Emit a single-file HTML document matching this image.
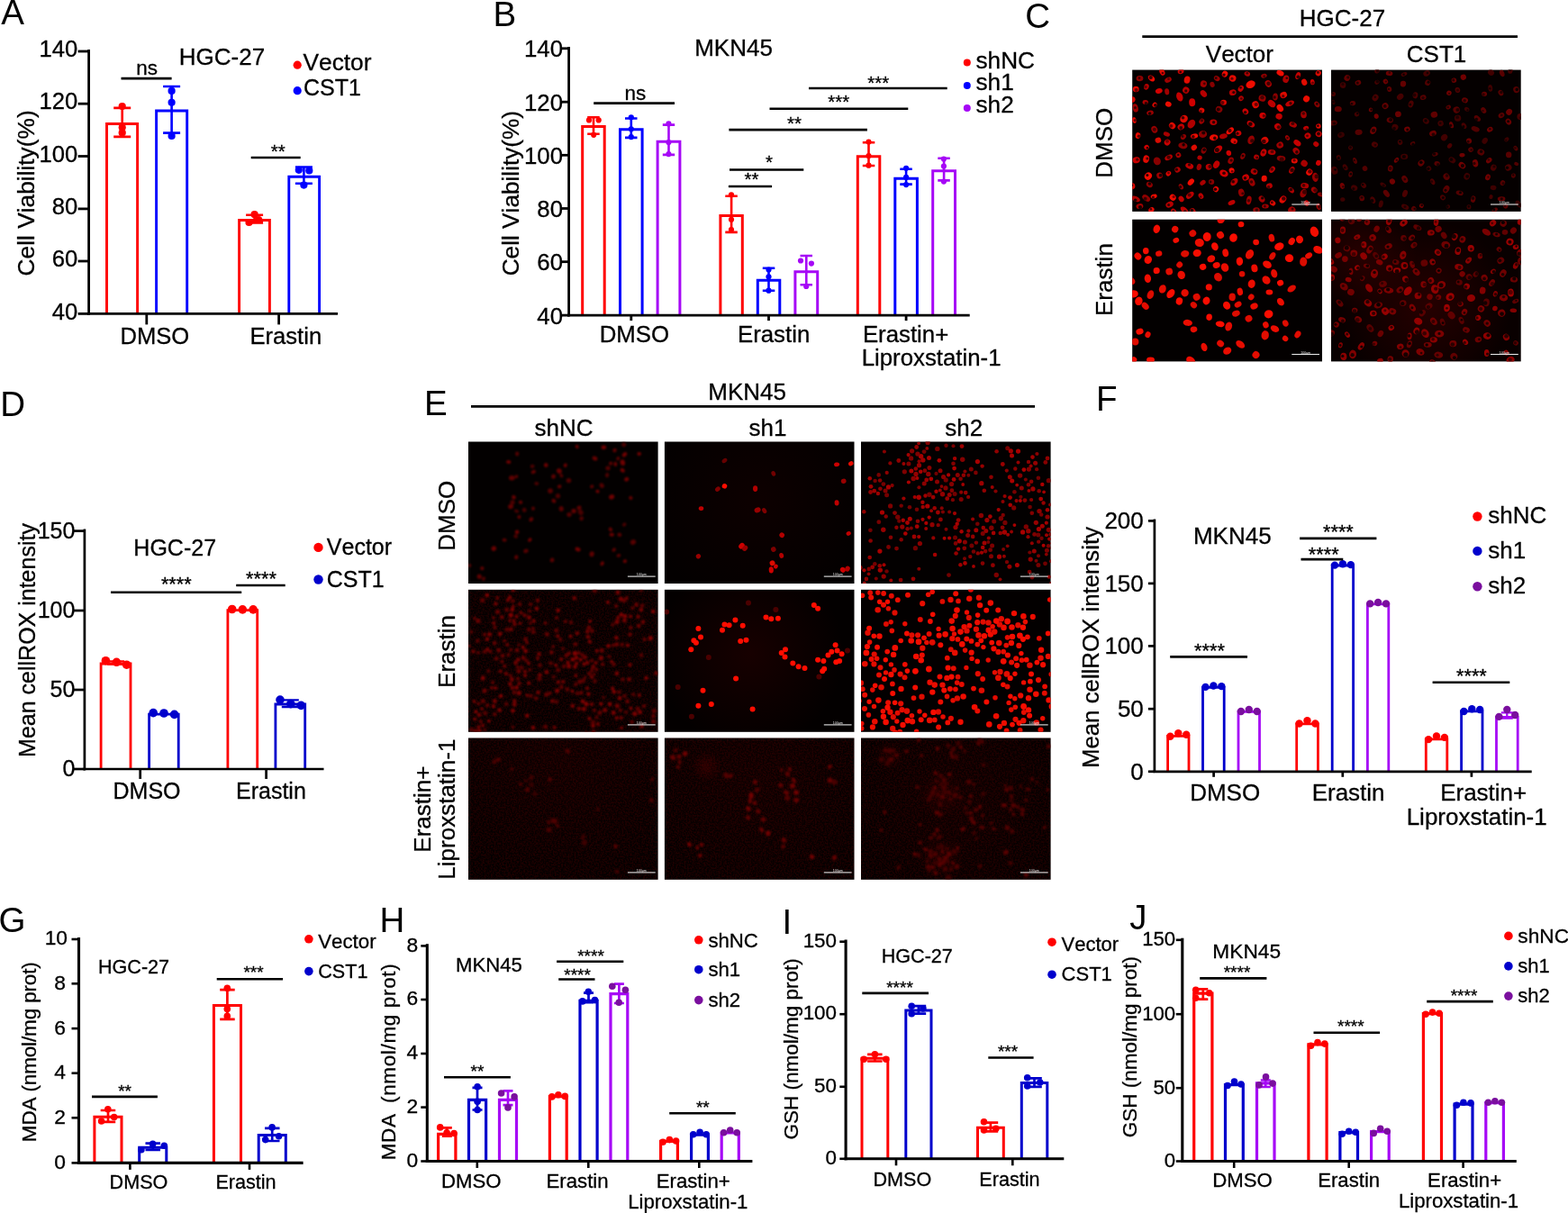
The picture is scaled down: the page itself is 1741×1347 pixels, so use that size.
<!DOCTYPE html>
<html lang="en"><head><meta charset="utf-8"><title>Figure</title>
<style>html,body{margin:0;padding:0;background:#fff;overflow:hidden}svg{display:block}text{font-family:"Liberation Sans",sans-serif;fill:#000;font-kerning:none;font-variant-ligatures:none;stroke:#000;stroke-width:0.3px;white-space:pre}</style>
</head><body>
<svg width="1741" height="1347" viewBox="0 0 1741 1347" role="img" aria-label="Figure panels A-J">
<defs><filter id="bl" x="-5%" y="-5%" width="110%" height="110%"><feGaussianBlur stdDeviation="0.55"/></filter><filter id="b2" x="-5%" y="-5%" width="110%" height="110%"><feGaussianBlur stdDeviation="0.95"/></filter><filter id="nz" x="0" y="0" width="100%" height="100%"><feTurbulence type="fractalNoise" baseFrequency="0.55" numOctaves="2" seed="3"/><feColorMatrix type="matrix" values="0 0 0 0 1  0 0 0 0 0  0 0 0 0 0  3 0 0 0 -1.05"/></filter><linearGradient id="th" x1="0" y1="0" x2="0" y2="1"><stop offset="0" stop-color="#b00" stop-opacity="1"/><stop offset="0.55" stop-color="#b00" stop-opacity="0.6"/><stop offset="1" stop-color="#b00" stop-opacity="0"/></linearGradient><radialGradient id="hz"><stop offset="0" stop-color="#c00" stop-opacity="0.5"/><stop offset="1" stop-color="#c00" stop-opacity="0"/></radialGradient></defs>
<rect width="1741" height="1347" fill="#fff"/>
<text x="1.2" y="27.4" font-size="38.5" text-anchor="start" style="stroke:none">A</text>
<text x="547.6" y="29" font-size="38.5" text-anchor="start" style="stroke:none">B</text>
<text x="1138.2" y="31.2" font-size="38.5" text-anchor="start" style="stroke:none">C</text>
<text x="0.2" y="461.7" font-size="38.5" text-anchor="start" style="stroke:none">D</text>
<text x="471" y="461.3" font-size="38.5" text-anchor="start" style="stroke:none">E</text>
<text x="1217" y="456.2" font-size="38.5" text-anchor="start" style="stroke:none">F</text>
<text x="-1.5" y="1035" font-size="38.5" text-anchor="start" style="stroke:none">G</text>
<text x="421.6" y="1035.3" font-size="38.5" text-anchor="start" style="stroke:none">H</text>
<text x="868.4" y="1037" font-size="38.5" text-anchor="start" style="stroke:none">I</text>
<text x="1254.2" y="1032.3" font-size="38.5" text-anchor="start" style="stroke:none">J</text>
<g>
<path d="M118.5 348.4 V137.5 H152.6 V348.4" fill="none" stroke="#ff0000" stroke-width="2.9"/>
<path d="M126.2 119.9 H145.2 M126.2 151.9 H145.2 M135.7 119.9 V151.9" fill="none" stroke="#ff0000" stroke-width="2.6"/>
<circle cx="135.7" cy="118.1" r="4.1" fill="#ff0000"/>
<circle cx="135.7" cy="141.5" r="4.1" fill="#ff0000"/>
<circle cx="135.7" cy="147.4" r="4.1" fill="#ff0000"/>
<path d="M173.6 348.4 V123 H207.7 V348.4" fill="none" stroke="#0000ff" stroke-width="2.9"/>
<path d="M181.1 96 H200.1 M181.1 147.6 H200.1 M190.6 96 V147.6" fill="none" stroke="#0000ff" stroke-width="2.6"/>
<circle cx="190.6" cy="100.9" r="4.1" fill="#0000ff"/>
<circle cx="190.6" cy="113.8" r="4.1" fill="#0000ff"/>
<circle cx="190.6" cy="150.9" r="4.1" fill="#0000ff"/>
<path d="M265.6 348.4 V244.5 H299.4 V348.4" fill="none" stroke="#ff0000" stroke-width="2.9"/>
<path d="M273.1 238.8 H292.1 M273.1 247.4 H292.1 M282.6 238.8 V247.4" fill="none" stroke="#ff0000" stroke-width="2.6"/>
<circle cx="282.6" cy="238.2" r="4.1" fill="#ff0000"/>
<circle cx="276.5" cy="247" r="4.1" fill="#ff0000"/>
<circle cx="287.2" cy="244" r="4.1" fill="#ff0000"/>
<path d="M320.8 348.4 V196.3 H354.6 V348.4" fill="none" stroke="#0000ff" stroke-width="2.9"/>
<path d="M327.9 185.5 H346.9 M327.9 203.7 H346.9 M337.4 185.5 V203.7" fill="none" stroke="#0000ff" stroke-width="2.6"/>
<circle cx="331.8" cy="188.8" r="4.1" fill="#0000ff"/>
<circle cx="343.3" cy="189.4" r="4.1" fill="#0000ff"/>
<circle cx="337.4" cy="205.6" r="4.1" fill="#0000ff"/>
<line x1="98.6" y1="55.1" x2="98.6" y2="349.8" stroke="#000" stroke-width="2.8"/>
<line x1="97.2" y1="348.4" x2="375" y2="348.4" stroke="#000" stroke-width="2.8"/>
<line x1="86.6" y1="57" x2="98.6" y2="57" stroke="#000" stroke-width="2.8"/>
<text x="86.3" y="63.1" font-size="25.6" text-anchor="end">140</text>
<line x1="86.6" y1="115.2" x2="98.6" y2="115.2" stroke="#000" stroke-width="2.8"/>
<text x="86.3" y="121.3" font-size="25.6" text-anchor="end">120</text>
<line x1="86.6" y1="173.5" x2="98.6" y2="173.5" stroke="#000" stroke-width="2.8"/>
<text x="86.3" y="179.6" font-size="25.6" text-anchor="end">100</text>
<line x1="86.6" y1="231.9" x2="98.6" y2="231.9" stroke="#000" stroke-width="2.8"/>
<text x="86.3" y="238" font-size="25.6" text-anchor="end">80</text>
<line x1="86.6" y1="290" x2="98.6" y2="290" stroke="#000" stroke-width="2.8"/>
<text x="86.3" y="296.1" font-size="25.6" text-anchor="end">60</text>
<line x1="86.6" y1="348.4" x2="98.6" y2="348.4" stroke="#000" stroke-width="2.8"/>
<text x="86.3" y="354.5" font-size="25.6" text-anchor="end">40</text>
<line x1="162.8" y1="348.4" x2="162.8" y2="360.4" stroke="#000" stroke-width="2.8"/>
<line x1="309.6" y1="348.4" x2="309.6" y2="360.4" stroke="#000" stroke-width="2.8"/>
<text x="171.8" y="382.2" font-size="25.6" text-anchor="middle">DMSO</text>
<text x="317.3" y="382.2" font-size="25.6" text-anchor="middle">Erastin</text>
<text x="38.3" y="214.4" font-size="26.3" text-anchor="middle" transform="rotate(-90 38.3 214.4)">Cell Viability(%)</text>
<text x="246.5" y="71.5" font-size="26" text-anchor="middle">HGC-27</text>
<line x1="134.5" y1="87.1" x2="190.6" y2="87.1" stroke="#000" stroke-width="2.6"/>
<text x="163.2" y="82.6" font-size="22.5" text-anchor="middle">ns</text>
<line x1="278.7" y1="175" x2="333.7" y2="175" stroke="#000" stroke-width="2.6"/>
<text x="308.7" y="175" font-size="20.5" text-anchor="middle">**</text>
<circle cx="330.2" cy="72.2" r="4.6" fill="#ff0000"/>
<text x="336.5" y="77.7" font-size="26.3" text-anchor="start">Vector</text>
<circle cx="330.2" cy="100.7" r="4.6" fill="#0000ff"/>
<text x="337" y="106" font-size="25" text-anchor="start">CST1</text>
</g>
<g>
<path d="M646.7 350.1 V140.6 H671.2 V350.1" fill="none" stroke="#ff0000" stroke-width="3"/>
<path d="M652.2 130.3 H665.7 M652.2 148.8 H665.7 M659 130.3 V148.8" fill="none" stroke="#ff0000" stroke-width="2.6"/>
<circle cx="654" cy="133.4" r="3.1" fill="#ff0000"/>
<circle cx="664.7" cy="133.4" r="3.1" fill="#ff0000"/>
<circle cx="659.2" cy="149.8" r="3.1" fill="#ff0000"/>
<path d="M688.5 350.1 V143.7 H713.1 V350.1" fill="none" stroke="#0000ff" stroke-width="3"/>
<path d="M694 131.5 H707.5 M694 152.9 H707.5 M700.8 131.5 V152.9" fill="none" stroke="#0000ff" stroke-width="2.6"/>
<circle cx="700.8" cy="130.3" r="3.1" fill="#0000ff"/>
<circle cx="700.8" cy="143.3" r="3.1" fill="#0000ff"/>
<circle cx="700.8" cy="152.1" r="3.1" fill="#0000ff"/>
<path d="M730.1 350.1 V157.2 H754.9 V350.1" fill="none" stroke="#a608f6" stroke-width="3"/>
<path d="M735.8 138.6 H749.2 M735.8 171.9 H749.2 M742.5 138.6 V171.9" fill="none" stroke="#a608f6" stroke-width="2.6"/>
<circle cx="742.4" cy="137.4" r="3.1" fill="#a608f6"/>
<circle cx="742.4" cy="158.1" r="3.1" fill="#a608f6"/>
<circle cx="742.4" cy="171.1" r="3.1" fill="#a608f6"/>
<path d="M799.9 350.1 V239.6 H824.3 V350.1" fill="none" stroke="#ff0000" stroke-width="3"/>
<path d="M805.3 217.7 H818.8 M805.3 257.9 H818.8 M812.1 217.7 V257.9" fill="none" stroke="#ff0000" stroke-width="2.6"/>
<circle cx="812" cy="216.3" r="3.1" fill="#ff0000"/>
<circle cx="812" cy="243.8" r="3.1" fill="#ff0000"/>
<circle cx="812" cy="255" r="3.1" fill="#ff0000"/>
<path d="M841.3 350.1 V311.2 H865.8 V350.1" fill="none" stroke="#0000ff" stroke-width="3"/>
<path d="M846.8 297.8 H860.3 M846.8 322.7 H860.3 M853.5 297.8 V322.7" fill="none" stroke="#0000ff" stroke-width="2.6"/>
<circle cx="853.5" cy="299.5" r="3.1" fill="#0000ff"/>
<circle cx="853.5" cy="307.3" r="3.1" fill="#0000ff"/>
<circle cx="853.5" cy="322.7" r="3.1" fill="#0000ff"/>
<path d="M882.9 350.1 V301.7 H907.7 V350.1" fill="none" stroke="#a608f6" stroke-width="3"/>
<path d="M888.5 284 H902 M888.5 316.3 H902 M895.3 284 V316.3" fill="none" stroke="#a608f6" stroke-width="2.6"/>
<circle cx="889" cy="289.5" r="3.1" fill="#a608f6"/>
<circle cx="900.9" cy="292.6" r="3.1" fill="#a608f6"/>
<circle cx="895.2" cy="318" r="3.1" fill="#a608f6"/>
<path d="M952.3 350.1 V173.8 H976.8 V350.1" fill="none" stroke="#ff0000" stroke-width="3"/>
<path d="M957.8 158.3 H971.3 M957.8 184 H971.3 M964.5 158.3 V184" fill="none" stroke="#ff0000" stroke-width="2.6"/>
<circle cx="964.5" cy="157.6" r="3.1" fill="#ff0000"/>
<circle cx="964.5" cy="173" r="3.1" fill="#ff0000"/>
<circle cx="964.5" cy="183.7" r="3.1" fill="#ff0000"/>
<path d="M993.8 350.1 V198.3 H1018.4 V350.1" fill="none" stroke="#0000ff" stroke-width="3"/>
<path d="M999.3 187.8 H1012.8 M999.3 204.6 H1012.8 M1006.1 187.8 V204.6" fill="none" stroke="#0000ff" stroke-width="2.6"/>
<circle cx="1006.1" cy="186.8" r="3.1" fill="#0000ff"/>
<circle cx="1006.1" cy="196.8" r="3.1" fill="#0000ff"/>
<circle cx="1006.1" cy="205.1" r="3.1" fill="#0000ff"/>
<path d="M1035.7 350.1 V189.8 H1060.5 V350.1" fill="none" stroke="#a608f6" stroke-width="3"/>
<path d="M1041.3 175.7 H1054.8 M1041.3 200.4 H1054.8 M1048.1 175.7 V200.4" fill="none" stroke="#a608f6" stroke-width="2.6"/>
<circle cx="1047.9" cy="176.6" r="3.1" fill="#a608f6"/>
<circle cx="1047.9" cy="184.5" r="3.1" fill="#a608f6"/>
<circle cx="1047.9" cy="201.6" r="3.1" fill="#a608f6"/>
<line x1="631.6" y1="51.9" x2="631.6" y2="351.5" stroke="#000" stroke-width="2.8"/>
<line x1="630.2" y1="350.1" x2="1076.7" y2="350.1" stroke="#000" stroke-width="2.8"/>
<line x1="623.6" y1="53.8" x2="631.6" y2="53.8" stroke="#000" stroke-width="2.8"/>
<text x="625" y="63.2" font-size="25.8" text-anchor="end">140</text>
<line x1="623.6" y1="113.2" x2="631.6" y2="113.2" stroke="#000" stroke-width="2.8"/>
<text x="625" y="122.6" font-size="25.8" text-anchor="end">120</text>
<line x1="623.6" y1="172.3" x2="631.6" y2="172.3" stroke="#000" stroke-width="2.8"/>
<text x="625" y="181.7" font-size="25.8" text-anchor="end">100</text>
<line x1="623.6" y1="231.5" x2="631.6" y2="231.5" stroke="#000" stroke-width="2.8"/>
<text x="625" y="240.9" font-size="25.8" text-anchor="end">80</text>
<line x1="623.6" y1="290.7" x2="631.6" y2="290.7" stroke="#000" stroke-width="2.8"/>
<text x="625" y="300.1" font-size="25.8" text-anchor="end">60</text>
<line x1="623.6" y1="350.1" x2="631.6" y2="350.1" stroke="#000" stroke-width="2.8"/>
<text x="625" y="359.5" font-size="25.8" text-anchor="end">40</text>
<line x1="700.8" y1="350.1" x2="700.8" y2="356.1" stroke="#000" stroke-width="2.8"/>
<line x1="853.5" y1="350.1" x2="853.5" y2="356.1" stroke="#000" stroke-width="2.8"/>
<line x1="1006.1" y1="350.1" x2="1006.1" y2="356.1" stroke="#000" stroke-width="2.8"/>
<text x="704.4" y="380.3" font-size="25.8" text-anchor="middle">DMSO</text>
<text x="859.1" y="380.3" font-size="25.8" text-anchor="middle">Erastin</text>
<text x="1005.6" y="380.3" font-size="25.8" text-anchor="middle">Erastin+</text>
<text x="1034.1" y="406" font-size="25.8" text-anchor="middle">Liproxstatin-1</text>
<text x="575.6" y="214.6" font-size="26.2" text-anchor="middle" transform="rotate(-90 575.6 214.6)">Cell Viability(%)</text>
<text x="814.5" y="61.9" font-size="26" text-anchor="middle">MKN45</text>
<line x1="659.2" y1="114.6" x2="749" y2="114.6" stroke="#000" stroke-width="2.6"/>
<text x="705.5" y="110.8" font-size="22.5" text-anchor="middle">ns</text>
<line x1="808.9" y1="207" x2="857.1" y2="207" stroke="#000" stroke-width="2.6"/>
<text x="834.5" y="206.4" font-size="20.5" text-anchor="middle">**</text>
<line x1="810" y1="188.5" x2="892.3" y2="188.5" stroke="#000" stroke-width="2.6"/>
<text x="854" y="187.4" font-size="20.5" text-anchor="middle">*</text>
<line x1="809.4" y1="144.1" x2="962.9" y2="144.1" stroke="#000" stroke-width="2.6"/>
<text x="882.1" y="143.9" font-size="20.5" text-anchor="middle">**</text>
<line x1="854.5" y1="120.8" x2="1008.3" y2="120.8" stroke="#000" stroke-width="2.6"/>
<text x="931.3" y="120.4" font-size="20.5" text-anchor="middle">***</text>
<line x1="898" y1="98" x2="1051.7" y2="98" stroke="#000" stroke-width="2.6"/>
<text x="975.2" y="98.8" font-size="20.5" text-anchor="middle">***</text>
<circle cx="1073.8" cy="69.5" r="4" fill="#ff0000"/>
<text x="1083.5" y="75.6" font-size="26.2" text-anchor="start">shNC</text>
<circle cx="1073.8" cy="95" r="4" fill="#0000ff"/>
<text x="1083.5" y="100.1" font-size="26.2" text-anchor="start">sh1</text>
<circle cx="1073.8" cy="120" r="4" fill="#a608f6"/>
<text x="1083.5" y="125.1" font-size="26.2" text-anchor="start">sh2</text>
</g>
<g>
<path d="M112.1 854 V737 H145 V854" fill="none" stroke="#ff0000" stroke-width="2.8"/>
<path d="M119.1 734.3 H138.1 M119.1 737.6 H138.1 M128.6 734.3 V737.6" fill="none" stroke="#ff0000" stroke-width="2.3"/>
<circle cx="117.4" cy="733.7" r="4.8" fill="#ff0000"/>
<circle cx="129.4" cy="735.3" r="4.8" fill="#ff0000"/>
<circle cx="140.6" cy="738.2" r="4.8" fill="#ff0000"/>
<path d="M165.6 854 V793.1 H198.2 V854" fill="none" stroke="#0000cc" stroke-width="2.8"/>
<circle cx="170.2" cy="791.6" r="4.8" fill="#0000cc"/>
<circle cx="182" cy="792" r="4.8" fill="#0000cc"/>
<circle cx="193.6" cy="793.4" r="4.8" fill="#0000cc"/>
<path d="M252.9 854 V677.7 H285.7 V854" fill="none" stroke="#ff0000" stroke-width="2.8"/>
<circle cx="257.7" cy="676.5" r="4.8" fill="#ff0000"/>
<circle cx="269.3" cy="676.9" r="4.8" fill="#ff0000"/>
<circle cx="281.1" cy="676.9" r="4.8" fill="#ff0000"/>
<path d="M305.9 854 V782 H338.7 V854" fill="none" stroke="#0000cc" stroke-width="2.8"/>
<path d="M312.8 777.3 H331.8 M312.8 785 H331.8 M322.3 777.3 V785" fill="none" stroke="#0000cc" stroke-width="2.3"/>
<circle cx="311" cy="777.1" r="4.8" fill="#0000cc"/>
<circle cx="322.8" cy="781.6" r="4.8" fill="#0000cc"/>
<circle cx="334.3" cy="783.4" r="4.8" fill="#0000cc"/>
<line x1="93.9" y1="587.6" x2="93.9" y2="855.4" stroke="#000" stroke-width="2.7"/>
<line x1="92.6" y1="854" x2="359.5" y2="854" stroke="#000" stroke-width="2.7"/>
<line x1="81.9" y1="589.6" x2="93.9" y2="589.6" stroke="#000" stroke-width="2.7"/>
<text x="83.4" y="597.5" font-size="25" text-anchor="end">150</text>
<line x1="81.9" y1="678" x2="93.9" y2="678" stroke="#000" stroke-width="2.7"/>
<text x="83.4" y="685.9" font-size="25" text-anchor="end">100</text>
<line x1="81.9" y1="766" x2="93.9" y2="766" stroke="#000" stroke-width="2.7"/>
<text x="83.4" y="773.9" font-size="25" text-anchor="end">50</text>
<line x1="81.9" y1="854" x2="93.9" y2="854" stroke="#000" stroke-width="2.7"/>
<text x="83.4" y="861.9" font-size="25" text-anchor="end">0</text>
<line x1="155.7" y1="854" x2="155.7" y2="865" stroke="#000" stroke-width="2.7"/>
<line x1="295.6" y1="854" x2="295.6" y2="865" stroke="#000" stroke-width="2.7"/>
<text x="163" y="886.6" font-size="25" text-anchor="middle">DMSO</text>
<text x="300.9" y="886.6" font-size="25" text-anchor="middle">Erastin</text>
<text x="39" y="711" font-size="25" text-anchor="middle" transform="rotate(-90 39 711)">Mean cellROX intensity</text>
<text x="194.2" y="617.2" font-size="25" text-anchor="middle">HGC-27</text>
<line x1="123" y1="657.7" x2="268.2" y2="657.7" stroke="#000" stroke-width="2.6"/>
<text x="195.8" y="656.4" font-size="21.7" text-anchor="middle">****</text>
<line x1="262.2" y1="650" x2="316.7" y2="650" stroke="#000" stroke-width="2.6"/>
<text x="290" y="649.7" font-size="21.7" text-anchor="middle">****</text>
<circle cx="353.5" cy="607.9" r="5.2" fill="#ff0000"/>
<text x="362.8" y="616.1" font-size="25" text-anchor="start">Vector</text>
<circle cx="353.5" cy="643.5" r="5.2" fill="#0000cc"/>
<text x="362.8" y="651.7" font-size="25" text-anchor="start">CST1</text>
</g>
<g>
<path d="M1296.6 856.8 V817.4 H1320 V856.8" fill="none" stroke="#ff0000" stroke-width="2.8"/>
<circle cx="1299.4" cy="817.8" r="4.2" fill="#ff0000"/>
<circle cx="1308.3" cy="814.3" r="4.2" fill="#ff0000"/>
<circle cx="1317.2" cy="815.7" r="4.2" fill="#ff0000"/>
<path d="M1335.5 856.8 V763.3 H1359.2 V856.8" fill="none" stroke="#0000cc" stroke-width="2.8"/>
<circle cx="1338.5" cy="762.9" r="4.2" fill="#0000cc"/>
<circle cx="1347.4" cy="761.5" r="4.2" fill="#0000cc"/>
<circle cx="1356.3" cy="762.1" r="4.2" fill="#0000cc"/>
<path d="M1375 856.8 V790.4 H1398.5 V856.8" fill="none" stroke="#a608f6" stroke-width="2.8"/>
<circle cx="1377.9" cy="790" r="4.2" fill="#7a0f9e"/>
<circle cx="1386.8" cy="788" r="4.2" fill="#7a0f9e"/>
<circle cx="1395.7" cy="790" r="4.2" fill="#7a0f9e"/>
<path d="M1439.7 856.8 V803.9 H1463.4 V856.8" fill="none" stroke="#ff0000" stroke-width="2.8"/>
<circle cx="1442.6" cy="803.5" r="4.2" fill="#ff0000"/>
<circle cx="1451.5" cy="800.2" r="4.2" fill="#ff0000"/>
<circle cx="1460.4" cy="803.5" r="4.2" fill="#ff0000"/>
<path d="M1479.2 856.8 V628 H1502.6 V856.8" fill="none" stroke="#0000cc" stroke-width="2.8"/>
<circle cx="1482" cy="627.6" r="4.2" fill="#0000cc"/>
<circle cx="1490.9" cy="626.3" r="4.2" fill="#0000cc"/>
<circle cx="1499.8" cy="627.1" r="4.2" fill="#0000cc"/>
<path d="M1518.4 856.8 V670.8 H1541.8 V856.8" fill="none" stroke="#a608f6" stroke-width="2.8"/>
<circle cx="1521.2" cy="670.4" r="4.2" fill="#7a0f9e"/>
<circle cx="1530.1" cy="669" r="4.2" fill="#7a0f9e"/>
<circle cx="1539" cy="670.4" r="4.2" fill="#7a0f9e"/>
<path d="M1583.3 856.8 V820.9 H1606.8 V856.8" fill="none" stroke="#ff0000" stroke-width="2.8"/>
<circle cx="1586.1" cy="821.1" r="4.2" fill="#ff0000"/>
<circle cx="1595" cy="817.5" r="4.2" fill="#ff0000"/>
<circle cx="1603.9" cy="818.9" r="4.2" fill="#ff0000"/>
<path d="M1622.6 856.8 V789.8 H1646 V856.8" fill="none" stroke="#0000cc" stroke-width="2.8"/>
<circle cx="1625.4" cy="790" r="4.2" fill="#0000cc"/>
<circle cx="1634.3" cy="787.2" r="4.2" fill="#0000cc"/>
<circle cx="1643.2" cy="788" r="4.2" fill="#0000cc"/>
<path d="M1661.5 856.8 V796.3 H1685.2 V856.8" fill="none" stroke="#a608f6" stroke-width="2.8"/>
<path d="M1666.8 791.3 H1679.8 M1666.8 797.5 H1679.8 M1673.3 791.3 V797.5" fill="none" stroke="#a608f6" stroke-width="2.3"/>
<circle cx="1664.4" cy="795.9" r="4.2" fill="#7a0f9e"/>
<circle cx="1673.3" cy="788" r="4.2" fill="#7a0f9e"/>
<circle cx="1682.2" cy="794" r="4.2" fill="#7a0f9e"/>
<line x1="1281.9" y1="576.4" x2="1281.9" y2="858.1" stroke="#000" stroke-width="2.7"/>
<line x1="1280.6" y1="856.8" x2="1700.7" y2="856.8" stroke="#000" stroke-width="2.7"/>
<line x1="1274.9" y1="578.4" x2="1281.9" y2="578.4" stroke="#000" stroke-width="2.7"/>
<text x="1269.8" y="587.4" font-size="26" text-anchor="end">200</text>
<line x1="1274.9" y1="647.9" x2="1281.9" y2="647.9" stroke="#000" stroke-width="2.7"/>
<text x="1269.8" y="656.9" font-size="26" text-anchor="end">150</text>
<line x1="1274.9" y1="717.4" x2="1281.9" y2="717.4" stroke="#000" stroke-width="2.7"/>
<text x="1269.8" y="726.4" font-size="26" text-anchor="end">100</text>
<line x1="1274.9" y1="787.2" x2="1281.9" y2="787.2" stroke="#000" stroke-width="2.7"/>
<text x="1269.8" y="796.2" font-size="26" text-anchor="end">50</text>
<line x1="1274.9" y1="856.8" x2="1281.9" y2="856.8" stroke="#000" stroke-width="2.7"/>
<text x="1269.8" y="865.8" font-size="26" text-anchor="end">0</text>
<line x1="1347.6" y1="856.8" x2="1347.6" y2="862.8" stroke="#000" stroke-width="2.7"/>
<line x1="1490.8" y1="856.8" x2="1490.8" y2="862.8" stroke="#000" stroke-width="2.7"/>
<line x1="1633.9" y1="856.8" x2="1633.9" y2="862.8" stroke="#000" stroke-width="2.7"/>
<text x="1360.2" y="889.2" font-size="26" text-anchor="middle">DMSO</text>
<text x="1497.1" y="889.2" font-size="26" text-anchor="middle">Erastin</text>
<text x="1647.2" y="889.2" font-size="26" text-anchor="middle">Erastin+</text>
<text x="1639.7" y="916" font-size="26" text-anchor="middle">Liproxstatin-1</text>
<text x="1220" y="719" font-size="25.8" text-anchor="middle" transform="rotate(-90 1220 719)">Mean cellROX intensity</text>
<text x="1368.3" y="603.8" font-size="26" text-anchor="middle">MKN45</text>
<line x1="1299.2" y1="729.4" x2="1385" y2="729.4" stroke="#000" stroke-width="2.6"/>
<text x="1343" y="729.5" font-size="21.7" text-anchor="middle">****</text>
<line x1="1443.1" y1="597.9" x2="1528.4" y2="597.9" stroke="#000" stroke-width="2.6"/>
<text x="1485.9" y="598.2" font-size="21.7" text-anchor="middle">****</text>
<line x1="1444.5" y1="621.1" x2="1491.3" y2="621.1" stroke="#000" stroke-width="2.6"/>
<text x="1469.7" y="622.6" font-size="21.7" text-anchor="middle">****</text>
<line x1="1590.6" y1="757.8" x2="1676.3" y2="757.8" stroke="#000" stroke-width="2.6"/>
<text x="1633.9" y="757.9" font-size="21.7" text-anchor="middle">****</text>
<circle cx="1640.4" cy="573.5" r="5.2" fill="#ff0000"/>
<text x="1652.3" y="581.1" font-size="26" text-anchor="start">shNC</text>
<circle cx="1640.4" cy="611.9" r="5.2" fill="#0000cc"/>
<text x="1652.3" y="620" font-size="26" text-anchor="start">sh1</text>
<circle cx="1640.4" cy="651.2" r="5.2" fill="#7a0f9e"/>
<text x="1652.3" y="659.3" font-size="26" text-anchor="start">sh2</text>
</g>
<g>
<path d="M104.9 1291.4 V1240.3 H135 V1291.4" fill="none" stroke="#ff0000" stroke-width="3"/>
<path d="M111.7 1233 H128.2 M111.7 1245.8 H128.2 M120 1233 V1245.8" fill="none" stroke="#ff0000" stroke-width="2.7"/>
<circle cx="119.8" cy="1231.7" r="3.8" fill="#ff0000"/>
<circle cx="112.6" cy="1245" r="3.8" fill="#ff0000"/>
<circle cx="126.7" cy="1240.5" r="3.8" fill="#ff0000"/>
<path d="M154.7 1291.4 V1274.3 H184.8 V1291.4" fill="none" stroke="#0000cc" stroke-width="3"/>
<path d="M161.5 1269.6 H178 M161.5 1276.8 H178 M169.8 1269.6 V1276.8" fill="none" stroke="#0000cc" stroke-width="2.7"/>
<circle cx="156.9" cy="1276.8" r="3.8" fill="#0000cc"/>
<circle cx="169.6" cy="1270.4" r="3.8" fill="#0000cc"/>
<circle cx="182.3" cy="1272.3" r="3.8" fill="#0000cc"/>
<path d="M237.4 1291.4 V1116.5 H267.5 V1291.4" fill="none" stroke="#ff0000" stroke-width="3"/>
<path d="M244.2 1099.2 H260.7 M244.2 1131.8 H260.7 M252.4 1099.2 V1131.8" fill="none" stroke="#ff0000" stroke-width="2.7"/>
<circle cx="252.3" cy="1097.3" r="3.8" fill="#ff0000"/>
<circle cx="252.3" cy="1120.4" r="3.8" fill="#ff0000"/>
<circle cx="252.3" cy="1128.4" r="3.8" fill="#ff0000"/>
<path d="M287.2 1291.4 V1260.6 H317.3 V1291.4" fill="none" stroke="#0000cc" stroke-width="3"/>
<path d="M294 1252.9 H310.5 M294 1267 H310.5 M302.2 1252.9 V1267" fill="none" stroke="#0000cc" stroke-width="2.7"/>
<circle cx="302.1" cy="1251.9" r="3.8" fill="#0000cc"/>
<circle cx="294.7" cy="1265.6" r="3.8" fill="#0000cc"/>
<circle cx="309.6" cy="1261.7" r="3.8" fill="#0000cc"/>
<line x1="87.5" y1="1040.9" x2="87.5" y2="1293" stroke="#000" stroke-width="3.1"/>
<line x1="86" y1="1291.4" x2="336.6" y2="1291.4" stroke="#000" stroke-width="3.1"/>
<line x1="79.5" y1="1043" x2="87.5" y2="1043" stroke="#000" stroke-width="2.6"/>
<text x="75" y="1049.4" font-size="22.8" text-anchor="end">10</text>
<line x1="79.5" y1="1092.3" x2="87.5" y2="1092.3" stroke="#000" stroke-width="2.6"/>
<text x="73" y="1098.7" font-size="22.8" text-anchor="end">8</text>
<line x1="79.5" y1="1142.1" x2="87.5" y2="1142.1" stroke="#000" stroke-width="2.6"/>
<text x="73" y="1148.5" font-size="22.8" text-anchor="end">6</text>
<line x1="79.5" y1="1191.7" x2="87.5" y2="1191.7" stroke="#000" stroke-width="2.6"/>
<text x="73" y="1198.1" font-size="22.8" text-anchor="end">4</text>
<line x1="79.5" y1="1241.3" x2="87.5" y2="1241.3" stroke="#000" stroke-width="2.6"/>
<text x="73" y="1247.7" font-size="22.8" text-anchor="end">2</text>
<line x1="79.5" y1="1291.4" x2="87.5" y2="1291.4" stroke="#000" stroke-width="2.6"/>
<text x="73" y="1297.8" font-size="22.8" text-anchor="end">0</text>
<line x1="144.4" y1="1291.4" x2="144.4" y2="1298.9" stroke="#000" stroke-width="2.6"/>
<line x1="277" y1="1291.4" x2="277" y2="1298.9" stroke="#000" stroke-width="2.6"/>
<text x="154" y="1320" font-size="21.6" text-anchor="middle">DMSO</text>
<text x="273" y="1320" font-size="21.6" text-anchor="middle">Erastin</text>
<text x="40.5" y="1168.2" font-size="22.5" text-anchor="middle" transform="rotate(-90 40.5 1168.2)" textLength="200" lengthAdjust="spacing">MDA (nmol/mg prot)</text>
<text x="148.5" y="1081.4" font-size="21.6" text-anchor="middle">HGC-27</text>
<line x1="102" y1="1217.9" x2="174.9" y2="1217.9" stroke="#000" stroke-width="2.6"/>
<text x="138.6" y="1217.5" font-size="19" text-anchor="middle">**</text>
<line x1="240.7" y1="1087.3" x2="314.1" y2="1087.3" stroke="#000" stroke-width="2.6"/>
<text x="281.5" y="1086.3" font-size="19" text-anchor="middle">***</text>
<circle cx="342.9" cy="1042.8" r="4.8" fill="#ff0000"/>
<text x="353.2" y="1053.1" font-size="22.3" text-anchor="start">Vector</text>
<circle cx="342.9" cy="1078.6" r="4.8" fill="#0000cc"/>
<text x="353.2" y="1085.9" font-size="21.6" text-anchor="start">CST1</text>
</g>
<g>
<path d="M486.6 1289.5 V1259.3 H505.9 V1289.5" fill="none" stroke="#ff0000" stroke-width="3.2"/>
<path d="M490.8 1252.4 H501.8 M490.8 1261.7 H501.8 M496.2 1252.4 V1261.7" fill="none" stroke="#ff0000" stroke-width="2.7"/>
<circle cx="488.7" cy="1251.9" r="3.8" fill="#ff0000"/>
<circle cx="496.1" cy="1257.7" r="3.8" fill="#ff0000"/>
<circle cx="504.1" cy="1258.5" r="3.8" fill="#ff0000"/>
<path d="M520.5 1289.5 V1221.4 H539.6 V1289.5" fill="none" stroke="#0000cc" stroke-width="3.2"/>
<path d="M524.5 1207.9 H535.5 M524.5 1232.5 H535.5 M530 1207.9 V1232.5" fill="none" stroke="#0000cc" stroke-width="2.7"/>
<circle cx="530.1" cy="1206.8" r="3.8" fill="#0000cc"/>
<circle cx="530.1" cy="1223.2" r="3.8" fill="#0000cc"/>
<circle cx="530.1" cy="1232.5" r="3.8" fill="#0000cc"/>
<path d="M554.5 1289.5 V1221.4 H573.5 V1289.5" fill="none" stroke="#a608f6" stroke-width="3.2"/>
<path d="M558.5 1211.3 H569.5 M558.5 1227.2 H569.5 M564 1211.3 V1227.2" fill="none" stroke="#a608f6" stroke-width="2.7"/>
<circle cx="556.6" cy="1214" r="3.8" fill="#7a0f9e"/>
<circle cx="571.1" cy="1217.9" r="3.8" fill="#7a0f9e"/>
<circle cx="564" cy="1229.9" r="3.8" fill="#7a0f9e"/>
<path d="M610.4 1289.5 V1217.7 H629.2 V1289.5" fill="none" stroke="#ff0000" stroke-width="3.2"/>
<circle cx="612.8" cy="1217.9" r="3.8" fill="#ff0000"/>
<circle cx="619.9" cy="1215.8" r="3.8" fill="#ff0000"/>
<circle cx="627.3" cy="1217.4" r="3.8" fill="#ff0000"/>
<path d="M644 1289.5 V1111.4 H663.1 V1289.5" fill="none" stroke="#0000cc" stroke-width="3.2"/>
<path d="M648 1102.6 H659 M648 1113.2 H659 M653.5 1102.6 V1113.2" fill="none" stroke="#0000cc" stroke-width="2.7"/>
<circle cx="653.3" cy="1101.3" r="3.8" fill="#0000cc"/>
<circle cx="646.7" cy="1111.9" r="3.8" fill="#0000cc"/>
<circle cx="660.5" cy="1110.6" r="3.8" fill="#0000cc"/>
<path d="M678 1289.5 V1103.7 H696.8 V1289.5" fill="none" stroke="#a608f6" stroke-width="3.2"/>
<path d="M681.9 1092.6 H692.9 M681.9 1114 H692.9 M687.4 1092.6 V1114" fill="none" stroke="#a608f6" stroke-width="2.7"/>
<circle cx="679.8" cy="1095.2" r="3.8" fill="#7a0f9e"/>
<circle cx="694.4" cy="1099.2" r="3.8" fill="#7a0f9e"/>
<circle cx="687.2" cy="1113.2" r="3.8" fill="#7a0f9e"/>
<path d="M733.6 1289.5 V1267.3 H752.4 V1289.5" fill="none" stroke="#ff0000" stroke-width="3.2"/>
<circle cx="736" cy="1268.3" r="3.8" fill="#ff0000"/>
<circle cx="743.4" cy="1265.6" r="3.8" fill="#ff0000"/>
<circle cx="750.6" cy="1267" r="3.8" fill="#ff0000"/>
<path d="M767.6 1289.5 V1260.1 H786.4 V1289.5" fill="none" stroke="#0000cc" stroke-width="3.2"/>
<circle cx="769.7" cy="1259.8" r="3.8" fill="#0000cc"/>
<circle cx="777.1" cy="1257.2" r="3.8" fill="#0000cc"/>
<circle cx="784.2" cy="1259.8" r="3.8" fill="#0000cc"/>
<path d="M801.2 1289.5 V1258 H820.3 V1289.5" fill="none" stroke="#a608f6" stroke-width="3.2"/>
<circle cx="803.6" cy="1257.7" r="3.8" fill="#7a0f9e"/>
<circle cx="810.7" cy="1255" r="3.8" fill="#7a0f9e"/>
<circle cx="818.2" cy="1257.7" r="3.8" fill="#7a0f9e"/>
<line x1="474.3" y1="1048.2" x2="474.3" y2="1291" stroke="#000" stroke-width="3.1"/>
<line x1="472.8" y1="1289.5" x2="835.4" y2="1289.5" stroke="#000" stroke-width="3.1"/>
<line x1="467.3" y1="1050.4" x2="474.3" y2="1050.4" stroke="#000" stroke-width="2.6"/>
<text x="464.3" y="1056.8" font-size="22.8" text-anchor="end">8</text>
<line x1="467.3" y1="1110" x2="474.3" y2="1110" stroke="#000" stroke-width="2.6"/>
<text x="464.3" y="1116.4" font-size="22.8" text-anchor="end">6</text>
<line x1="467.3" y1="1170" x2="474.3" y2="1170" stroke="#000" stroke-width="2.6"/>
<text x="464.3" y="1176.4" font-size="22.8" text-anchor="end">4</text>
<line x1="467.3" y1="1229.6" x2="474.3" y2="1229.6" stroke="#000" stroke-width="2.6"/>
<text x="464.3" y="1236" font-size="22.8" text-anchor="end">2</text>
<line x1="467.3" y1="1289.5" x2="474.3" y2="1289.5" stroke="#000" stroke-width="2.6"/>
<text x="464.3" y="1295.9" font-size="22.8" text-anchor="end">0</text>
<line x1="529.8" y1="1289.5" x2="529.8" y2="1297" stroke="#000" stroke-width="2.6"/>
<line x1="653.3" y1="1289.5" x2="653.3" y2="1297" stroke="#000" stroke-width="2.6"/>
<line x1="776.3" y1="1289.5" x2="776.3" y2="1297" stroke="#000" stroke-width="2.6"/>
<text x="523.2" y="1319.4" font-size="22.2" text-anchor="middle">DMSO</text>
<text x="641.1" y="1319.4" font-size="22.2" text-anchor="middle">Erastin</text>
<text x="769.7" y="1319.4" font-size="22.2" text-anchor="middle">Erastin+</text>
<text x="763.8" y="1341.7" font-size="22.2" text-anchor="middle">Liproxstatin-1</text>
<text x="439.2" y="1179.3" font-size="22.5" text-anchor="middle" transform="rotate(-90 439.2 1179.3)" textLength="218" lengthAdjust="spacing">MDA<tspan dx="4.5"> </tspan>(nmol/mg prot)</text>
<text x="542.9" y="1078.8" font-size="22.2" text-anchor="middle">MKN45</text>
<line x1="493" y1="1196.2" x2="566.9" y2="1196.2" stroke="#000" stroke-width="2.6"/>
<text x="530" y="1196.3" font-size="19" text-anchor="middle">**</text>
<line x1="618.1" y1="1067.7" x2="692.3" y2="1067.7" stroke="#000" stroke-width="2.6"/>
<text x="656" y="1067.7" font-size="19" text-anchor="middle">****</text>
<line x1="620.2" y1="1087.5" x2="660.5" y2="1087.5" stroke="#000" stroke-width="2.6"/>
<text x="641.1" y="1089.4" font-size="19" text-anchor="middle">****</text>
<line x1="743.2" y1="1236.2" x2="816.8" y2="1236.2" stroke="#000" stroke-width="2.6"/>
<text x="780.3" y="1235.5" font-size="19" text-anchor="middle">**</text>
<circle cx="775.8" cy="1043.8" r="4.8" fill="#ff0000"/>
<text x="786.4" y="1051.5" font-size="22.2" text-anchor="start">shNC</text>
<circle cx="775.8" cy="1076.7" r="4.8" fill="#0000cc"/>
<text x="786.4" y="1084.1" font-size="22.2" text-anchor="start">sh1</text>
<circle cx="775.8" cy="1110.6" r="4.8" fill="#7a0f9e"/>
<text x="786.4" y="1118" font-size="22.2" text-anchor="start">sh2</text>
</g>
<g>
<path d="M957 1286.8 V1175.3 H985.8 V1286.8" fill="none" stroke="#ff0000" stroke-width="3"/>
<path d="M963.1 1170.8 H979.6 M963.1 1178.5 H979.6 M971.4 1170.8 V1178.5" fill="none" stroke="#ff0000" stroke-width="2.7"/>
<circle cx="959.2" cy="1176.3" r="3.8" fill="#ff0000"/>
<circle cx="971.4" cy="1170.8" r="3.8" fill="#ff0000"/>
<circle cx="983.8" cy="1176.3" r="3.8" fill="#ff0000"/>
<path d="M1005.8 1286.8 V1122 H1034 V1286.8" fill="none" stroke="#0000cc" stroke-width="3"/>
<path d="M1011.6 1117.2 H1028.2 M1011.6 1125.7 H1028.2 M1019.9 1117.2 V1125.7" fill="none" stroke="#0000cc" stroke-width="2.7"/>
<circle cx="1012.2" cy="1117.2" r="3.8" fill="#0000cc"/>
<circle cx="1024.9" cy="1119.9" r="3.8" fill="#0000cc"/>
<circle cx="1012.2" cy="1125.7" r="3.8" fill="#0000cc"/>
<path d="M1085.5 1286.8 V1252.2 H1114.3 V1286.8" fill="none" stroke="#ff0000" stroke-width="3"/>
<path d="M1091.7 1246.6 H1108.2 M1091.7 1256.4 H1108.2 M1099.9 1246.6 V1256.4" fill="none" stroke="#ff0000" stroke-width="2.7"/>
<circle cx="1092.5" cy="1245.8" r="3.8" fill="#ff0000"/>
<circle cx="1105.8" cy="1253.2" r="3.8" fill="#ff0000"/>
<circle cx="1092.5" cy="1255" r="3.8" fill="#ff0000"/>
<path d="M1134.3 1286.8 V1202.6 H1162.8 V1286.8" fill="none" stroke="#0000cc" stroke-width="3"/>
<path d="M1140.3 1197.3 H1156.8 M1140.3 1206.8 H1156.8 M1148.5 1197.3 V1206.8" fill="none" stroke="#0000cc" stroke-width="2.7"/>
<circle cx="1140.7" cy="1196.7" r="3.8" fill="#0000cc"/>
<circle cx="1154.8" cy="1202" r="3.8" fill="#0000cc"/>
<circle cx="1140.7" cy="1206" r="3.8" fill="#0000cc"/>
<line x1="939.1" y1="1043.5" x2="939.1" y2="1288.3" stroke="#000" stroke-width="3.1"/>
<line x1="937.6" y1="1286.8" x2="1181.3" y2="1286.8" stroke="#000" stroke-width="3.1"/>
<line x1="932.3" y1="1045.7" x2="939.1" y2="1045.7" stroke="#000" stroke-width="2.6"/>
<text x="929" y="1051.9" font-size="22.4" text-anchor="end">150</text>
<line x1="932.3" y1="1126.2" x2="939.1" y2="1126.2" stroke="#000" stroke-width="2.6"/>
<text x="929" y="1132.4" font-size="22.4" text-anchor="end">100</text>
<line x1="932.3" y1="1206.8" x2="939.1" y2="1206.8" stroke="#000" stroke-width="2.6"/>
<text x="929" y="1213" font-size="22.4" text-anchor="end">50</text>
<line x1="932.3" y1="1286.8" x2="939.1" y2="1286.8" stroke="#000" stroke-width="2.6"/>
<text x="929" y="1293" font-size="22.4" text-anchor="end">0</text>
<line x1="995" y1="1286.8" x2="995" y2="1294.3" stroke="#000" stroke-width="2.6"/>
<line x1="1124.3" y1="1286.8" x2="1124.3" y2="1294.3" stroke="#000" stroke-width="2.6"/>
<text x="1001.9" y="1316.5" font-size="21.6" text-anchor="middle">DMSO</text>
<text x="1120.9" y="1316.5" font-size="21.6" text-anchor="middle">Erastin</text>
<text x="885.6" y="1164.9" font-size="22.5" text-anchor="middle" transform="rotate(-90 885.6 1164.9)">GSH (nmol/mg prot)</text>
<text x="1018.3" y="1069" font-size="21.6" text-anchor="middle">HGC-27</text>
<line x1="957.3" y1="1102.9" x2="1031" y2="1102.9" stroke="#000" stroke-width="2.6"/>
<text x="999" y="1102.7" font-size="19" text-anchor="middle">****</text>
<line x1="1097.3" y1="1174.5" x2="1147.6" y2="1174.5" stroke="#000" stroke-width="2.6"/>
<text x="1119" y="1174.3" font-size="19" text-anchor="middle">***</text>
<circle cx="1168" cy="1046.2" r="4.8" fill="#ff0000"/>
<text x="1178.6" y="1056.3" font-size="22" text-anchor="start">Vector</text>
<circle cx="1168" cy="1082.2" r="4.8" fill="#0000cc"/>
<text x="1178.6" y="1089.4" font-size="22" text-anchor="start">CST1</text>
</g>
<g>
<path d="M1325.7 1289.5 V1103.2 H1345.9 V1289.5" fill="none" stroke="#ff0000" stroke-width="3.2"/>
<path d="M1330.3 1098.3 H1341.3 M1330.3 1109.7 H1341.3 M1335.8 1098.3 V1109.7" fill="none" stroke="#ff0000" stroke-width="2.7"/>
<circle cx="1327.7" cy="1099.2" r="3.8" fill="#ff0000"/>
<circle cx="1342.7" cy="1102.8" r="3.8" fill="#ff0000"/>
<circle cx="1327.7" cy="1108.2" r="3.8" fill="#ff0000"/>
<path d="M1360.5 1289.5 V1204.7 H1380.3 V1289.5" fill="none" stroke="#0000cc" stroke-width="3.2"/>
<circle cx="1363" cy="1205.5" r="3.8" fill="#0000cc"/>
<circle cx="1370.5" cy="1201" r="3.8" fill="#0000cc"/>
<circle cx="1378" cy="1204" r="3.8" fill="#0000cc"/>
<path d="M1395.5 1289.5 V1202.9 H1415 V1289.5" fill="none" stroke="#a608f6" stroke-width="3.2"/>
<path d="M1399.8 1199.5 H1410.8 M1399.8 1207 H1410.8 M1405.2 1199.5 V1207" fill="none" stroke="#a608f6" stroke-width="2.7"/>
<circle cx="1398" cy="1204.9" r="3.8" fill="#7a0f9e"/>
<circle cx="1405.5" cy="1195.9" r="3.8" fill="#7a0f9e"/>
<circle cx="1413" cy="1203.1" r="3.8" fill="#7a0f9e"/>
<path d="M1452.9 1289.5 V1159.8 H1473.1 V1289.5" fill="none" stroke="#ff0000" stroke-width="3.2"/>
<circle cx="1455.5" cy="1161.2" r="3.8" fill="#ff0000"/>
<circle cx="1463" cy="1157.6" r="3.8" fill="#ff0000"/>
<circle cx="1470.8" cy="1159.1" r="3.8" fill="#ff0000"/>
<path d="M1487.9 1289.5 V1257.6 H1507.5 V1289.5" fill="none" stroke="#0000cc" stroke-width="3.2"/>
<circle cx="1490.2" cy="1259.3" r="3.8" fill="#0000cc"/>
<circle cx="1497.7" cy="1256.3" r="3.8" fill="#0000cc"/>
<circle cx="1505.2" cy="1257.2" r="3.8" fill="#0000cc"/>
<path d="M1522.6 1289.5 V1256.7 H1542.2 V1289.5" fill="none" stroke="#a608f6" stroke-width="3.2"/>
<circle cx="1525.2" cy="1258.4" r="3.8" fill="#7a0f9e"/>
<circle cx="1532.7" cy="1253.3" r="3.8" fill="#7a0f9e"/>
<circle cx="1540.2" cy="1256.3" r="3.8" fill="#7a0f9e"/>
<path d="M1580.4 1289.5 V1125.7 H1600.5 V1289.5" fill="none" stroke="#ff0000" stroke-width="3.2"/>
<circle cx="1583" cy="1126.2" r="3.8" fill="#ff0000"/>
<circle cx="1590.5" cy="1124.1" r="3.8" fill="#ff0000"/>
<circle cx="1598" cy="1125.3" r="3.8" fill="#ff0000"/>
<path d="M1615.1 1289.5 V1226.2 H1635 V1289.5" fill="none" stroke="#0000cc" stroke-width="3.2"/>
<circle cx="1617.4" cy="1227.3" r="3.8" fill="#0000cc"/>
<circle cx="1624.9" cy="1224.3" r="3.8" fill="#0000cc"/>
<circle cx="1633" cy="1224.9" r="3.8" fill="#0000cc"/>
<path d="M1649.8 1289.5 V1224.7 H1669.4 V1289.5" fill="none" stroke="#a608f6" stroke-width="3.2"/>
<circle cx="1652.4" cy="1224.3" r="3.8" fill="#7a0f9e"/>
<circle cx="1659.9" cy="1222.8" r="3.8" fill="#7a0f9e"/>
<circle cx="1667.4" cy="1224.3" r="3.8" fill="#7a0f9e"/>
<line x1="1312.8" y1="1041.7" x2="1312.8" y2="1291" stroke="#000" stroke-width="3.1"/>
<line x1="1311.2" y1="1289.5" x2="1683.8" y2="1289.5" stroke="#000" stroke-width="3.1"/>
<line x1="1305.8" y1="1043.8" x2="1312.8" y2="1043.8" stroke="#000" stroke-width="2.6"/>
<text x="1305.2" y="1050.3" font-size="22.2" text-anchor="end">150</text>
<line x1="1305.8" y1="1126.2" x2="1312.8" y2="1126.2" stroke="#000" stroke-width="2.6"/>
<text x="1305.2" y="1132.7" font-size="22.2" text-anchor="end">100</text>
<line x1="1305.8" y1="1208.2" x2="1312.8" y2="1208.2" stroke="#000" stroke-width="2.6"/>
<text x="1305.2" y="1214.7" font-size="22.2" text-anchor="end">50</text>
<line x1="1305.8" y1="1289.5" x2="1312.8" y2="1289.5" stroke="#000" stroke-width="2.6"/>
<text x="1305.2" y="1296" font-size="22.2" text-anchor="end">0</text>
<line x1="1370.2" y1="1289.5" x2="1370.2" y2="1297" stroke="#000" stroke-width="2.6"/>
<line x1="1497.7" y1="1289.5" x2="1497.7" y2="1297" stroke="#000" stroke-width="2.6"/>
<line x1="1624.6" y1="1289.5" x2="1624.6" y2="1297" stroke="#000" stroke-width="2.6"/>
<text x="1379.5" y="1318.3" font-size="22.2" text-anchor="middle">DMSO</text>
<text x="1497.7" y="1318.3" font-size="22.2" text-anchor="middle">Erastin</text>
<text x="1626.1" y="1318.3" font-size="22.2" text-anchor="middle">Erastin+</text>
<text x="1619.5" y="1340.7" font-size="22.2" text-anchor="middle">Liproxstatin-1</text>
<text x="1262.2" y="1162.7" font-size="22.5" text-anchor="middle" transform="rotate(-90 1262.2 1162.7)">GSH (nmol/mg prot)</text>
<text x="1384.2" y="1064" font-size="22.7" text-anchor="middle">MKN45</text>
<line x1="1332.2" y1="1086.4" x2="1406.4" y2="1086.4" stroke="#000" stroke-width="2.6"/>
<text x="1373.5" y="1086.1" font-size="19" text-anchor="middle">****</text>
<line x1="1458.5" y1="1146.8" x2="1532.1" y2="1146.8" stroke="#000" stroke-width="2.6"/>
<text x="1499.8" y="1146" font-size="19" text-anchor="middle">****</text>
<line x1="1584.2" y1="1112.1" x2="1657.8" y2="1112.1" stroke="#000" stroke-width="2.6"/>
<text x="1625.5" y="1111.6" font-size="19" text-anchor="middle">****</text>
<circle cx="1674.9" cy="1039.4" r="4.8" fill="#ff0000"/>
<text x="1685.3" y="1046.9" font-size="22.7" text-anchor="start">shNC</text>
<circle cx="1674.9" cy="1072.9" r="4.8" fill="#0000cc"/>
<text x="1685.3" y="1079.8" font-size="22" text-anchor="start">sh1</text>
<circle cx="1674.9" cy="1106.1" r="4.8" fill="#7a0f9e"/>
<text x="1685.3" y="1113.3" font-size="22" text-anchor="start">sh2</text>
</g>
<text x="1490.5" y="29.3" font-size="26" text-anchor="middle">HGC-27</text>
<line x1="1268.3" y1="40.6" x2="1685" y2="40.6" stroke="#000" stroke-width="2.7"/>
<text x="1376.4" y="69" font-size="26" text-anchor="middle">Vector</text>
<text x="1595" y="69" font-size="26" text-anchor="middle">CST1</text>
<text x="1235.3" y="158.7" font-size="26" text-anchor="middle" transform="rotate(-90 1235.3 158.7)">DMSO</text>
<text x="1235.3" y="310.6" font-size="26" text-anchor="middle" transform="rotate(-90 1235.3 310.6)">Erastin</text>
<g>
<clipPath id="c11"><rect x="1257.2" y="77.6" width="210.8" height="157.3"/></clipPath>
<rect x="1257.2" y="77.6" width="210.8" height="157.3" fill="rgb(3,0,0)"/>
<g clip-path="url(#c11)">
<g filter="url(#bl)">
<ellipse cx="1352.6" cy="165.7" rx="5.2" ry="3.4" transform="rotate(142 1352.6 165.7)" fill="rgb(197,5,3)"/>
<circle cx="1351.3" cy="166.6" r="2.5" fill="rgb(45,0,0)"/>
<ellipse cx="1452" cy="150.8" rx="3.4" ry="3.5" transform="rotate(56 1452 150.8)" fill="rgb(190,5,3)"/>
<circle cx="1451.5" cy="150.8" r="1.4" fill="rgb(82,0,0)"/>
<ellipse cx="1364.3" cy="170" rx="3.1" ry="2.8" transform="rotate(83 1364.3 170)" fill="rgb(208,6,3)"/>
<ellipse cx="1296.1" cy="158.1" rx="3.5" ry="3.3" transform="rotate(127 1296.1 158.1)" fill="rgb(204,6,3)"/>
<circle cx="1296" cy="156.7" r="2" fill="rgb(111,0,0)"/>
<ellipse cx="1390" cy="202.3" rx="4.6" ry="3.2" transform="rotate(67 1390 202.3)" fill="rgb(155,3,2)"/>
<circle cx="1389.5" cy="202" r="1.7" fill="rgb(64,0,0)"/>
<ellipse cx="1277" cy="125.3" rx="3.9" ry="2.7" transform="rotate(170 1277 125.3)" fill="rgb(155,3,2)"/>
<circle cx="1276.6" cy="126.1" r="1.8" fill="rgb(28,0,0)"/>
<ellipse cx="1276.3" cy="205" rx="3.7" ry="2.9" transform="rotate(32 1276.3 205)" fill="rgb(143,3,1)"/>
<circle cx="1276.5" cy="204" r="1.8" fill="rgb(34,0,0)"/>
<ellipse cx="1403.4" cy="84.2" rx="3.3" ry="2.3" transform="rotate(165 1403.4 84.2)" fill="rgb(146,3,1)"/>
<circle cx="1403.7" cy="84.8" r="1.5" fill="rgb(69,0,0)"/>
<ellipse cx="1464.2" cy="229.4" rx="3.6" ry="2.5" transform="rotate(72 1464.2 229.4)" fill="rgb(169,4,2)"/>
<circle cx="1465" cy="229.7" r="2.1" fill="rgb(66,0,0)"/>
<ellipse cx="1395" cy="174.4" rx="3" ry="2.7" transform="rotate(19 1395 174.4)" fill="rgb(169,4,2)"/>
<circle cx="1395.7" cy="175.1" r="1.4" fill="rgb(66,0,0)"/>
<ellipse cx="1290.4" cy="80" rx="4" ry="2.8" transform="rotate(63 1290.4 80)" fill="rgb(216,7,4)"/>
<circle cx="1290.9" cy="81.1" r="1.2" fill="rgb(76,0,0)"/>
<ellipse cx="1368.6" cy="87" rx="3.7" ry="3.9" transform="rotate(112 1368.6 87)" fill="rgb(224,7,4)"/>
<circle cx="1367.9" cy="87.2" r="1.5" fill="rgb(96,0,0)"/>
<ellipse cx="1297.3" cy="115.7" rx="3.5" ry="2.9" transform="rotate(22 1297.3 115.7)" fill="rgb(234,8,5)"/>
<ellipse cx="1263.5" cy="150.6" rx="3.5" ry="2.8" transform="rotate(100 1263.5 150.6)" fill="rgb(231,8,4)"/>
<circle cx="1264.6" cy="151.3" r="1.8" fill="rgb(90,0,0)"/>
<ellipse cx="1350.1" cy="210.1" rx="3.1" ry="3.1" transform="rotate(43 1350.1 210.1)" fill="rgb(223,7,4)"/>
<circle cx="1349.4" cy="210.2" r="1.8" fill="rgb(40,0,0)"/>
<ellipse cx="1366.6" cy="178.3" rx="3.9" ry="3" transform="rotate(118 1366.6 178.3)" fill="rgb(152,3,2)"/>
<circle cx="1367.1" cy="178.1" r="1.6" fill="rgb(58,0,0)"/>
<ellipse cx="1353.6" cy="121.4" rx="3.8" ry="3.4" transform="rotate(25 1353.6 121.4)" fill="rgb(135,2,1)"/>
<circle cx="1352.7" cy="121.4" r="2" fill="rgb(34,0,0)"/>
<ellipse cx="1434.3" cy="188.9" rx="4.3" ry="2.7" transform="rotate(120 1434.3 188.9)" fill="rgb(169,4,2)"/>
<circle cx="1434.6" cy="188.9" r="2.2" fill="rgb(53,0,0)"/>
<ellipse cx="1323.7" cy="113.7" rx="4.5" ry="3.5" transform="rotate(87 1323.7 113.7)" fill="rgb(208,6,4)"/>
<ellipse cx="1318.1" cy="88.6" rx="4.2" ry="3.4" transform="rotate(101 1318.1 88.6)" fill="rgb(226,7,4)"/>
<ellipse cx="1418.7" cy="140.6" rx="3.8" ry="3.6" transform="rotate(57 1418.7 140.6)" fill="rgb(190,5,3)"/>
<circle cx="1419.8" cy="141.2" r="2" fill="rgb(73,0,0)"/>
<ellipse cx="1435.7" cy="138.4" rx="4.4" ry="2.9" transform="rotate(22 1435.7 138.4)" fill="rgb(166,4,2)"/>
<circle cx="1435.4" cy="137.2" r="1.9" fill="rgb(71,0,0)"/>
<ellipse cx="1459.2" cy="210.9" rx="3.6" ry="3" transform="rotate(42 1459.2 210.9)" fill="rgb(159,3,2)"/>
<circle cx="1460.4" cy="211.3" r="2.1" fill="rgb(78,0,0)"/>
<ellipse cx="1257.3" cy="110.6" rx="3.4" ry="3.3" transform="rotate(102 1257.3 110.6)" fill="rgb(221,7,4)"/>
<ellipse cx="1463.9" cy="140.1" rx="2.8" ry="2.7" transform="rotate(171 1463.9 140.1)" fill="rgb(219,7,4)"/>
<circle cx="1463.4" cy="139.7" r="1.3" fill="rgb(38,0,0)"/>
<ellipse cx="1272.6" cy="176.6" rx="4.3" ry="3.4" transform="rotate(105 1272.6 176.6)" fill="rgb(222,7,4)"/>
<circle cx="1273.8" cy="176.1" r="1.5" fill="rgb(77,0,0)"/>
<ellipse cx="1421.3" cy="120" rx="4.5" ry="3.2" transform="rotate(53 1421.3 120)" fill="rgb(239,8,5)"/>
<ellipse cx="1460.4" cy="196.8" rx="5.1" ry="3.4" transform="rotate(85 1460.4 196.8)" fill="rgb(154,3,2)"/>
<circle cx="1461.9" cy="196" r="2.4" fill="rgb(62,0,0)"/>
<ellipse cx="1282.1" cy="116.4" rx="2.8" ry="2.4" transform="rotate(130 1282.1 116.4)" fill="rgb(229,8,4)"/>
<circle cx="1282.9" cy="116.8" r="1.9" fill="rgb(46,0,0)"/>
<ellipse cx="1278.5" cy="87" rx="4.1" ry="2.8" transform="rotate(40 1278.5 87)" fill="rgb(235,8,5)"/>
<circle cx="1277.7" cy="86.1" r="2.1" fill="rgb(57,0,0)"/>
<ellipse cx="1425.2" cy="105.5" rx="3.9" ry="3.5" transform="rotate(159 1425.2 105.5)" fill="rgb(219,7,4)"/>
<circle cx="1424.7" cy="106.7" r="1.6" fill="rgb(91,0,0)"/>
<ellipse cx="1375.1" cy="148" rx="3" ry="3.3" transform="rotate(79 1375.1 148)" fill="rgb(202,6,3)"/>
<circle cx="1374" cy="148.2" r="1.6" fill="rgb(53,0,0)"/>
<ellipse cx="1297.4" cy="192.7" rx="3" ry="2.6" transform="rotate(136 1297.4 192.7)" fill="rgb(220,7,4)"/>
<circle cx="1297.5" cy="192" r="1.4" fill="rgb(111,0,0)"/>
<ellipse cx="1284.8" cy="178.9" rx="4.5" ry="4" transform="rotate(69 1284.8 178.9)" fill="rgb(136,2,1)"/>
<ellipse cx="1281.8" cy="143.8" rx="4" ry="3.3" transform="rotate(64 1281.8 143.8)" fill="rgb(152,3,2)"/>
<circle cx="1281.8" cy="143.8" r="2" fill="rgb(74,0,0)"/>
<ellipse cx="1321.3" cy="216.8" rx="5" ry="2.9" transform="rotate(140 1321.3 216.8)" fill="rgb(189,5,3)"/>
<circle cx="1320.6" cy="216.6" r="2" fill="rgb(86,0,0)"/>
<ellipse cx="1301.6" cy="139.6" rx="3.8" ry="3.4" transform="rotate(39 1301.6 139.6)" fill="rgb(219,7,4)"/>
<circle cx="1300.3" cy="139.9" r="1.9" fill="rgb(95,0,0)"/>
<ellipse cx="1437.3" cy="178.6" rx="3.5" ry="2.8" transform="rotate(3 1437.3 178.6)" fill="rgb(228,8,4)"/>
<circle cx="1437.1" cy="177.9" r="1.7" fill="rgb(107,0,0)"/>
<ellipse cx="1278.4" cy="233.2" rx="3.4" ry="2.7" transform="rotate(142 1278.4 233.2)" fill="rgb(232,8,4)"/>
<circle cx="1277.9" cy="232.2" r="1.2" fill="rgb(63,0,0)"/>
<ellipse cx="1420.1" cy="129.3" rx="3.7" ry="3.3" transform="rotate(15 1420.1 129.3)" fill="rgb(190,5,3)"/>
<ellipse cx="1308.4" cy="172.2" rx="3" ry="2.9" transform="rotate(149 1308.4 172.2)" fill="rgb(161,3,2)"/>
<circle cx="1308.2" cy="171.9" r="1.2" fill="rgb(38,0,0)"/>
<ellipse cx="1335.6" cy="148.9" rx="4.6" ry="4" transform="rotate(177 1335.6 148.9)" fill="rgb(137,2,1)"/>
<circle cx="1336.3" cy="147.5" r="2" fill="rgb(33,0,0)"/>
<ellipse cx="1378.3" cy="213.9" rx="4.3" ry="3.3" transform="rotate(76 1378.3 213.9)" fill="rgb(148,3,2)"/>
<circle cx="1379.8" cy="214.7" r="1.5" fill="rgb(65,0,0)"/>
<ellipse cx="1295.7" cy="101.8" rx="3.6" ry="2.5" transform="rotate(83 1295.7 101.8)" fill="rgb(160,3,2)"/>
<ellipse cx="1448.7" cy="206.2" rx="4.5" ry="3.1" transform="rotate(7 1448.7 206.2)" fill="rgb(169,4,2)"/>
<circle cx="1447.6" cy="205.9" r="1.8" fill="rgb(72,0,0)"/>
<ellipse cx="1309.8" cy="107.5" rx="5.2" ry="3.5" transform="rotate(70 1309.8 107.5)" fill="rgb(197,6,3)"/>
<ellipse cx="1413.1" cy="225.5" rx="3.3" ry="2.8" transform="rotate(33 1413.1 225.5)" fill="rgb(218,7,4)"/>
<circle cx="1412.3" cy="224.8" r="1.4" fill="rgb(73,0,0)"/>
<ellipse cx="1298.6" cy="227.1" rx="4.4" ry="3.1" transform="rotate(155 1298.6 227.1)" fill="rgb(181,5,3)"/>
<circle cx="1297.6" cy="227.5" r="1.5" fill="rgb(53,0,0)"/>
<ellipse cx="1346" cy="93.9" rx="3.1" ry="2.6" transform="rotate(70 1346 93.9)" fill="rgb(135,2,1)"/>
<ellipse cx="1265.4" cy="229" rx="4" ry="2.9" transform="rotate(168 1265.4 229)" fill="rgb(162,4,2)"/>
<circle cx="1266" cy="230.1" r="2.1" fill="rgb(25,0,0)"/>
<ellipse cx="1307.5" cy="188.4" rx="3" ry="3.3" transform="rotate(58 1307.5 188.4)" fill="rgb(175,4,2)"/>
<circle cx="1306.4" cy="188.2" r="1.6" fill="rgb(42,0,0)"/>
<ellipse cx="1311.4" cy="207.2" rx="3.4" ry="2.2" transform="rotate(56 1311.4 207.2)" fill="rgb(149,3,2)"/>
<circle cx="1310.6" cy="207.6" r="1.5" fill="rgb(37,0,0)"/>
<ellipse cx="1382.9" cy="123.8" rx="3.6" ry="3" transform="rotate(50 1382.9 123.8)" fill="rgb(205,6,3)"/>
<circle cx="1382.6" cy="124.8" r="1.8" fill="rgb(49,0,0)"/>
<ellipse cx="1271.7" cy="113.5" rx="3.2" ry="2.4" transform="rotate(4 1271.7 113.5)" fill="rgb(170,4,2)"/>
<circle cx="1272.4" cy="114.7" r="1.7" fill="rgb(45,0,0)"/>
<ellipse cx="1450.6" cy="109.7" rx="3.7" ry="3.5" transform="rotate(119 1450.6 109.7)" fill="rgb(233,8,5)"/>
<ellipse cx="1260.7" cy="119.9" rx="4.7" ry="3" transform="rotate(76 1260.7 119.9)" fill="rgb(158,3,2)"/>
<circle cx="1260.4" cy="119.4" r="1.5" fill="rgb(55,0,0)"/>
<ellipse cx="1351.2" cy="87.1" rx="3.5" ry="2.8" transform="rotate(30 1351.2 87.1)" fill="rgb(150,3,2)"/>
<circle cx="1350.2" cy="86.7" r="1.4" fill="rgb(47,0,0)"/>
<ellipse cx="1377.8" cy="98.3" rx="3.7" ry="2.8" transform="rotate(126 1377.8 98.3)" fill="rgb(196,5,3)"/>
<circle cx="1377.5" cy="97.3" r="1.4" fill="rgb(61,0,0)"/>
<ellipse cx="1333.5" cy="217.7" rx="3.4" ry="2.6" transform="rotate(58 1333.5 217.7)" fill="rgb(187,5,3)"/>
<circle cx="1333.2" cy="218.6" r="1.1" fill="rgb(70,0,0)"/>
<ellipse cx="1463.9" cy="180.9" rx="3.1" ry="2.8" transform="rotate(110 1463.9 180.9)" fill="rgb(206,6,3)"/>
<ellipse cx="1402.9" cy="169.5" rx="4.4" ry="3.2" transform="rotate(112 1402.9 169.5)" fill="rgb(196,5,3)"/>
<circle cx="1402.7" cy="169" r="1.6" fill="rgb(94,0,0)"/>
<ellipse cx="1261" cy="220.8" rx="5.2" ry="2.9" transform="rotate(24 1261 220.8)" fill="rgb(174,4,2)"/>
<circle cx="1260.6" cy="222.2" r="1.8" fill="rgb(36,0,0)"/>
<ellipse cx="1405" cy="229" rx="3.8" ry="2.5" transform="rotate(0 1405 229)" fill="rgb(158,3,2)"/>
<circle cx="1404.4" cy="229" r="1.5" fill="rgb(64,0,0)"/>
<ellipse cx="1261.7" cy="177.7" rx="4.1" ry="3.5" transform="rotate(174 1261.7 177.7)" fill="rgb(201,6,3)"/>
<circle cx="1262.7" cy="177.2" r="1.6" fill="rgb(87,0,0)"/>
<ellipse cx="1358.9" cy="192.5" rx="5" ry="3.7" transform="rotate(28 1358.9 192.5)" fill="rgb(208,6,3)"/>
<circle cx="1359" cy="192.2" r="1.8" fill="rgb(54,0,0)"/>
<ellipse cx="1324.4" cy="234.8" rx="3.8" ry="3.1" transform="rotate(58 1324.4 234.8)" fill="rgb(191,5,3)"/>
<circle cx="1323.4" cy="233.6" r="1.9" fill="rgb(33,0,0)"/>
<ellipse cx="1273.1" cy="163.5" rx="2.8" ry="2.6" transform="rotate(138 1273.1 163.5)" fill="rgb(210,6,4)"/>
<circle cx="1273.9" cy="164.3" r="1.2" fill="rgb(35,0,0)"/>
<ellipse cx="1412.6" cy="188.3" rx="4" ry="2.7" transform="rotate(128 1412.6 188.3)" fill="rgb(188,5,3)"/>
<circle cx="1412.2" cy="187.9" r="1.8" fill="rgb(85,0,0)"/>
<ellipse cx="1424.4" cy="221.5" rx="4.5" ry="3.4" transform="rotate(127 1424.4 221.5)" fill="rgb(223,7,4)"/>
<circle cx="1425.3" cy="220.5" r="2.3" fill="rgb(67,0,0)"/>
<ellipse cx="1331.4" cy="185.4" rx="3.6" ry="2.7" transform="rotate(105 1331.4 185.4)" fill="rgb(158,3,2)"/>
<ellipse cx="1447.1" cy="214.6" rx="4.9" ry="3.5" transform="rotate(113 1447.1 214.6)" fill="rgb(147,3,2)"/>
<circle cx="1448.6" cy="213.3" r="2.5" fill="rgb(63,0,0)"/>
<ellipse cx="1345.1" cy="202" rx="3.1" ry="2.9" transform="rotate(178 1345.1 202)" fill="rgb(137,2,1)"/>
<circle cx="1344.1" cy="202" r="1.4" fill="rgb(47,0,0)"/>
<ellipse cx="1439.2" cy="167.7" rx="4.2" ry="3.3" transform="rotate(51 1439.2 167.7)" fill="rgb(166,4,2)"/>
<circle cx="1439.9" cy="168.9" r="1.8" fill="rgb(50,0,0)"/>
<ellipse cx="1388.9" cy="137.7" rx="4.7" ry="2.9" transform="rotate(31 1388.9 137.7)" fill="rgb(192,5,3)"/>
<circle cx="1388.3" cy="137.7" r="2.3" fill="rgb(38,0,0)"/>
<ellipse cx="1380" cy="173.4" rx="3.8" ry="2.5" transform="rotate(112 1380 173.4)" fill="rgb(135,2,1)"/>
<circle cx="1380" cy="173.1" r="1.4" fill="rgb(34,0,0)"/>
<ellipse cx="1466.6" cy="216" rx="3.8" ry="2.4" transform="rotate(14 1466.6 216)" fill="rgb(140,3,1)"/>
<circle cx="1467.7" cy="215.4" r="1.4" fill="rgb(69,0,0)"/>
<ellipse cx="1412.1" cy="169" rx="4.4" ry="3" transform="rotate(10 1412.1 169)" fill="rgb(178,4,2)"/>
<circle cx="1412.5" cy="168.4" r="1.9" fill="rgb(93,0,0)"/>
<ellipse cx="1274.9" cy="195.6" rx="4.3" ry="3.9" transform="rotate(130 1274.9 195.6)" fill="rgb(241,8,5)"/>
<circle cx="1273.9" cy="194.5" r="1.5" fill="rgb(43,0,0)"/>
<ellipse cx="1358.6" cy="113.8" rx="3.4" ry="3" transform="rotate(1 1358.6 113.8)" fill="rgb(215,7,4)"/>
<circle cx="1357.4" cy="113.9" r="2" fill="rgb(101,0,0)"/>
<ellipse cx="1404.4" cy="155.8" rx="4.1" ry="3.8" transform="rotate(148 1404.4 155.8)" fill="rgb(213,7,4)"/>
<circle cx="1403.3" cy="157.1" r="2.4" fill="rgb(66,0,0)"/>
<ellipse cx="1386.7" cy="222.4" rx="4.9" ry="2.8" transform="rotate(103 1386.7 222.4)" fill="rgb(160,3,2)"/>
<circle cx="1386.4" cy="222.8" r="1.8" fill="rgb(75,0,0)"/>
<ellipse cx="1311.1" cy="79.4" rx="3.5" ry="2.7" transform="rotate(162 1311.1 79.4)" fill="rgb(202,6,3)"/>
<circle cx="1310.7" cy="80" r="1.3" fill="rgb(47,0,0)"/>
<ellipse cx="1320.7" cy="184.3" rx="4.6" ry="3" transform="rotate(19 1320.7 184.3)" fill="rgb(192,5,3)"/>
<circle cx="1320.5" cy="182.9" r="1.7" fill="rgb(67,0,0)"/>
<ellipse cx="1448.1" cy="181.4" rx="3.8" ry="3.5" transform="rotate(36 1448.1 181.4)" fill="rgb(168,4,2)"/>
<ellipse cx="1285.9" cy="155.7" rx="3.1" ry="3.4" transform="rotate(77 1285.9 155.7)" fill="rgb(215,7,4)"/>
<ellipse cx="1433.7" cy="211.1" rx="3.8" ry="2.5" transform="rotate(49 1433.7 211.1)" fill="rgb(177,4,2)"/>
<circle cx="1433.3" cy="210.4" r="1.9" fill="rgb(51,0,0)"/>
<ellipse cx="1389.1" cy="155.3" rx="4.9" ry="3.5" transform="rotate(115 1389.1 155.3)" fill="rgb(149,3,2)"/>
<circle cx="1390.3" cy="156.4" r="2.2" fill="rgb(59,0,0)"/>
<ellipse cx="1464.2" cy="148.8" rx="3.3" ry="3.5" transform="rotate(124 1464.2 148.8)" fill="rgb(195,5,3)"/>
<circle cx="1464" cy="148.5" r="1.9" fill="rgb(47,0,0)"/>
<ellipse cx="1441.2" cy="84.1" rx="4.1" ry="2.7" transform="rotate(112 1441.2 84.1)" fill="rgb(195,5,3)"/>
<circle cx="1441.4" cy="85.3" r="1.9" fill="rgb(41,0,0)"/>
<ellipse cx="1322.3" cy="202.1" rx="4.3" ry="2.9" transform="rotate(132 1322.3 202.1)" fill="rgb(241,8,5)"/>
<ellipse cx="1261.2" cy="99" rx="3.2" ry="3.5" transform="rotate(88 1261.2 99)" fill="rgb(227,7,4)"/>
<circle cx="1261.6" cy="100.1" r="2" fill="rgb(109,0,0)"/>
<ellipse cx="1432.1" cy="114.9" rx="5.2" ry="2.9" transform="rotate(156 1432.1 114.9)" fill="rgb(189,5,3)"/>
<circle cx="1433" cy="114.8" r="1.7" fill="rgb(68,0,0)"/>
<ellipse cx="1401.5" cy="109" rx="4" ry="3.7" transform="rotate(13 1401.5 109)" fill="rgb(154,3,2)"/>
<circle cx="1401.5" cy="108.2" r="2.3" fill="rgb(72,0,0)"/>
<ellipse cx="1314.6" cy="132" rx="4.5" ry="4" transform="rotate(143 1314.6 132)" fill="rgb(217,7,4)"/>
<circle cx="1313.5" cy="130.7" r="1.8" fill="rgb(62,0,0)"/>
<ellipse cx="1448.2" cy="91.3" rx="3.7" ry="3.1" transform="rotate(69 1448.2 91.3)" fill="rgb(224,7,4)"/>
<ellipse cx="1453.8" cy="191.2" rx="3.4" ry="3.8" transform="rotate(37 1453.8 191.2)" fill="rgb(231,8,4)"/>
<circle cx="1454.4" cy="190.4" r="2.2" fill="rgb(96,0,0)"/>
<ellipse cx="1336.6" cy="167.1" rx="3.6" ry="2.8" transform="rotate(113 1336.6 167.1)" fill="rgb(134,2,1)"/>
<circle cx="1337.1" cy="166.3" r="1.8" fill="rgb(26,0,0)"/>
<ellipse cx="1409.4" cy="206.3" rx="3.5" ry="2.9" transform="rotate(169 1409.4 206.3)" fill="rgb(184,5,3)"/>
<circle cx="1408.6" cy="207.7" r="1.7" fill="rgb(78,0,0)"/>
<ellipse cx="1392.5" cy="190.5" rx="3.9" ry="3.3" transform="rotate(26 1392.5 190.5)" fill="rgb(172,4,2)"/>
<circle cx="1393.3" cy="190.2" r="1.8" fill="rgb(57,0,0)"/>
<ellipse cx="1302.2" cy="219.2" rx="3.7" ry="3.3" transform="rotate(42 1302.2 219.2)" fill="rgb(235,8,5)"/>
<circle cx="1303.1" cy="218.6" r="1.5" fill="rgb(115,0,0)"/>
<ellipse cx="1370.4" cy="202" rx="4.9" ry="3.2" transform="rotate(133 1370.4 202)" fill="rgb(182,5,3)"/>
<circle cx="1369.2" cy="201.8" r="1.8" fill="rgb(47,0,0)"/>
<ellipse cx="1360" cy="82.1" rx="3.5" ry="3.2" transform="rotate(120 1360 82.1)" fill="rgb(237,8,5)"/>
<circle cx="1359" cy="83.1" r="1.6" fill="rgb(59,0,0)"/>
<ellipse cx="1427.8" cy="87.7" rx="4.3" ry="3.4" transform="rotate(106 1427.8 87.7)" fill="rgb(170,4,2)"/>
<circle cx="1428.8" cy="86.7" r="1.3" fill="rgb(50,0,0)"/>
<ellipse cx="1286.8" cy="101" rx="4" ry="2.8" transform="rotate(161 1286.8 101)" fill="rgb(212,6,4)"/>
<ellipse cx="1457.3" cy="91.1" rx="3.2" ry="2.4" transform="rotate(83 1457.3 91.1)" fill="rgb(202,6,3)"/>
<circle cx="1457.5" cy="92.1" r="1.6" fill="rgb(109,0,0)"/>
<ellipse cx="1322.9" cy="137.6" rx="5.2" ry="3.8" transform="rotate(126 1322.9 137.6)" fill="rgb(176,4,2)"/>
<ellipse cx="1461.3" cy="160.1" rx="3.2" ry="2.8" transform="rotate(39 1461.3 160.1)" fill="rgb(183,5,3)"/>
<ellipse cx="1378" cy="109.2" rx="3" ry="2.7" transform="rotate(133 1378 109.2)" fill="rgb(173,4,2)"/>
<circle cx="1378.3" cy="109.5" r="1.3" fill="rgb(77,0,0)"/>
<ellipse cx="1370.2" cy="156.7" rx="3.9" ry="3.1" transform="rotate(21 1370.2 156.7)" fill="rgb(221,7,4)"/>
<circle cx="1371" cy="157.8" r="1.2" fill="rgb(112,0,0)"/>
<ellipse cx="1384.8" cy="82" rx="3.3" ry="2.6" transform="rotate(20 1384.8 82)" fill="rgb(171,4,2)"/>
<circle cx="1384.8" cy="81.2" r="1.3" fill="rgb(64,0,0)"/>
<ellipse cx="1314" cy="152" rx="3.4" ry="2.5" transform="rotate(139 1314 152)" fill="rgb(142,3,1)"/>
<circle cx="1313" cy="151.4" r="1.4" fill="rgb(46,0,0)"/>
<ellipse cx="1297.6" cy="174.8" rx="4.6" ry="2.7" transform="rotate(153 1297.6 174.8)" fill="rgb(183,5,3)"/>
<circle cx="1297.6" cy="174.6" r="2.2" fill="rgb(72,0,0)"/>
<ellipse cx="1421.5" cy="81.2" rx="4.3" ry="2.9" transform="rotate(27 1421.5 81.2)" fill="rgb(238,8,5)"/>
<ellipse cx="1402" cy="128.3" rx="3.6" ry="3.4" transform="rotate(5 1402 128.3)" fill="rgb(210,6,4)"/>
<circle cx="1403.3" cy="128.7" r="1.7" fill="rgb(102,0,0)"/>
<ellipse cx="1332.1" cy="175.1" rx="2.7" ry="2.4" transform="rotate(20 1332.1 175.1)" fill="rgb(178,4,2)"/>
<ellipse cx="1368.8" cy="102.7" rx="3.9" ry="3.3" transform="rotate(170 1368.8 102.7)" fill="rgb(186,5,3)"/>
<circle cx="1369.8" cy="102.5" r="1.6" fill="rgb(50,0,0)"/>
<ellipse cx="1447.5" cy="127.3" rx="4" ry="3.3" transform="rotate(85 1447.5 127.3)" fill="rgb(161,4,2)"/>
<circle cx="1447.3" cy="126" r="1.8" fill="rgb(77,0,0)"/>
<ellipse cx="1303.2" cy="234.6" rx="3.4" ry="2.5" transform="rotate(40 1303.2 234.6)" fill="rgb(190,5,3)"/>
<circle cx="1302.8" cy="234.6" r="1.4" fill="rgb(46,0,0)"/>
<ellipse cx="1342.1" cy="185.4" rx="3.4" ry="3.3" transform="rotate(173 1342.1 185.4)" fill="rgb(186,5,3)"/>
<circle cx="1343.4" cy="185" r="2" fill="rgb(72,0,0)"/>
<ellipse cx="1401" cy="221" rx="3.9" ry="3.1" transform="rotate(56 1401 221)" fill="rgb(166,4,2)"/>
<circle cx="1401.7" cy="219.9" r="1.7" fill="rgb(31,0,0)"/>
<ellipse cx="1297" cy="88.7" rx="4" ry="2.8" transform="rotate(154 1297 88.7)" fill="rgb(162,4,2)"/>
<circle cx="1297.5" cy="87.7" r="1.4" fill="rgb(88,0,0)"/>
<ellipse cx="1434.3" cy="233.4" rx="4.1" ry="3.9" transform="rotate(141 1434.3 233.4)" fill="rgb(169,4,2)"/>
<circle cx="1435.1" cy="232.1" r="1.5" fill="rgb(67,0,0)"/>
<ellipse cx="1326.1" cy="151.1" rx="4.2" ry="2.6" transform="rotate(168 1326.1 151.1)" fill="rgb(234,8,5)"/>
<circle cx="1324.8" cy="151.7" r="1.8" fill="rgb(74,0,0)"/>
<ellipse cx="1365.8" cy="145.3" rx="4.9" ry="2.8" transform="rotate(140 1365.8 145.3)" fill="rgb(240,8,5)"/>
<circle cx="1365.5" cy="145.1" r="2.1" fill="rgb(77,0,0)"/>
<ellipse cx="1295.4" cy="149" rx="3.7" ry="2.3" transform="rotate(20 1295.4 149)" fill="rgb(168,4,2)"/>
<ellipse cx="1311.6" cy="220.9" rx="3.5" ry="2.8" transform="rotate(55 1311.6 220.9)" fill="rgb(192,5,3)"/>
<ellipse cx="1403.7" cy="198.3" rx="3.5" ry="3.1" transform="rotate(96 1403.7 198.3)" fill="rgb(233,8,5)"/>
<ellipse cx="1259.4" cy="133.5" rx="3.4" ry="2.2" transform="rotate(77 1259.4 133.5)" fill="rgb(228,8,4)"/>
<circle cx="1260.4" cy="133.5" r="1.6" fill="rgb(97,0,0)"/>
<ellipse cx="1463.8" cy="81.2" rx="3.1" ry="3.2" transform="rotate(29 1463.8 81.2)" fill="rgb(218,7,4)"/>
<circle cx="1463.4" cy="80.4" r="1.4" fill="rgb(63,0,0)"/>
<ellipse cx="1311.3" cy="140.8" rx="3.9" ry="3.3" transform="rotate(151 1311.3 140.8)" fill="rgb(189,5,3)"/>
<circle cx="1311.2" cy="142" r="1.9" fill="rgb(53,0,0)"/>
<ellipse cx="1336.4" cy="93.1" rx="3.8" ry="3.6" transform="rotate(103 1336.4 93.1)" fill="rgb(158,3,2)"/>
<circle cx="1337.3" cy="92.8" r="1.4" fill="rgb(68,0,0)"/>
<ellipse cx="1383.2" cy="197" rx="3.9" ry="3.5" transform="rotate(163 1383.2 197)" fill="rgb(200,6,3)"/>
<circle cx="1382.5" cy="197.7" r="1.7" fill="rgb(38,0,0)"/>
<ellipse cx="1334.3" cy="122.5" rx="2.9" ry="3.1" transform="rotate(102 1334.3 122.5)" fill="rgb(225,7,4)"/>
<circle cx="1333.4" cy="123.6" r="1.5" fill="rgb(102,0,0)"/>
<ellipse cx="1272.7" cy="220" rx="4.9" ry="3.1" transform="rotate(35 1272.7 220)" fill="rgb(143,3,1)"/>
<circle cx="1271.6" cy="220.8" r="2" fill="rgb(54,0,0)"/>
<ellipse cx="1347.7" cy="152.7" rx="4.8" ry="3.4" transform="rotate(171 1347.7 152.7)" fill="rgb(233,8,5)"/>
<circle cx="1348.8" cy="153.4" r="1.8" fill="rgb(59,0,0)"/>
<ellipse cx="1462.3" cy="115.9" rx="3.6" ry="2.6" transform="rotate(52 1462.3 115.9)" fill="rgb(135,2,1)"/>
<circle cx="1462.3" cy="115.4" r="1.3" fill="rgb(35,0,0)"/>
<ellipse cx="1367.5" cy="225" rx="4.2" ry="2.5" transform="rotate(154 1367.5 225)" fill="rgb(188,5,3)"/>
<ellipse cx="1350.6" cy="182.7" rx="4.5" ry="3.3" transform="rotate(118 1350.6 182.7)" fill="rgb(192,5,3)"/>
<ellipse cx="1421.2" cy="161.1" rx="3.5" ry="3.9" transform="rotate(65 1421.2 161.1)" fill="rgb(161,4,2)"/>
<circle cx="1421.1" cy="160.7" r="1.6" fill="rgb(71,0,0)"/>
<ellipse cx="1412" cy="115.1" rx="4.7" ry="3.4" transform="rotate(41 1412 115.1)" fill="rgb(188,5,3)"/>
<ellipse cx="1281.2" cy="218" rx="3.6" ry="2.3" transform="rotate(162 1281.2 218)" fill="rgb(235,8,5)"/>
<circle cx="1280.4" cy="219.1" r="1.5" fill="rgb(64,0,0)"/>
<ellipse cx="1422.5" cy="175.9" rx="4.8" ry="3" transform="rotate(5 1422.5 175.9)" fill="rgb(139,3,1)"/>
<circle cx="1423.1" cy="176.9" r="2.5" fill="rgb(64,0,0)"/>
<ellipse cx="1416" cy="107.5" rx="4" ry="2.8" transform="rotate(94 1416 107.5)" fill="rgb(141,3,1)"/>
<circle cx="1415.2" cy="108" r="1.7" fill="rgb(44,0,0)"/>
<ellipse cx="1265.5" cy="87.2" rx="3.9" ry="3.1" transform="rotate(175 1265.5 87.2)" fill="rgb(141,3,1)"/>
<circle cx="1265" cy="86.7" r="1.4" fill="rgb(60,0,0)"/>
<ellipse cx="1388.6" cy="93.7" rx="5.4" ry="4.1" transform="rotate(154 1388.6 93.7)" fill="rgb(239,8,5)"/>
<ellipse cx="1272.9" cy="96.4" rx="3.4" ry="2.7" transform="rotate(110 1272.9 96.4)" fill="rgb(186,5,3)"/>
<circle cx="1272" cy="96.5" r="1.8" fill="rgb(99,0,0)"/>
<ellipse cx="1395" cy="233.2" rx="3.8" ry="3" transform="rotate(4 1395 233.2)" fill="rgb(145,3,1)"/>
<circle cx="1395.4" cy="233.2" r="1.7" fill="rgb(55,0,0)"/>
<ellipse cx="1325.8" cy="163.9" rx="3.4" ry="2.9" transform="rotate(142 1325.8 163.9)" fill="rgb(221,7,4)"/>
<ellipse cx="1347.3" cy="135.7" rx="4.1" ry="3.3" transform="rotate(2 1347.3 135.7)" fill="rgb(177,4,2)"/>
<circle cx="1347.6" cy="135.8" r="1.7" fill="rgb(50,0,0)"/>
<ellipse cx="1316.8" cy="100.1" rx="3.7" ry="3.7" transform="rotate(31 1316.8 100.1)" fill="rgb(182,5,3)"/>
<circle cx="1316.8" cy="100.9" r="1.6" fill="rgb(51,0,0)"/>
<ellipse cx="1450.8" cy="225.5" rx="3.2" ry="2.8" transform="rotate(45 1450.8 225.5)" fill="rgb(204,6,3)"/>
<ellipse cx="1334.3" cy="134.7" rx="3.2" ry="2.6" transform="rotate(130 1334.3 134.7)" fill="rgb(158,3,2)"/>
<circle cx="1334.4" cy="133.8" r="1.8" fill="rgb(71,0,0)"/>
<ellipse cx="1287.5" cy="194.9" rx="3.4" ry="3.3" transform="rotate(66 1287.5 194.9)" fill="rgb(156,3,2)"/>
<circle cx="1288.7" cy="194.7" r="1.9" fill="rgb(31,0,0)"/>
<ellipse cx="1394" cy="116.2" rx="4" ry="3.8" transform="rotate(68 1394 116.2)" fill="rgb(218,7,4)"/>
<circle cx="1394.7" cy="116.1" r="2" fill="rgb(104,0,0)"/>
<ellipse cx="1450.1" cy="142.2" rx="3.1" ry="2.2" transform="rotate(164 1450.1 142.2)" fill="rgb(187,5,3)"/>
<circle cx="1450.9" cy="143.2" r="1.2" fill="rgb(97,0,0)"/>
<ellipse cx="1367.6" cy="189.3" rx="3.1" ry="3.1" transform="rotate(170 1367.6 189.3)" fill="rgb(234,8,5)"/>
<circle cx="1368.1" cy="190.2" r="1.3" fill="rgb(103,0,0)"/>
<ellipse cx="1336.4" cy="104" rx="4.3" ry="3.1" transform="rotate(49 1336.4 104)" fill="rgb(182,5,3)"/>
<ellipse cx="1429.5" cy="153" rx="3.1" ry="2.2" transform="rotate(55 1429.5 153)" fill="rgb(153,3,2)"/>
<circle cx="1429.5" cy="153.1" r="1.2" fill="rgb(57,0,0)"/>
<ellipse cx="1315.1" cy="233.4" rx="5.1" ry="2.9" transform="rotate(40 1315.1 233.4)" fill="rgb(190,5,3)"/>
<circle cx="1315.8" cy="234.6" r="1.7" fill="rgb(66,0,0)"/>
<ellipse cx="1335.5" cy="202.9" rx="3.5" ry="2.5" transform="rotate(142 1335.5 202.9)" fill="rgb(169,4,2)"/>
<ellipse cx="1440.4" cy="158.8" rx="4.4" ry="3" transform="rotate(34 1440.4 158.8)" fill="rgb(198,6,3)"/>
<ellipse cx="1313.4" cy="161.7" rx="5.1" ry="3.5" transform="rotate(9 1313.4 161.7)" fill="rgb(135,2,1)"/>
<circle cx="1314.1" cy="160.8" r="1.7" fill="rgb(21,0,0)"/>
<ellipse cx="1257.5" cy="206.8" rx="3.5" ry="2.9" transform="rotate(83 1257.5 206.8)" fill="rgb(220,7,4)"/>
<circle cx="1257" cy="205.8" r="1.2" fill="rgb(55,0,0)"/>
<ellipse cx="1408.2" cy="92.9" rx="4" ry="3.4" transform="rotate(57 1408.2 92.9)" fill="rgb(173,4,2)"/>
<circle cx="1408.5" cy="92.7" r="2.2" fill="rgb(63,0,0)"/>
<ellipse cx="1358.4" cy="151.3" rx="4.5" ry="2.8" transform="rotate(168 1358.4 151.3)" fill="rgb(169,4,2)"/>
</g></g>
<line x1="1434.3" y1="227" x2="1465" y2="227" stroke="#e6e6e6" stroke-width="1.1"/>
<text x="1449.7" y="226.1" font-size="3.6" style="fill:#e0e0e0;stroke:none" text-anchor="middle">100μm</text>
</g>
<g>
<clipPath id="c12"><rect x="1478" y="77.6" width="210.7" height="157.3"/></clipPath>
<rect x="1478" y="77.6" width="210.7" height="157.3" fill="rgb(5,0,0)"/>
<g clip-path="url(#c12)">
<g filter="url(#bl)">
<ellipse cx="1578" cy="181" rx="3.9" ry="3.1" transform="rotate(135 1578 181)" fill="rgb(97,1,0)"/>
<circle cx="1577.8" cy="180.3" r="1.8" fill="rgb(15,0,0)"/>
<ellipse cx="1618.4" cy="100" rx="3" ry="2.8" transform="rotate(74 1618.4 100)" fill="rgb(77,0,0)"/>
<circle cx="1618.5" cy="100.1" r="1.6" fill="rgb(41,0,0)"/>
<ellipse cx="1480.3" cy="136.5" rx="4.6" ry="2.9" transform="rotate(168 1480.3 136.5)" fill="rgb(74,0,0)"/>
<circle cx="1481.4" cy="137" r="1.6" fill="rgb(32,0,0)"/>
<ellipse cx="1535.7" cy="205.1" rx="3.6" ry="2" transform="rotate(31 1535.7 205.1)" fill="rgb(64,0,0)"/>
<circle cx="1536.1" cy="206.1" r="1.6" fill="rgb(29,0,0)"/>
<ellipse cx="1623.5" cy="172.2" rx="3.1" ry="2.2" transform="rotate(172 1623.5 172.2)" fill="rgb(109,1,1)"/>
<ellipse cx="1595.6" cy="181.6" rx="3.2" ry="2.6" transform="rotate(12 1595.6 181.6)" fill="rgb(84,1,0)"/>
<circle cx="1596.6" cy="182.7" r="1.6" fill="rgb(29,0,0)"/>
<ellipse cx="1508.6" cy="146.8" rx="4.1" ry="3.1" transform="rotate(177 1508.6 146.8)" fill="rgb(84,1,0)"/>
<ellipse cx="1512.2" cy="220.1" rx="3.2" ry="2.9" transform="rotate(80 1512.2 220.1)" fill="rgb(91,1,0)"/>
<circle cx="1512" cy="219.3" r="1.4" fill="rgb(36,0,0)"/>
<ellipse cx="1490.4" cy="206.4" rx="3.5" ry="2.6" transform="rotate(78 1490.4 206.4)" fill="rgb(114,2,1)"/>
<circle cx="1491.4" cy="207.3" r="1.2" fill="rgb(46,0,0)"/>
<ellipse cx="1493.7" cy="185.7" rx="3.7" ry="2.5" transform="rotate(58 1493.7 185.7)" fill="rgb(65,0,0)"/>
<circle cx="1493.1" cy="186.2" r="1.3" fill="rgb(22,0,0)"/>
<ellipse cx="1549" cy="141.2" rx="3.3" ry="3.6" transform="rotate(109 1549 141.2)" fill="rgb(66,0,0)"/>
<circle cx="1548.1" cy="142.5" r="1.8" fill="rgb(22,0,0)"/>
<ellipse cx="1655.5" cy="80.5" rx="3.6" ry="3.2" transform="rotate(44 1655.5 80.5)" fill="rgb(65,0,0)"/>
<ellipse cx="1490.8" cy="221.5" rx="2.7" ry="2.3" transform="rotate(170 1490.8 221.5)" fill="rgb(61,0,0)"/>
<ellipse cx="1585.2" cy="91.9" rx="3" ry="3.2" transform="rotate(22 1585.2 91.9)" fill="rgb(81,1,0)"/>
<circle cx="1586.1" cy="91.2" r="1.6" fill="rgb(14,0,0)"/>
<ellipse cx="1686" cy="226.5" rx="4.4" ry="2.7" transform="rotate(53 1686 226.5)" fill="rgb(57,0,0)"/>
<circle cx="1687.1" cy="227.4" r="1.7" fill="rgb(20,0,0)"/>
<ellipse cx="1506.5" cy="126.8" rx="2.7" ry="2.5" transform="rotate(164 1506.5 126.8)" fill="rgb(67,0,0)"/>
<circle cx="1507.3" cy="126.1" r="1.2" fill="rgb(12,0,0)"/>
<ellipse cx="1608.9" cy="103.3" rx="2.8" ry="2.7" transform="rotate(21 1608.9 103.3)" fill="rgb(108,1,1)"/>
<circle cx="1609.1" cy="103.8" r="1.1" fill="rgb(54,0,0)"/>
<ellipse cx="1624.8" cy="85.7" rx="3.2" ry="3.1" transform="rotate(164 1624.8 85.7)" fill="rgb(113,1,1)"/>
<ellipse cx="1514.1" cy="205.9" rx="3.2" ry="2.6" transform="rotate(46 1514.1 205.9)" fill="rgb(73,0,0)"/>
<circle cx="1513.1" cy="205.1" r="1.3" fill="rgb(11,0,0)"/>
<ellipse cx="1562.4" cy="143.5" rx="3.3" ry="2.8" transform="rotate(164 1562.4 143.5)" fill="rgb(110,1,1)"/>
<circle cx="1562.7" cy="143.9" r="1.5" fill="rgb(20,0,0)"/>
<ellipse cx="1603.6" cy="152.6" rx="3.9" ry="3.3" transform="rotate(134 1603.6 152.6)" fill="rgb(66,0,0)"/>
<ellipse cx="1559" cy="82.4" rx="3.5" ry="2.1" transform="rotate(157 1559 82.4)" fill="rgb(74,0,0)"/>
<circle cx="1558.6" cy="82.8" r="1.3" fill="rgb(16,0,0)"/>
<ellipse cx="1631" cy="229.8" rx="2.5" ry="2.5" transform="rotate(178 1631 229.8)" fill="rgb(61,0,0)"/>
<circle cx="1630.8" cy="229.4" r="1.3" fill="rgb(17,0,0)"/>
<ellipse cx="1683.7" cy="182" rx="2.6" ry="2" transform="rotate(24 1683.7 182)" fill="rgb(81,1,0)"/>
<ellipse cx="1623.4" cy="183.6" rx="4.2" ry="3.2" transform="rotate(40 1623.4 183.6)" fill="rgb(113,1,1)"/>
<circle cx="1623.9" cy="184.1" r="2.1" fill="rgb(23,0,0)"/>
<ellipse cx="1502" cy="114.6" rx="3.2" ry="2.7" transform="rotate(174 1502 114.6)" fill="rgb(88,1,0)"/>
<circle cx="1500.9" cy="115.2" r="1.3" fill="rgb(25,0,0)"/>
<ellipse cx="1554.6" cy="158" rx="3" ry="2.7" transform="rotate(76 1554.6 158)" fill="rgb(65,0,0)"/>
<circle cx="1554.4" cy="157.2" r="1.2" fill="rgb(11,0,0)"/>
<ellipse cx="1648.7" cy="156.3" rx="3.7" ry="2.9" transform="rotate(126 1648.7 156.3)" fill="rgb(60,0,0)"/>
<ellipse cx="1568.6" cy="159.2" rx="2.9" ry="2" transform="rotate(154 1568.6 159.2)" fill="rgb(81,1,0)"/>
<circle cx="1569" cy="160.2" r="1.7" fill="rgb(14,0,0)"/>
<ellipse cx="1524.8" cy="144.8" rx="4.4" ry="3.2" transform="rotate(116 1524.8 144.8)" fill="rgb(112,1,1)"/>
<circle cx="1525" cy="144.9" r="2.1" fill="rgb(34,0,0)"/>
<ellipse cx="1559.8" cy="199" rx="4.3" ry="3.1" transform="rotate(59 1559.8 199)" fill="rgb(91,1,0)"/>
<circle cx="1559.8" cy="199.1" r="1.4" fill="rgb(40,0,0)"/>
<ellipse cx="1499.6" cy="164.1" rx="2.5" ry="2.4" transform="rotate(30 1499.6 164.1)" fill="rgb(65,0,0)"/>
<circle cx="1499.5" cy="163.6" r="1.5" fill="rgb(25,0,0)"/>
<ellipse cx="1515.5" cy="187.1" rx="2.9" ry="2.8" transform="rotate(62 1515.5 187.1)" fill="rgb(82,1,0)"/>
<ellipse cx="1485.8" cy="121.1" rx="4" ry="3.2" transform="rotate(3 1485.8 121.1)" fill="rgb(96,1,0)"/>
<ellipse cx="1550.5" cy="177.8" rx="3.3" ry="2.1" transform="rotate(128 1550.5 177.8)" fill="rgb(111,1,1)"/>
<circle cx="1550.8" cy="177.7" r="1.3" fill="rgb(45,0,0)"/>
<ellipse cx="1489" cy="149.8" rx="3.9" ry="3.1" transform="rotate(155 1489 149.8)" fill="rgb(57,0,0)"/>
<circle cx="1488.1" cy="149.1" r="1.7" fill="rgb(28,0,0)"/>
<ellipse cx="1522" cy="121.9" rx="2.4" ry="2.2" transform="rotate(112 1522 121.9)" fill="rgb(109,1,1)"/>
<circle cx="1522.6" cy="121.7" r="1.2" fill="rgb(24,0,0)"/>
<ellipse cx="1578.3" cy="228.4" rx="2.4" ry="2.4" transform="rotate(114 1578.3 228.4)" fill="rgb(111,1,1)"/>
<circle cx="1578.7" cy="227.9" r="1.3" fill="rgb(27,0,0)"/>
<ellipse cx="1554.7" cy="107.4" rx="4" ry="3.1" transform="rotate(140 1554.7 107.4)" fill="rgb(69,0,0)"/>
<ellipse cx="1635.7" cy="221.1" rx="3.8" ry="2.6" transform="rotate(103 1635.7 221.1)" fill="rgb(93,1,0)"/>
<circle cx="1635.4" cy="220.1" r="1.9" fill="rgb(28,0,0)"/>
<ellipse cx="1640.4" cy="131.4" rx="4.1" ry="2.6" transform="rotate(39 1640.4 131.4)" fill="rgb(85,1,0)"/>
<circle cx="1639.4" cy="132.5" r="1.7" fill="rgb(24,0,0)"/>
<ellipse cx="1528.9" cy="79" rx="2.8" ry="2.3" transform="rotate(146 1528.9 79)" fill="rgb(71,0,0)"/>
<circle cx="1529.5" cy="79" r="1.5" fill="rgb(29,0,0)"/>
<ellipse cx="1486.4" cy="175" rx="2.5" ry="2.9" transform="rotate(160 1486.4 175)" fill="rgb(65,0,0)"/>
<circle cx="1486.4" cy="175.4" r="1.5" fill="rgb(12,0,0)"/>
<ellipse cx="1584.1" cy="81.4" rx="3.9" ry="3.1" transform="rotate(152 1584.1 81.4)" fill="rgb(67,0,0)"/>
<circle cx="1584.9" cy="81.1" r="1.4" fill="rgb(25,0,0)"/>
<ellipse cx="1545.9" cy="201.5" rx="3.2" ry="3" transform="rotate(56 1545.9 201.5)" fill="rgb(113,1,1)"/>
<ellipse cx="1653.3" cy="178.2" rx="3.7" ry="2.5" transform="rotate(137 1653.3 178.2)" fill="rgb(109,1,1)"/>
<circle cx="1652.9" cy="177.4" r="1.2" fill="rgb(52,0,0)"/>
<ellipse cx="1526.4" cy="160.5" rx="3.6" ry="3.1" transform="rotate(25 1526.4 160.5)" fill="rgb(74,0,0)"/>
<circle cx="1527" cy="161.1" r="1.3" fill="rgb(33,0,0)"/>
<ellipse cx="1533.3" cy="226.5" rx="4.1" ry="2.4" transform="rotate(104 1533.3 226.5)" fill="rgb(64,0,0)"/>
<ellipse cx="1666.4" cy="103.1" rx="3.4" ry="2.6" transform="rotate(58 1666.4 103.1)" fill="rgb(84,1,0)"/>
<circle cx="1666.9" cy="102.4" r="1.7" fill="rgb(35,0,0)"/>
<ellipse cx="1539.4" cy="214.9" rx="4.5" ry="2.8" transform="rotate(52 1539.4 214.9)" fill="rgb(91,1,0)"/>
<ellipse cx="1586.5" cy="187.1" rx="2.7" ry="2.8" transform="rotate(148 1586.5 187.1)" fill="rgb(64,0,0)"/>
<circle cx="1585.9" cy="187.3" r="1.6" fill="rgb(9,0,0)"/>
<ellipse cx="1626.5" cy="111.3" rx="3.5" ry="2.9" transform="rotate(21 1626.5 111.3)" fill="rgb(100,1,0)"/>
<circle cx="1626.2" cy="111.8" r="1.8" fill="rgb(38,0,0)"/>
<ellipse cx="1538.1" cy="117.7" rx="3.5" ry="3.4" transform="rotate(147 1538.1 117.7)" fill="rgb(99,1,0)"/>
<circle cx="1537.8" cy="117.9" r="1.9" fill="rgb(27,0,0)"/>
<ellipse cx="1566.6" cy="115.5" rx="4" ry="2.8" transform="rotate(110 1566.6 115.5)" fill="rgb(75,0,0)"/>
<circle cx="1565.8" cy="115.9" r="1.5" fill="rgb(24,0,0)"/>
<ellipse cx="1569.7" cy="231.7" rx="2.7" ry="2.7" transform="rotate(140 1569.7 231.7)" fill="rgb(86,1,0)"/>
<circle cx="1570.7" cy="231.9" r="1.2" fill="rgb(23,0,0)"/>
<ellipse cx="1671.8" cy="228.9" rx="2.6" ry="2.6" transform="rotate(128 1671.8 228.9)" fill="rgb(90,1,0)"/>
<circle cx="1671" cy="228.4" r="1.2" fill="rgb(33,0,0)"/>
<ellipse cx="1638.2" cy="143.3" rx="4.7" ry="2.8" transform="rotate(18 1638.2 143.3)" fill="rgb(81,1,0)"/>
<ellipse cx="1602" cy="219.3" rx="3.2" ry="2.7" transform="rotate(39 1602 219.3)" fill="rgb(73,0,0)"/>
<circle cx="1602.3" cy="219.5" r="1.5" fill="rgb(15,0,0)"/>
<ellipse cx="1644.3" cy="168.9" rx="4" ry="3.5" transform="rotate(24 1644.3 168.9)" fill="rgb(82,1,0)"/>
<circle cx="1644.6" cy="168.2" r="1.7" fill="rgb(20,0,0)"/>
<ellipse cx="1633" cy="166.2" rx="2.8" ry="2.8" transform="rotate(156 1633 166.2)" fill="rgb(89,1,0)"/>
<circle cx="1633.7" cy="166.4" r="1.3" fill="rgb(41,0,0)"/>
<ellipse cx="1481.6" cy="189.3" rx="4.5" ry="3.6" transform="rotate(72 1481.6 189.3)" fill="rgb(64,0,0)"/>
<circle cx="1482.6" cy="188.5" r="1.3" fill="rgb(9,0,0)"/>
<ellipse cx="1668.4" cy="203.1" rx="3.1" ry="2.6" transform="rotate(119 1668.4 203.1)" fill="rgb(86,1,0)"/>
<circle cx="1669.1" cy="203.7" r="1.6" fill="rgb(43,0,0)"/>
<ellipse cx="1667.1" cy="220.8" rx="4.3" ry="2.5" transform="rotate(178 1667.1 220.8)" fill="rgb(96,1,0)"/>
<circle cx="1667.3" cy="220.8" r="1.6" fill="rgb(27,0,0)"/>
<ellipse cx="1590.7" cy="201.7" rx="3.7" ry="2.3" transform="rotate(62 1590.7 201.7)" fill="rgb(75,0,0)"/>
<circle cx="1589.6" cy="201.6" r="1.5" fill="rgb(39,0,0)"/>
<ellipse cx="1558" cy="93.1" rx="3.3" ry="3.2" transform="rotate(94 1558 93.1)" fill="rgb(99,1,0)"/>
<ellipse cx="1552.4" cy="126.7" rx="3.4" ry="3.3" transform="rotate(177 1552.4 126.7)" fill="rgb(104,1,0)"/>
<ellipse cx="1674.8" cy="186" rx="3.7" ry="3.6" transform="rotate(148 1674.8 186)" fill="rgb(78,0,0)"/>
<circle cx="1673.5" cy="186.2" r="1.8" fill="rgb(13,0,0)"/>
<ellipse cx="1625.6" cy="139.6" rx="3.6" ry="2.4" transform="rotate(58 1625.6 139.6)" fill="rgb(70,0,0)"/>
<circle cx="1624.8" cy="140.7" r="1.6" fill="rgb(11,0,0)"/>
<ellipse cx="1507.9" cy="91.8" rx="3.4" ry="2.8" transform="rotate(162 1507.9 91.8)" fill="rgb(98,1,0)"/>
<circle cx="1507.3" cy="92.1" r="1.5" fill="rgb(32,0,0)"/>
<ellipse cx="1543.8" cy="187" rx="3.6" ry="2.8" transform="rotate(100 1543.8 187)" fill="rgb(103,1,0)"/>
<circle cx="1543.6" cy="187" r="1.9" fill="rgb(50,0,0)"/>
<ellipse cx="1638.1" cy="181.3" rx="4.2" ry="3.1" transform="rotate(77 1638.1 181.3)" fill="rgb(114,2,1)"/>
<circle cx="1636.8" cy="181.5" r="1.8" fill="rgb(47,0,0)"/>
<ellipse cx="1674.9" cy="135.1" rx="3.6" ry="2.9" transform="rotate(52 1674.9 135.1)" fill="rgb(104,1,1)"/>
<circle cx="1674.6" cy="134.7" r="1.5" fill="rgb(19,0,0)"/>
<ellipse cx="1571.5" cy="105.8" rx="3.6" ry="2.8" transform="rotate(100 1571.5 105.8)" fill="rgb(73,0,0)"/>
<circle cx="1570.4" cy="105.4" r="2" fill="rgb(35,0,0)"/>
<ellipse cx="1618.6" cy="131.3" rx="3.7" ry="3.5" transform="rotate(176 1618.6 131.3)" fill="rgb(61,0,0)"/>
<circle cx="1618.2" cy="130.2" r="1.9" fill="rgb(31,0,0)"/>
<ellipse cx="1528.2" cy="129.1" rx="2.9" ry="2.6" transform="rotate(85 1528.2 129.1)" fill="rgb(114,2,1)"/>
<ellipse cx="1676.9" cy="78.8" rx="3" ry="2.6" transform="rotate(109 1676.9 78.8)" fill="rgb(67,0,0)"/>
<circle cx="1676.6" cy="77.7" r="1.3" fill="rgb(18,0,0)"/>
<ellipse cx="1524.4" cy="222.1" rx="4" ry="2.6" transform="rotate(65 1524.4 222.1)" fill="rgb(70,0,0)"/>
<circle cx="1523.4" cy="222.9" r="1.9" fill="rgb(13,0,0)"/>
<ellipse cx="1605.8" cy="210.2" rx="4.5" ry="3.2" transform="rotate(120 1605.8 210.2)" fill="rgb(89,1,0)"/>
<circle cx="1605" cy="211.3" r="1.5" fill="rgb(21,0,0)"/>
<ellipse cx="1658.1" cy="208.4" rx="3.4" ry="2.7" transform="rotate(6 1658.1 208.4)" fill="rgb(60,0,0)"/>
<ellipse cx="1682.9" cy="164.7" rx="3" ry="2.1" transform="rotate(58 1682.9 164.7)" fill="rgb(85,1,0)"/>
<circle cx="1682.4" cy="164.2" r="1.5" fill="rgb(45,0,0)"/>
<ellipse cx="1583.3" cy="134.4" rx="3.7" ry="2.9" transform="rotate(38 1583.3 134.4)" fill="rgb(63,0,0)"/>
<circle cx="1583" cy="134" r="1.7" fill="rgb(9,0,0)"/>
<ellipse cx="1542.7" cy="99" rx="3" ry="2.6" transform="rotate(80 1542.7 99)" fill="rgb(92,1,0)"/>
<circle cx="1542" cy="98.9" r="1.2" fill="rgb(39,0,0)"/>
<ellipse cx="1647.3" cy="122.5" rx="3.7" ry="2.6" transform="rotate(57 1647.3 122.5)" fill="rgb(90,1,0)"/>
<circle cx="1646.5" cy="123.1" r="1.1" fill="rgb(38,0,0)"/>
<ellipse cx="1675.2" cy="171.8" rx="3.4" ry="3.2" transform="rotate(92 1675.2 171.8)" fill="rgb(89,1,0)"/>
<ellipse cx="1560" cy="214.9" rx="4.2" ry="2.8" transform="rotate(110 1560 214.9)" fill="rgb(76,0,0)"/>
<ellipse cx="1667" cy="128.1" rx="3.5" ry="2.8" transform="rotate(149 1667 128.1)" fill="rgb(93,1,0)"/>
<circle cx="1667.3" cy="127.9" r="1.4" fill="rgb(41,0,0)"/>
<ellipse cx="1504.5" cy="178.4" rx="3.6" ry="2.1" transform="rotate(69 1504.5 178.4)" fill="rgb(86,1,0)"/>
<circle cx="1503.8" cy="178.1" r="1.1" fill="rgb(31,0,0)"/>
<ellipse cx="1608.2" cy="119" rx="2.8" ry="2.2" transform="rotate(153 1608.2 119)" fill="rgb(93,1,0)"/>
<circle cx="1607.7" cy="119" r="1.3" fill="rgb(38,0,0)"/>
<ellipse cx="1648.1" cy="104.3" rx="3" ry="2.6" transform="rotate(179 1648.1 104.3)" fill="rgb(95,1,0)"/>
<circle cx="1647.1" cy="105" r="1.7" fill="rgb(45,0,0)"/>
<ellipse cx="1480.7" cy="104.5" rx="2.6" ry="2.4" transform="rotate(92 1480.7 104.5)" fill="rgb(72,0,0)"/>
<circle cx="1479.9" cy="104" r="1" fill="rgb(34,0,0)"/>
<ellipse cx="1591" cy="148.1" rx="4" ry="3" transform="rotate(161 1591 148.1)" fill="rgb(106,1,1)"/>
<circle cx="1591.5" cy="149.3" r="1.9" fill="rgb(38,0,0)"/>
<ellipse cx="1611.6" cy="138.7" rx="3.7" ry="2.2" transform="rotate(69 1611.6 138.7)" fill="rgb(99,1,0)"/>
<circle cx="1610.7" cy="139.3" r="1.6" fill="rgb(24,0,0)"/>
<ellipse cx="1628.7" cy="121.4" rx="2.9" ry="2.3" transform="rotate(33 1628.7 121.4)" fill="rgb(60,0,0)"/>
<circle cx="1629.5" cy="122.4" r="1.1" fill="rgb(16,0,0)"/>
<ellipse cx="1672.9" cy="154.9" rx="2.9" ry="2.1" transform="rotate(140 1672.9 154.9)" fill="rgb(61,0,0)"/>
<circle cx="1672.2" cy="155.8" r="1.1" fill="rgb(27,0,0)"/>
<ellipse cx="1658.3" cy="186.2" rx="3.6" ry="3.2" transform="rotate(116 1658.3 186.2)" fill="rgb(70,0,0)"/>
<circle cx="1659" cy="185.1" r="1.5" fill="rgb(28,0,0)"/>
<ellipse cx="1606" cy="196.2" rx="3.8" ry="3.4" transform="rotate(58 1606 196.2)" fill="rgb(87,1,0)"/>
<circle cx="1606.6" cy="195.1" r="1.8" fill="rgb(37,0,0)"/>
<ellipse cx="1654.8" cy="97.9" rx="3.8" ry="2.4" transform="rotate(83 1654.8 97.9)" fill="rgb(64,0,0)"/>
<circle cx="1654.3" cy="98.2" r="1.2" fill="rgb(25,0,0)"/>
<ellipse cx="1491.1" cy="94.6" rx="3.4" ry="3.3" transform="rotate(94 1491.1 94.6)" fill="rgb(66,0,0)"/>
<circle cx="1490.9" cy="93.5" r="1.6" fill="rgb(32,0,0)"/>
<ellipse cx="1495.8" cy="86.5" rx="3.5" ry="3.3" transform="rotate(122 1495.8 86.5)" fill="rgb(98,1,0)"/>
<circle cx="1496.8" cy="85.9" r="1.6" fill="rgb(38,0,0)"/>
<ellipse cx="1607.8" cy="229.5" rx="2.3" ry="2.1" transform="rotate(167 1607.8 229.5)" fill="rgb(58,0,0)"/>
<circle cx="1607.1" cy="229.6" r="1.3" fill="rgb(11,0,0)"/>
<ellipse cx="1680.4" cy="195.1" rx="2.6" ry="2.5" transform="rotate(101 1680.4 195.1)" fill="rgb(76,0,0)"/>
<circle cx="1680.2" cy="194.3" r="1.1" fill="rgb(20,0,0)"/>
<ellipse cx="1592.4" cy="127.3" rx="3.8" ry="3.4" transform="rotate(163 1592.4 127.3)" fill="rgb(95,1,0)"/>
<ellipse cx="1528.9" cy="91.3" rx="2.8" ry="2.3" transform="rotate(147 1528.9 91.3)" fill="rgb(66,0,0)"/>
<circle cx="1529.4" cy="90.5" r="1.7" fill="rgb(25,0,0)"/>
<ellipse cx="1480.6" cy="113.5" rx="2.9" ry="1.8" transform="rotate(74 1480.6 113.5)" fill="rgb(59,0,0)"/>
<circle cx="1480.4" cy="113" r="1.5" fill="rgb(24,0,0)"/>
<ellipse cx="1652" cy="196.7" rx="3.5" ry="2.8" transform="rotate(111 1652 196.7)" fill="rgb(113,1,1)"/>
<circle cx="1652.4" cy="196.6" r="1.1" fill="rgb(48,0,0)"/>
<ellipse cx="1659.7" cy="233.3" rx="3.5" ry="2.2" transform="rotate(150 1659.7 233.3)" fill="rgb(90,1,0)"/>
<circle cx="1658.8" cy="232.7" r="1.5" fill="rgb(16,0,0)"/>
<ellipse cx="1580.2" cy="108.2" rx="3.4" ry="2.7" transform="rotate(164 1580.2 108.2)" fill="rgb(87,1,0)"/>
<circle cx="1580" cy="108.6" r="1.7" fill="rgb(38,0,0)"/>
<ellipse cx="1609.6" cy="161.9" rx="3.1" ry="2.3" transform="rotate(131 1609.6 161.9)" fill="rgb(73,0,0)"/>
<ellipse cx="1559.2" cy="173.9" rx="4.1" ry="3.2" transform="rotate(177 1559.2 173.9)" fill="rgb(60,0,0)"/>
<circle cx="1558.9" cy="174.1" r="2" fill="rgb(13,0,0)"/>
<ellipse cx="1499.6" cy="193.5" rx="3.2" ry="2.3" transform="rotate(99 1499.6 193.5)" fill="rgb(81,1,0)"/>
<circle cx="1499.9" cy="193.2" r="1.2" fill="rgb(13,0,0)"/>
<ellipse cx="1593.5" cy="171.3" rx="3.3" ry="2.1" transform="rotate(160 1593.5 171.3)" fill="rgb(81,1,0)"/>
<circle cx="1592.5" cy="170.9" r="1.7" fill="rgb(23,0,0)"/>
<ellipse cx="1599.6" cy="137.1" rx="3.2" ry="3.2" transform="rotate(165 1599.6 137.1)" fill="rgb(62,0,0)"/>
<circle cx="1599.2" cy="136.8" r="1.3" fill="rgb(26,0,0)"/>
<ellipse cx="1543.3" cy="133.4" rx="3.7" ry="2.9" transform="rotate(11 1543.3 133.4)" fill="rgb(93,1,0)"/>
<circle cx="1544.2" cy="133.1" r="2.1" fill="rgb(22,0,0)"/>
<ellipse cx="1688.2" cy="129.6" rx="3.8" ry="3.5" transform="rotate(4 1688.2 129.6)" fill="rgb(70,0,0)"/>
<circle cx="1688.1" cy="130.7" r="1.5" fill="rgb(37,0,0)"/>
<ellipse cx="1675.6" cy="124.3" rx="3.6" ry="3.2" transform="rotate(131 1675.6 124.3)" fill="rgb(105,1,1)"/>
<ellipse cx="1614.4" cy="89.2" rx="2.8" ry="2.7" transform="rotate(170 1614.4 89.2)" fill="rgb(106,1,1)"/>
<circle cx="1613.8" cy="88.9" r="1.6" fill="rgb(39,0,0)"/>
<ellipse cx="1527.1" cy="108.5" rx="3.9" ry="3.3" transform="rotate(123 1527.1 108.5)" fill="rgb(71,0,0)"/>
<circle cx="1526.8" cy="107.7" r="1.3" fill="rgb(26,0,0)"/>
<ellipse cx="1612.4" cy="177.8" rx="4.1" ry="3.1" transform="rotate(34 1612.4 177.8)" fill="rgb(60,0,0)"/>
<circle cx="1611.4" cy="177.1" r="1.9" fill="rgb(17,0,0)"/>
<ellipse cx="1628.7" cy="195.8" rx="3.9" ry="3.3" transform="rotate(112 1628.7 195.8)" fill="rgb(60,0,0)"/>
<circle cx="1629.2" cy="195.8" r="1.9" fill="rgb(15,0,0)"/>
<ellipse cx="1631.1" cy="156.5" rx="3" ry="3" transform="rotate(75 1631.1 156.5)" fill="rgb(103,1,0)"/>
<circle cx="1630.1" cy="157.3" r="1.5" fill="rgb(38,0,0)"/>
<ellipse cx="1542.6" cy="81.5" rx="3.8" ry="2.6" transform="rotate(5 1542.6 81.5)" fill="rgb(107,1,1)"/>
<circle cx="1542.8" cy="80.6" r="1.3" fill="rgb(50,0,0)"/>
<ellipse cx="1560.2" cy="229.7" rx="4.4" ry="2.6" transform="rotate(25 1560.2 229.7)" fill="rgb(67,0,0)"/>
<circle cx="1560" cy="229.4" r="1.5" fill="rgb(30,0,0)"/>
<ellipse cx="1654.3" cy="143.8" rx="3.4" ry="2.7" transform="rotate(149 1654.3 143.8)" fill="rgb(108,1,1)"/>
<circle cx="1654.3" cy="143.2" r="1.3" fill="rgb(43,0,0)"/>
<ellipse cx="1503.7" cy="208.5" rx="3.7" ry="3" transform="rotate(27 1503.7 208.5)" fill="rgb(66,0,0)"/>
<circle cx="1502.9" cy="209.5" r="1.5" fill="rgb(21,0,0)"/>
<ellipse cx="1655.5" cy="218.6" rx="2.5" ry="2.1" transform="rotate(109 1655.5 218.6)" fill="rgb(68,0,0)"/>
<ellipse cx="1667.7" cy="81.4" rx="3.9" ry="2.6" transform="rotate(68 1667.7 81.4)" fill="rgb(88,1,0)"/>
<ellipse cx="1620.7" cy="214.3" rx="4.2" ry="2.6" transform="rotate(18 1620.7 214.3)" fill="rgb(81,1,0)"/>
<circle cx="1621.5" cy="213.7" r="1.5" fill="rgb(14,0,0)"/>
<ellipse cx="1538.4" cy="90.5" rx="2.9" ry="2.7" transform="rotate(60 1538.4 90.5)" fill="rgb(103,1,0)"/>
<circle cx="1538.9" cy="90.5" r="1.1" fill="rgb(50,0,0)"/>
<ellipse cx="1683.6" cy="99.7" rx="3.3" ry="3.6" transform="rotate(158 1683.6 99.7)" fill="rgb(85,1,0)"/>
<circle cx="1684.3" cy="99.4" r="1.8" fill="rgb(13,0,0)"/>
<ellipse cx="1617.2" cy="122" rx="3.8" ry="3.6" transform="rotate(163 1617.2 122)" fill="rgb(84,1,0)"/>
<circle cx="1618.5" cy="122.1" r="2" fill="rgb(29,0,0)"/>
</g></g>
<line x1="1655" y1="227" x2="1685.8" y2="227" stroke="#e6e6e6" stroke-width="1.1"/>
<text x="1670.4" y="226.1" font-size="3.6" style="fill:#e0e0e0;stroke:none" text-anchor="middle">100μm</text>
</g>
<g>
<clipPath id="c13"><rect x="1257.2" y="243.7" width="210.8" height="157.7"/></clipPath>
<rect x="1257.2" y="243.7" width="210.8" height="157.7" fill="rgb(3,0,0)"/>
<g clip-path="url(#c13)">
<g filter="url(#bl)">
<ellipse cx="1272.3" cy="278.7" rx="3.3" ry="3.6" transform="rotate(174 1272.3 278.7)" fill="rgb(244,9,5)"/>
<ellipse cx="1305.8" cy="266.9" rx="3.5" ry="2.9" transform="rotate(157 1305.8 266.9)" fill="rgb(244,9,5)"/>
<ellipse cx="1411.9" cy="264.2" rx="4.4" ry="3.2" transform="rotate(76 1411.9 264.2)" fill="rgb(228,7,4)"/>
<ellipse cx="1339.5" cy="334" rx="4" ry="4.4" transform="rotate(18 1339.5 334)" fill="rgb(249,9,5)"/>
<ellipse cx="1274.5" cy="371.6" rx="3.5" ry="3" transform="rotate(117 1274.5 371.6)" fill="rgb(229,8,4)"/>
<ellipse cx="1440.9" cy="371.4" rx="4.3" ry="3.2" transform="rotate(122 1440.9 371.4)" fill="rgb(224,7,4)"/>
<ellipse cx="1360" cy="297" rx="4.9" ry="4.2" transform="rotate(65 1360 297)" fill="rgb(234,8,5)"/>
<ellipse cx="1260.5" cy="379.5" rx="4" ry="3.9" transform="rotate(86 1260.5 379.5)" fill="rgb(223,7,4)"/>
<ellipse cx="1374.6" cy="338.2" rx="4.2" ry="3.1" transform="rotate(149 1374.6 338.2)" fill="rgb(222,7,4)"/>
<ellipse cx="1443" cy="265.9" rx="4.4" ry="4" transform="rotate(74 1443 265.9)" fill="rgb(240,8,5)"/>
<ellipse cx="1335.6" cy="296.3" rx="3.8" ry="3.5" transform="rotate(162 1335.6 296.3)" fill="rgb(252,9,5)"/>
<ellipse cx="1299.9" cy="326.1" rx="5.6" ry="3.8" transform="rotate(129 1299.9 326.1)" fill="rgb(247,9,5)"/>
<ellipse cx="1342.6" cy="352.2" rx="3.7" ry="3.3" transform="rotate(93 1342.6 352.2)" fill="rgb(249,9,5)"/>
<ellipse cx="1360.7" cy="280.8" rx="4.5" ry="3.4" transform="rotate(78 1360.7 280.8)" fill="rgb(238,8,5)"/>
<ellipse cx="1298.2" cy="301.5" rx="3.9" ry="3.9" transform="rotate(173 1298.2 301.5)" fill="rgb(224,7,4)"/>
<ellipse cx="1394.5" cy="394.1" rx="4" ry="4" transform="rotate(47 1394.5 394.1)" fill="rgb(227,7,4)"/>
<ellipse cx="1427.1" cy="375.9" rx="3.4" ry="3" transform="rotate(41 1427.1 375.9)" fill="rgb(228,8,4)"/>
<ellipse cx="1309.4" cy="334.4" rx="4.2" ry="3.7" transform="rotate(105 1309.4 334.4)" fill="rgb(252,9,5)"/>
<ellipse cx="1427.3" cy="359" rx="3.8" ry="3.2" transform="rotate(63 1427.3 359)" fill="rgb(220,7,4)"/>
<ellipse cx="1325.4" cy="338.7" rx="3.9" ry="3.3" transform="rotate(42 1325.4 338.7)" fill="rgb(217,7,4)"/>
<ellipse cx="1259.1" cy="399.4" rx="3.2" ry="3.2" transform="rotate(30 1259.1 399.4)" fill="rgb(247,9,5)"/>
<ellipse cx="1362.1" cy="339.3" rx="4.6" ry="3.9" transform="rotate(59 1362.1 339.3)" fill="rgb(245,9,5)"/>
<ellipse cx="1304.7" cy="254.6" rx="3.8" ry="3.7" transform="rotate(110 1304.7 254.6)" fill="rgb(233,8,5)"/>
<ellipse cx="1265.5" cy="368.1" rx="4.2" ry="3.4" transform="rotate(161 1265.5 368.1)" fill="rgb(246,9,5)"/>
<ellipse cx="1364.2" cy="362.6" rx="5.1" ry="3.8" transform="rotate(108 1364.2 362.6)" fill="rgb(226,7,4)"/>
<ellipse cx="1348.9" cy="273.7" rx="4.7" ry="3.7" transform="rotate(65 1348.9 273.7)" fill="rgb(249,9,5)"/>
<ellipse cx="1340.2" cy="262.9" rx="5" ry="4.5" transform="rotate(94 1340.2 262.9)" fill="rgb(248,9,5)"/>
<ellipse cx="1325.5" cy="365.8" rx="3.9" ry="3.3" transform="rotate(166 1325.5 365.8)" fill="rgb(228,8,4)"/>
<ellipse cx="1324.3" cy="259.1" rx="4" ry="3.7" transform="rotate(145 1324.3 259.1)" fill="rgb(219,7,4)"/>
<ellipse cx="1329.2" cy="281" rx="4.6" ry="4.1" transform="rotate(170 1329.2 281)" fill="rgb(245,9,5)"/>
<ellipse cx="1342.3" cy="318.9" rx="3.6" ry="3.6" transform="rotate(91 1342.3 318.9)" fill="rgb(241,8,5)"/>
<ellipse cx="1420.3" cy="273.7" rx="5.4" ry="4.1" transform="rotate(157 1420.3 273.7)" fill="rgb(253,9,5)"/>
<ellipse cx="1352.5" cy="307.7" rx="4.9" ry="4.3" transform="rotate(54 1352.5 307.7)" fill="rgb(219,7,4)"/>
<ellipse cx="1284.2" cy="300.6" rx="3.6" ry="3.5" transform="rotate(3 1284.2 300.6)" fill="rgb(246,9,5)"/>
<ellipse cx="1421.6" cy="314.2" rx="3.6" ry="3.3" transform="rotate(162 1421.6 314.2)" fill="rgb(253,9,5)"/>
<ellipse cx="1355.8" cy="243.7" rx="4.7" ry="4" transform="rotate(132 1355.8 243.7)" fill="rgb(236,8,5)"/>
<ellipse cx="1337" cy="385.4" rx="4.8" ry="3.4" transform="rotate(70 1337 385.4)" fill="rgb(233,8,5)"/>
<ellipse cx="1408.6" cy="348.8" rx="4.9" ry="4.6" transform="rotate(159 1408.6 348.8)" fill="rgb(251,9,5)"/>
<ellipse cx="1386.5" cy="353.8" rx="3.8" ry="4" transform="rotate(61 1386.5 353.8)" fill="rgb(222,7,4)"/>
<ellipse cx="1277.4" cy="327.2" rx="5.1" ry="3.6" transform="rotate(114 1277.4 327.2)" fill="rgb(218,7,4)"/>
<ellipse cx="1355" cy="261" rx="4.1" ry="4" transform="rotate(58 1355 261)" fill="rgb(230,8,4)"/>
<ellipse cx="1389.2" cy="329.8" rx="3.2" ry="3.6" transform="rotate(36 1389.2 329.8)" fill="rgb(223,7,4)"/>
<ellipse cx="1322.2" cy="400.8" rx="5.8" ry="4.2" transform="rotate(45 1322.2 400.8)" fill="rgb(240,8,5)"/>
<ellipse cx="1350.7" cy="294.5" rx="4.1" ry="3.4" transform="rotate(163 1350.7 294.5)" fill="rgb(240,8,5)"/>
<ellipse cx="1263.4" cy="284.5" rx="4.1" ry="3.7" transform="rotate(45 1263.4 284.5)" fill="rgb(241,8,5)"/>
<ellipse cx="1447.2" cy="290.6" rx="5.2" ry="4.1" transform="rotate(93 1447.2 290.6)" fill="rgb(217,7,4)"/>
<ellipse cx="1405.4" cy="360.8" rx="3.7" ry="3.3" transform="rotate(72 1405.4 360.8)" fill="rgb(231,8,4)"/>
<ellipse cx="1328.7" cy="329.8" rx="4" ry="3.9" transform="rotate(152 1328.7 329.8)" fill="rgb(223,7,4)"/>
<ellipse cx="1378" cy="249.1" rx="3.4" ry="3.2" transform="rotate(179 1378 249.1)" fill="rgb(241,8,5)"/>
<ellipse cx="1368.2" cy="329.9" rx="4.3" ry="3.7" transform="rotate(91 1368.2 329.9)" fill="rgb(220,7,4)"/>
<ellipse cx="1389.7" cy="315.2" rx="4.8" ry="4" transform="rotate(104 1389.7 315.2)" fill="rgb(236,8,5)"/>
<ellipse cx="1344.8" cy="287.3" rx="4.6" ry="3.8" transform="rotate(152 1344.8 287.3)" fill="rgb(236,8,5)"/>
<ellipse cx="1463.5" cy="277.4" rx="5.5" ry="4.1" transform="rotate(28 1463.5 277.4)" fill="rgb(239,8,5)"/>
<ellipse cx="1434.2" cy="267.9" rx="4.3" ry="3.4" transform="rotate(121 1434.2 267.9)" fill="rgb(240,8,5)"/>
<ellipse cx="1362.7" cy="389.7" rx="4.8" ry="3.9" transform="rotate(149 1362.7 389.7)" fill="rgb(232,8,4)"/>
<ellipse cx="1331.8" cy="269.5" rx="5.1" ry="4.5" transform="rotate(8 1331.8 269.5)" fill="rgb(236,8,5)"/>
<ellipse cx="1376.8" cy="323.9" rx="4.3" ry="3.2" transform="rotate(79 1376.8 323.9)" fill="rgb(234,8,5)"/>
<ellipse cx="1414.7" cy="303.8" rx="4.9" ry="3.5" transform="rotate(74 1414.7 303.8)" fill="rgb(227,7,4)"/>
<ellipse cx="1274.8" cy="288.5" rx="4.6" ry="4.1" transform="rotate(119 1274.8 288.5)" fill="rgb(249,9,5)"/>
<ellipse cx="1392.5" cy="339.9" rx="4.3" ry="3.5" transform="rotate(159 1392.5 339.9)" fill="rgb(234,8,5)"/>
<ellipse cx="1407" cy="293.7" rx="5.2" ry="3.9" transform="rotate(31 1407 293.7)" fill="rgb(241,8,5)"/>
<ellipse cx="1311.7" cy="305.3" rx="4.7" ry="4.2" transform="rotate(70 1311.7 305.3)" fill="rgb(234,8,5)"/>
<ellipse cx="1284.3" cy="254.3" rx="4.8" ry="3.7" transform="rotate(106 1284.3 254.3)" fill="rgb(243,9,5)"/>
<ellipse cx="1264.4" cy="334.3" rx="4.2" ry="4.8" transform="rotate(17 1264.4 334.3)" fill="rgb(251,9,5)"/>
<ellipse cx="1318.8" cy="358.4" rx="5.2" ry="3.5" transform="rotate(7 1318.8 358.4)" fill="rgb(235,8,5)"/>
<ellipse cx="1406" cy="311" rx="5" ry="4.2" transform="rotate(49 1406 311)" fill="rgb(234,8,5)"/>
<ellipse cx="1394.6" cy="269" rx="3.4" ry="3.2" transform="rotate(179 1394.6 269)" fill="rgb(238,8,5)"/>
<ellipse cx="1290.8" cy="320.9" rx="4.8" ry="3.9" transform="rotate(109 1290.8 320.9)" fill="rgb(228,8,4)"/>
<ellipse cx="1372.4" cy="348.1" rx="4.5" ry="3.4" transform="rotate(160 1372.4 348.1)" fill="rgb(221,7,4)"/>
<ellipse cx="1355.1" cy="381.5" rx="4.1" ry="3.6" transform="rotate(32 1355.1 381.5)" fill="rgb(223,7,4)"/>
<ellipse cx="1392.9" cy="297.8" rx="4.4" ry="3.6" transform="rotate(80 1392.9 297.8)" fill="rgb(238,8,5)"/>
<ellipse cx="1309.7" cy="294" rx="3.3" ry="3.6" transform="rotate(44 1309.7 294)" fill="rgb(220,7,4)"/>
<ellipse cx="1434.2" cy="320.5" rx="5.3" ry="3.4" transform="rotate(145 1434.2 320.5)" fill="rgb(221,7,4)"/>
<ellipse cx="1354.7" cy="359.8" rx="5" ry="3.3" transform="rotate(9 1354.7 359.8)" fill="rgb(251,9,5)"/>
<ellipse cx="1412.8" cy="284.3" rx="4.6" ry="3.1" transform="rotate(121 1412.8 284.3)" fill="rgb(218,7,4)"/>
<ellipse cx="1459.4" cy="257.3" rx="5.9" ry="4.5" transform="rotate(69 1459.4 257.3)" fill="rgb(243,9,5)"/>
<ellipse cx="1404.7" cy="372.3" rx="5.2" ry="4.2" transform="rotate(98 1404.7 372.3)" fill="rgb(225,7,4)"/>
<ellipse cx="1376.4" cy="290.2" rx="4.8" ry="3.7" transform="rotate(89 1376.4 290.2)" fill="rgb(253,9,5)"/>
<ellipse cx="1369.5" cy="264" rx="4.3" ry="4.8" transform="rotate(19 1369.5 264)" fill="rgb(252,9,5)"/>
<ellipse cx="1286.7" cy="281.6" rx="3.7" ry="3.2" transform="rotate(171 1286.7 281.6)" fill="rgb(226,7,4)"/>
<ellipse cx="1409.4" cy="324.5" rx="3.9" ry="3" transform="rotate(179 1409.4 324.5)" fill="rgb(241,8,5)"/>
<ellipse cx="1387.5" cy="282.4" rx="5.6" ry="4.2" transform="rotate(121 1387.5 282.4)" fill="rgb(229,8,4)"/>
<ellipse cx="1274.4" cy="309.3" rx="4.8" ry="3.7" transform="rotate(83 1274.4 309.3)" fill="rgb(241,8,5)"/>
<ellipse cx="1271.7" cy="339.8" rx="4.6" ry="3.3" transform="rotate(45 1271.7 339.8)" fill="rgb(227,7,4)"/>
<ellipse cx="1421.9" cy="335.2" rx="4.7" ry="3.5" transform="rotate(50 1421.9 335.2)" fill="rgb(235,8,5)"/>
<ellipse cx="1315.6" cy="325.2" rx="4.2" ry="4.2" transform="rotate(63 1315.6 325.2)" fill="rgb(227,7,4)"/>
<ellipse cx="1258.5" cy="326.4" rx="5.3" ry="4.2" transform="rotate(175 1258.5 326.4)" fill="rgb(253,9,5)"/>
<ellipse cx="1377.2" cy="382.4" rx="5.5" ry="3.7" transform="rotate(37 1377.2 382.4)" fill="rgb(230,8,4)"/>
<ellipse cx="1256.1" cy="312" rx="4.6" ry="3.8" transform="rotate(37 1256.1 312)" fill="rgb(221,7,4)"/>
<ellipse cx="1315.7" cy="281.8" rx="4.7" ry="3.8" transform="rotate(168 1315.7 281.8)" fill="rgb(219,7,4)"/>
<ellipse cx="1453.1" cy="283.8" rx="4.2" ry="3.1" transform="rotate(148 1453.1 283.8)" fill="rgb(231,8,4)"/>
<ellipse cx="1379.1" cy="304.3" rx="3.2" ry="3.3" transform="rotate(86 1379.1 304.3)" fill="rgb(219,7,4)"/>
<ellipse cx="1415.5" cy="365.1" rx="5" ry="3.5" transform="rotate(26 1415.5 365.1)" fill="rgb(234,8,5)"/>
<ellipse cx="1277.5" cy="399.7" rx="4.5" ry="3.1" transform="rotate(0 1277.5 399.7)" fill="rgb(248,9,5)"/>
<ellipse cx="1431.5" cy="286.7" rx="4.7" ry="4.4" transform="rotate(8 1431.5 286.7)" fill="rgb(253,9,5)"/>
</g></g>
<line x1="1434.3" y1="393.5" x2="1465" y2="393.5" stroke="#e6e6e6" stroke-width="1.1"/>
<text x="1449.7" y="392.6" font-size="3.6" style="fill:#e0e0e0;stroke:none" text-anchor="middle">100μm</text>
</g>
<g>
<clipPath id="c14"><rect x="1478" y="243.7" width="210.7" height="157.7"/></clipPath>
<rect x="1478" y="243.7" width="210.7" height="157.7" fill="rgb(9,0,0)"/>
<g clip-path="url(#c14)">
<circle cx="1583.3" cy="338.3" r="94.8" fill="url(#hz)" opacity="0.3"/>
<circle cx="1509.6" cy="283.1" r="63.2" fill="url(#hz)" opacity="0.3"/>
<g filter="url(#bl)">
<ellipse cx="1626" cy="346.5" rx="3.7" ry="3" transform="rotate(120 1626 346.5)" fill="rgb(122,2,1)"/>
<circle cx="1626" cy="347.4" r="1.4" fill="rgb(40,0,0)"/>
<ellipse cx="1590.8" cy="402.4" rx="3.8" ry="3" transform="rotate(33 1590.8 402.4)" fill="rgb(107,1,1)"/>
<circle cx="1590.1" cy="401.2" r="1.3" fill="rgb(50,0,0)"/>
<ellipse cx="1572.6" cy="302" rx="4.5" ry="3.3" transform="rotate(44 1572.6 302)" fill="rgb(114,2,1)"/>
<circle cx="1572.3" cy="301" r="1.5" fill="rgb(40,0,0)"/>
<ellipse cx="1532.9" cy="370.5" rx="3.9" ry="3" transform="rotate(122 1532.9 370.5)" fill="rgb(105,1,1)"/>
<ellipse cx="1520.1" cy="319.9" rx="5.1" ry="3.4" transform="rotate(55 1520.1 319.9)" fill="rgb(141,3,1)"/>
<ellipse cx="1615.3" cy="263.1" rx="4.2" ry="3.1" transform="rotate(114 1615.3 263.1)" fill="rgb(138,2,1)"/>
<circle cx="1614.3" cy="262.4" r="2.5" fill="rgb(26,0,0)"/>
<ellipse cx="1495.5" cy="275.9" rx="3.8" ry="3.3" transform="rotate(22 1495.5 275.9)" fill="rgb(99,1,0)"/>
<circle cx="1495.3" cy="275.2" r="2.4" fill="rgb(21,0,0)"/>
<ellipse cx="1650.4" cy="335.8" rx="4.4" ry="3.4" transform="rotate(96 1650.4 335.8)" fill="rgb(89,1,0)"/>
<circle cx="1649.1" cy="336.5" r="2.3" fill="rgb(18,0,0)"/>
<ellipse cx="1664.5" cy="276.9" rx="3" ry="2.6" transform="rotate(42 1664.5 276.9)" fill="rgb(94,1,0)"/>
<circle cx="1665.1" cy="277.7" r="1.2" fill="rgb(24,0,0)"/>
<ellipse cx="1526" cy="303.8" rx="5" ry="4" transform="rotate(103 1526 303.8)" fill="rgb(134,2,1)"/>
<circle cx="1526.1" cy="302.5" r="1.8" fill="rgb(35,0,0)"/>
<ellipse cx="1532.1" cy="323.5" rx="3" ry="2.3" transform="rotate(50 1532.1 323.5)" fill="rgb(138,2,1)"/>
<circle cx="1531.8" cy="323.2" r="1.7" fill="rgb(22,0,0)"/>
<ellipse cx="1646.2" cy="322.6" rx="4" ry="3.3" transform="rotate(98 1646.2 322.6)" fill="rgb(131,2,1)"/>
<ellipse cx="1650.4" cy="257.8" rx="5.2" ry="3.2" transform="rotate(32 1650.4 257.8)" fill="rgb(122,2,1)"/>
<ellipse cx="1483.9" cy="360.5" rx="3.1" ry="3" transform="rotate(129 1483.9 360.5)" fill="rgb(113,1,1)"/>
<circle cx="1482.8" cy="360.3" r="1.5" fill="rgb(27,0,0)"/>
<ellipse cx="1588.8" cy="258.4" rx="4" ry="3.2" transform="rotate(175 1588.8 258.4)" fill="rgb(135,2,1)"/>
<circle cx="1589.5" cy="258.3" r="1.4" fill="rgb(68,0,0)"/>
<ellipse cx="1486.1" cy="283.5" rx="4.1" ry="3" transform="rotate(150 1486.1 283.5)" fill="rgb(120,2,1)"/>
<ellipse cx="1574.5" cy="328.4" rx="3.7" ry="3.9" transform="rotate(89 1574.5 328.4)" fill="rgb(134,2,1)"/>
<circle cx="1575.7" cy="326.9" r="1.6" fill="rgb(32,0,0)"/>
<ellipse cx="1676.5" cy="268.5" rx="3.9" ry="4.1" transform="rotate(109 1676.5 268.5)" fill="rgb(155,3,2)"/>
<circle cx="1676.4" cy="268.7" r="2" fill="rgb(30,0,0)"/>
<ellipse cx="1508.2" cy="354.6" rx="4.2" ry="3.1" transform="rotate(35 1508.2 354.6)" fill="rgb(115,2,1)"/>
<circle cx="1507.2" cy="355.4" r="2.4" fill="rgb(57,0,0)"/>
<ellipse cx="1558.5" cy="247.5" rx="4.7" ry="3.4" transform="rotate(139 1558.5 247.5)" fill="rgb(149,3,2)"/>
<circle cx="1558.3" cy="247.4" r="1.4" fill="rgb(36,0,0)"/>
<ellipse cx="1480.9" cy="298.9" rx="4.2" ry="3.3" transform="rotate(30 1480.9 298.9)" fill="rgb(116,2,1)"/>
<ellipse cx="1541.7" cy="273.5" rx="4.3" ry="3.1" transform="rotate(156 1541.7 273.5)" fill="rgb(115,2,1)"/>
<circle cx="1541" cy="274" r="1.6" fill="rgb(18,0,0)"/>
<ellipse cx="1591.9" cy="377.4" rx="4.1" ry="3.1" transform="rotate(179 1591.9 377.4)" fill="rgb(137,2,1)"/>
<circle cx="1591.1" cy="376.8" r="1.8" fill="rgb(55,0,0)"/>
<ellipse cx="1543.8" cy="398.7" rx="3.4" ry="3.2" transform="rotate(100 1543.8 398.7)" fill="rgb(117,2,1)"/>
<circle cx="1543.2" cy="398.9" r="1.9" fill="rgb(48,0,0)"/>
<ellipse cx="1485.4" cy="266.8" rx="3.1" ry="3.4" transform="rotate(172 1485.4 266.8)" fill="rgb(146,3,1)"/>
<ellipse cx="1526.5" cy="381.4" rx="2.7" ry="2.8" transform="rotate(105 1526.5 381.4)" fill="rgb(115,2,1)"/>
<circle cx="1525.4" cy="382.1" r="1.6" fill="rgb(61,0,0)"/>
<ellipse cx="1530.4" cy="338.9" rx="4.9" ry="3.3" transform="rotate(162 1530.4 338.9)" fill="rgb(106,1,1)"/>
<circle cx="1530.5" cy="338.3" r="2.3" fill="rgb(16,0,0)"/>
<ellipse cx="1597.6" cy="300.6" rx="3.1" ry="3.1" transform="rotate(24 1597.6 300.6)" fill="rgb(104,1,1)"/>
<circle cx="1597.5" cy="300.5" r="1.6" fill="rgb(16,0,0)"/>
<ellipse cx="1569.9" cy="272.2" rx="3.9" ry="2.8" transform="rotate(140 1569.9 272.2)" fill="rgb(107,1,1)"/>
<circle cx="1570.6" cy="272" r="1.9" fill="rgb(57,0,0)"/>
<ellipse cx="1656.5" cy="314.1" rx="4.3" ry="2.7" transform="rotate(126 1656.5 314.1)" fill="rgb(110,1,1)"/>
<circle cx="1656.9" cy="315.1" r="2.1" fill="rgb(55,0,0)"/>
<ellipse cx="1524.2" cy="263.9" rx="3.7" ry="3.7" transform="rotate(145 1524.2 263.9)" fill="rgb(128,2,1)"/>
<circle cx="1523.6" cy="264.2" r="1.4" fill="rgb(52,0,0)"/>
<ellipse cx="1521.4" cy="364.5" rx="4.8" ry="3.3" transform="rotate(52 1521.4 364.5)" fill="rgb(87,1,0)"/>
<circle cx="1521.3" cy="364.9" r="1.9" fill="rgb(42,0,0)"/>
<ellipse cx="1591.9" cy="356.7" rx="4.6" ry="3.2" transform="rotate(51 1591.9 356.7)" fill="rgb(110,1,1)"/>
<circle cx="1591.4" cy="357.1" r="2" fill="rgb(53,0,0)"/>
<ellipse cx="1623.9" cy="265.9" rx="3.8" ry="3.4" transform="rotate(110 1623.9 265.9)" fill="rgb(115,2,1)"/>
<circle cx="1623.3" cy="265.6" r="1.6" fill="rgb(42,0,0)"/>
<ellipse cx="1643.4" cy="284.2" rx="3.3" ry="2.7" transform="rotate(90 1643.4 284.2)" fill="rgb(108,1,1)"/>
<circle cx="1644.3" cy="283.4" r="1.4" fill="rgb(53,0,0)"/>
<ellipse cx="1567.5" cy="264" rx="3.9" ry="2.8" transform="rotate(141 1567.5 264)" fill="rgb(109,1,1)"/>
<circle cx="1568.4" cy="264.3" r="1.8" fill="rgb(33,0,0)"/>
<ellipse cx="1618.8" cy="278.7" rx="4.3" ry="3.3" transform="rotate(102 1618.8 278.7)" fill="rgb(148,3,2)"/>
<circle cx="1619" cy="277.8" r="2.2" fill="rgb(31,0,0)"/>
<ellipse cx="1551.1" cy="300.2" rx="4.2" ry="2.9" transform="rotate(174 1551.1 300.2)" fill="rgb(153,3,2)"/>
<circle cx="1551.1" cy="301.4" r="2.4" fill="rgb(35,0,0)"/>
<ellipse cx="1577" cy="390.9" rx="4.7" ry="3.7" transform="rotate(23 1577 390.9)" fill="rgb(126,2,1)"/>
<circle cx="1578.1" cy="392.1" r="1.4" fill="rgb(42,0,0)"/>
<ellipse cx="1541.7" cy="255.1" rx="4.1" ry="2.9" transform="rotate(56 1541.7 255.1)" fill="rgb(112,1,1)"/>
<circle cx="1540.5" cy="254.1" r="2" fill="rgb(19,0,0)"/>
<ellipse cx="1631.1" cy="307.5" rx="3.5" ry="3.3" transform="rotate(145 1631.1 307.5)" fill="rgb(92,1,0)"/>
<circle cx="1631.9" cy="308.4" r="2.1" fill="rgb(33,0,0)"/>
<ellipse cx="1557.9" cy="336.6" rx="3.4" ry="3.7" transform="rotate(86 1557.9 336.6)" fill="rgb(97,1,0)"/>
<circle cx="1557.3" cy="337.2" r="2.1" fill="rgb(21,0,0)"/>
<ellipse cx="1572.7" cy="367.4" rx="3.9" ry="3.2" transform="rotate(114 1572.7 367.4)" fill="rgb(141,3,1)"/>
<circle cx="1573.3" cy="368.7" r="2.4" fill="rgb(33,0,0)"/>
<ellipse cx="1496" cy="371.6" rx="3.5" ry="2.4" transform="rotate(53 1496 371.6)" fill="rgb(149,3,2)"/>
<circle cx="1495.7" cy="371.1" r="1.6" fill="rgb(54,0,0)"/>
<ellipse cx="1688" cy="280.8" rx="4" ry="3.8" transform="rotate(110 1688 280.8)" fill="rgb(120,2,1)"/>
<circle cx="1686.7" cy="281.8" r="2.1" fill="rgb(29,0,0)"/>
<ellipse cx="1557.8" cy="283.3" rx="4.9" ry="3.5" transform="rotate(108 1557.8 283.3)" fill="rgb(133,2,1)"/>
<circle cx="1558.1" cy="283.6" r="1.6" fill="rgb(65,0,0)"/>
<ellipse cx="1610.1" cy="329.6" rx="4.9" ry="4.1" transform="rotate(144 1610.1 329.6)" fill="rgb(154,3,2)"/>
<circle cx="1610.6" cy="330.2" r="2.1" fill="rgb(59,0,0)"/>
<ellipse cx="1657.8" cy="301.3" rx="3.2" ry="2.4" transform="rotate(143 1657.8 301.3)" fill="rgb(127,2,1)"/>
<circle cx="1658.7" cy="301.8" r="1.9" fill="rgb(26,0,0)"/>
<ellipse cx="1527.7" cy="283.9" rx="4.3" ry="2.9" transform="rotate(57 1527.7 283.9)" fill="rgb(88,1,0)"/>
<circle cx="1528.3" cy="284.4" r="1.8" fill="rgb(38,0,0)"/>
<ellipse cx="1683" cy="380.9" rx="2.9" ry="2.7" transform="rotate(36 1683 380.9)" fill="rgb(91,1,0)"/>
<circle cx="1682.4" cy="380.8" r="1.7" fill="rgb(44,0,0)"/>
<ellipse cx="1500.1" cy="301.4" rx="3.8" ry="2.3" transform="rotate(83 1500.1 301.4)" fill="rgb(116,2,1)"/>
<circle cx="1499.1" cy="301.3" r="1.6" fill="rgb(18,0,0)"/>
<ellipse cx="1514.4" cy="271.8" rx="3.7" ry="3" transform="rotate(89 1514.4 271.8)" fill="rgb(142,3,1)"/>
<circle cx="1513.3" cy="271.4" r="1.5" fill="rgb(75,0,0)"/>
<ellipse cx="1623.6" cy="304.3" rx="3.2" ry="3.1" transform="rotate(136 1623.6 304.3)" fill="rgb(118,2,1)"/>
<ellipse cx="1512.8" cy="309.2" rx="3.1" ry="2.4" transform="rotate(122 1512.8 309.2)" fill="rgb(100,1,0)"/>
<circle cx="1512" cy="308.8" r="1.9" fill="rgb(21,0,0)"/>
<ellipse cx="1620.2" cy="313.6" rx="3.6" ry="3" transform="rotate(6 1620.2 313.6)" fill="rgb(92,1,0)"/>
<circle cx="1619.2" cy="313.1" r="1.5" fill="rgb(23,0,0)"/>
<ellipse cx="1541.9" cy="322.5" rx="5.4" ry="3.3" transform="rotate(4 1541.9 322.5)" fill="rgb(126,2,1)"/>
<circle cx="1541.2" cy="321.5" r="2.1" fill="rgb(19,0,0)"/>
<ellipse cx="1560.5" cy="309.9" rx="3.4" ry="3.6" transform="rotate(158 1560.5 309.9)" fill="rgb(140,3,1)"/>
<circle cx="1561.7" cy="310.8" r="2.3" fill="rgb(34,0,0)"/>
<ellipse cx="1597.3" cy="330.1" rx="2.8" ry="3" transform="rotate(95 1597.3 330.1)" fill="rgb(114,2,1)"/>
<circle cx="1596.3" cy="330.7" r="1.4" fill="rgb(50,0,0)"/>
<ellipse cx="1641.4" cy="377" rx="3.8" ry="3.1" transform="rotate(161 1641.4 377)" fill="rgb(107,1,1)"/>
<circle cx="1642.4" cy="376.8" r="1.4" fill="rgb(34,0,0)"/>
<ellipse cx="1544.8" cy="364" rx="3.3" ry="3" transform="rotate(150 1544.8 364)" fill="rgb(149,3,2)"/>
<circle cx="1545" cy="363.3" r="1.5" fill="rgb(49,0,0)"/>
<ellipse cx="1532.5" cy="400.4" rx="3.4" ry="2.6" transform="rotate(163 1532.5 400.4)" fill="rgb(144,3,1)"/>
<ellipse cx="1603.2" cy="261.4" rx="4" ry="3" transform="rotate(57 1603.2 261.4)" fill="rgb(99,1,0)"/>
<ellipse cx="1605.3" cy="271.9" rx="5" ry="3.9" transform="rotate(14 1605.3 271.9)" fill="rgb(110,1,1)"/>
<circle cx="1606" cy="273.2" r="2.4" fill="rgb(25,0,0)"/>
<ellipse cx="1651.3" cy="373.1" rx="4.5" ry="3.8" transform="rotate(8 1651.3 373.1)" fill="rgb(143,3,1)"/>
<circle cx="1652.4" cy="372.2" r="2" fill="rgb(31,0,0)"/>
<ellipse cx="1492.2" cy="318.2" rx="4.9" ry="3.8" transform="rotate(41 1492.2 318.2)" fill="rgb(110,1,1)"/>
<circle cx="1491.3" cy="317.5" r="1.5" fill="rgb(46,0,0)"/>
<ellipse cx="1659.9" cy="342.5" rx="2.8" ry="2.8" transform="rotate(106 1659.9 342.5)" fill="rgb(138,2,1)"/>
<ellipse cx="1593.2" cy="321.2" rx="5" ry="4.2" transform="rotate(76 1593.2 321.2)" fill="rgb(145,3,1)"/>
<circle cx="1594.2" cy="320.7" r="2.1" fill="rgb(53,0,0)"/>
<ellipse cx="1579.4" cy="347.8" rx="4.2" ry="2.7" transform="rotate(133 1579.4 347.8)" fill="rgb(88,1,0)"/>
<circle cx="1578.1" cy="346.8" r="1.9" fill="rgb(18,0,0)"/>
<ellipse cx="1644.5" cy="342.8" rx="3.7" ry="3.7" transform="rotate(32 1644.5 342.8)" fill="rgb(122,2,1)"/>
<circle cx="1644.1" cy="343" r="2" fill="rgb(49,0,0)"/>
<ellipse cx="1535.6" cy="315.4" rx="4.4" ry="3.5" transform="rotate(166 1535.6 315.4)" fill="rgb(96,1,0)"/>
<circle cx="1534.6" cy="314.4" r="1.5" fill="rgb(48,0,0)"/>
<ellipse cx="1514.1" cy="284.4" rx="4.2" ry="3.4" transform="rotate(52 1514.1 284.4)" fill="rgb(144,3,1)"/>
<ellipse cx="1641.2" cy="352.9" rx="3.2" ry="2.9" transform="rotate(143 1641.2 352.9)" fill="rgb(154,3,2)"/>
<circle cx="1640" cy="352.9" r="1.6" fill="rgb(65,0,0)"/>
<ellipse cx="1499.9" cy="324.4" rx="3.9" ry="3.6" transform="rotate(21 1499.9 324.4)" fill="rgb(113,1,1)"/>
<ellipse cx="1683" cy="274.3" rx="3.3" ry="2.7" transform="rotate(171 1683 274.3)" fill="rgb(154,3,2)"/>
<circle cx="1683.6" cy="273.5" r="1.2" fill="rgb(26,0,0)"/>
<ellipse cx="1681" cy="310.5" rx="4.2" ry="3.1" transform="rotate(179 1681 310.5)" fill="rgb(105,1,1)"/>
<circle cx="1681.3" cy="309.4" r="2" fill="rgb(20,0,0)"/>
<ellipse cx="1537.3" cy="285" rx="3.6" ry="3.1" transform="rotate(141 1537.3 285)" fill="rgb(150,3,2)"/>
<circle cx="1536" cy="285.2" r="1.7" fill="rgb(52,0,0)"/>
<ellipse cx="1597.3" cy="394.1" rx="4.9" ry="3.5" transform="rotate(7 1597.3 394.1)" fill="rgb(102,1,0)"/>
<circle cx="1596" cy="394.2" r="1.5" fill="rgb(46,0,0)"/>
<ellipse cx="1648.2" cy="308.5" rx="3.7" ry="3.5" transform="rotate(59 1648.2 308.5)" fill="rgb(115,2,1)"/>
<circle cx="1648.1" cy="309.4" r="1.9" fill="rgb(35,0,0)"/>
<ellipse cx="1581.4" cy="292.1" rx="3.9" ry="3.7" transform="rotate(168 1581.4 292.1)" fill="rgb(98,1,0)"/>
<ellipse cx="1488.4" cy="383.3" rx="3.1" ry="2.3" transform="rotate(107 1488.4 383.3)" fill="rgb(131,2,1)"/>
<circle cx="1488.1" cy="383.5" r="1.4" fill="rgb(30,0,0)"/>
<ellipse cx="1630.6" cy="289.1" rx="4.1" ry="2.7" transform="rotate(133 1630.6 289.1)" fill="rgb(139,2,1)"/>
<circle cx="1630.2" cy="288.9" r="1.4" fill="rgb(71,0,0)"/>
<ellipse cx="1504.2" cy="344.5" rx="3.2" ry="2.8" transform="rotate(11 1504.2 344.5)" fill="rgb(116,2,1)"/>
<circle cx="1504" cy="345.4" r="2.2" fill="rgb(42,0,0)"/>
<ellipse cx="1682.9" cy="294.9" rx="3.8" ry="2.8" transform="rotate(111 1682.9 294.9)" fill="rgb(138,2,1)"/>
<circle cx="1683.7" cy="293.8" r="1.7" fill="rgb(53,0,0)"/>
<ellipse cx="1564.9" cy="382.2" rx="4.2" ry="2.7" transform="rotate(113 1564.9 382.2)" fill="rgb(101,1,0)"/>
<circle cx="1565.1" cy="381.4" r="1.7" fill="rgb(16,0,0)"/>
<ellipse cx="1477.5" cy="370.1" rx="4.8" ry="3.6" transform="rotate(158 1477.5 370.1)" fill="rgb(100,1,0)"/>
<circle cx="1478.7" cy="371.3" r="2.3" fill="rgb(32,0,0)"/>
<ellipse cx="1497.2" cy="310.5" rx="3.5" ry="2.7" transform="rotate(16 1497.2 310.5)" fill="rgb(135,2,1)"/>
<ellipse cx="1680.4" cy="256" rx="3.8" ry="3.3" transform="rotate(129 1680.4 256)" fill="rgb(105,1,1)"/>
<ellipse cx="1661.6" cy="260.5" rx="4.2" ry="2.5" transform="rotate(16 1661.6 260.5)" fill="rgb(102,1,0)"/>
<circle cx="1661.6" cy="260.1" r="1.5" fill="rgb(24,0,0)"/>
<ellipse cx="1688.2" cy="245.6" rx="4.3" ry="3" transform="rotate(118 1688.2 245.6)" fill="rgb(154,3,2)"/>
<ellipse cx="1598.2" cy="370.6" rx="5.2" ry="3.9" transform="rotate(2 1598.2 370.6)" fill="rgb(123,2,1)"/>
<circle cx="1598" cy="370.4" r="1.6" fill="rgb(31,0,0)"/>
<ellipse cx="1559.4" cy="295" rx="3.9" ry="3.9" transform="rotate(86 1559.4 295)" fill="rgb(145,3,1)"/>
<circle cx="1559.9" cy="295" r="2.1" fill="rgb(35,0,0)"/>
<ellipse cx="1657.6" cy="247.7" rx="3.9" ry="3.2" transform="rotate(141 1657.6 247.7)" fill="rgb(149,3,2)"/>
<circle cx="1656.8" cy="247.8" r="1.4" fill="rgb(79,0,0)"/>
<ellipse cx="1568.4" cy="341.6" rx="4.4" ry="3" transform="rotate(55 1568.4 341.6)" fill="rgb(124,2,1)"/>
<circle cx="1567.9" cy="341.8" r="1.5" fill="rgb(26,0,0)"/>
<ellipse cx="1528.6" cy="254.2" rx="3.8" ry="3" transform="rotate(117 1528.6 254.2)" fill="rgb(113,1,1)"/>
<ellipse cx="1585.3" cy="382.8" rx="4.4" ry="2.9" transform="rotate(2 1585.3 382.8)" fill="rgb(114,2,1)"/>
<circle cx="1584.2" cy="382.9" r="1.7" fill="rgb(17,0,0)"/>
<ellipse cx="1619.9" cy="296.5" rx="4.7" ry="3.4" transform="rotate(8 1619.9 296.5)" fill="rgb(136,2,1)"/>
<circle cx="1620.6" cy="296.9" r="2" fill="rgb(56,0,0)"/>
<ellipse cx="1672.5" cy="391.6" rx="3" ry="2.6" transform="rotate(59 1672.5 391.6)" fill="rgb(144,3,1)"/>
<circle cx="1672.2" cy="391.7" r="1.3" fill="rgb(68,0,0)"/>
<ellipse cx="1549.8" cy="291.1" rx="3.8" ry="2.9" transform="rotate(11 1549.8 291.1)" fill="rgb(94,1,0)"/>
<circle cx="1549" cy="290.6" r="1.5" fill="rgb(19,0,0)"/>
<ellipse cx="1491" cy="255.6" rx="4.2" ry="3.1" transform="rotate(92 1491 255.6)" fill="rgb(138,2,1)"/>
<circle cx="1490.6" cy="255.8" r="2.1" fill="rgb(66,0,0)"/>
<ellipse cx="1669.3" cy="248.1" rx="3.8" ry="3.6" transform="rotate(123 1669.3 248.1)" fill="rgb(100,1,0)"/>
<circle cx="1668.9" cy="246.9" r="2.1" fill="rgb(15,0,0)"/>
<ellipse cx="1558.4" cy="264.3" rx="3.2" ry="3.4" transform="rotate(4 1558.4 264.3)" fill="rgb(94,1,0)"/>
<circle cx="1559.3" cy="265" r="1.7" fill="rgb(32,0,0)"/>
<ellipse cx="1689.2" cy="289.9" rx="4.5" ry="4.2" transform="rotate(99 1689.2 289.9)" fill="rgb(105,1,1)"/>
<circle cx="1689.5" cy="291" r="1.9" fill="rgb(22,0,0)"/>
<ellipse cx="1580.6" cy="315.8" rx="3.6" ry="3.2" transform="rotate(86 1580.6 315.8)" fill="rgb(129,2,1)"/>
<circle cx="1581.8" cy="316.2" r="2.1" fill="rgb(65,0,0)"/>
<ellipse cx="1582.5" cy="370.1" rx="5.2" ry="3.9" transform="rotate(57 1582.5 370.1)" fill="rgb(131,2,1)"/>
<circle cx="1581.7" cy="370.2" r="2.3" fill="rgb(56,0,0)"/>
<ellipse cx="1560.6" cy="392.5" rx="4.1" ry="4.2" transform="rotate(179 1560.6 392.5)" fill="rgb(124,2,1)"/>
<circle cx="1560.8" cy="393.8" r="2.6" fill="rgb(19,0,0)"/>
<ellipse cx="1613.4" cy="381.7" rx="3.6" ry="4" transform="rotate(88 1613.4 381.7)" fill="rgb(113,1,1)"/>
<circle cx="1612.8" cy="382.5" r="2.3" fill="rgb(44,0,0)"/>
<ellipse cx="1568" cy="293.8" rx="4.2" ry="2.6" transform="rotate(72 1568 293.8)" fill="rgb(106,1,1)"/>
<circle cx="1569" cy="292.7" r="1.4" fill="rgb(54,0,0)"/>
<ellipse cx="1565.1" cy="373.3" rx="3.9" ry="2.5" transform="rotate(94 1565.1 373.3)" fill="rgb(136,2,1)"/>
<circle cx="1564.4" cy="372.8" r="1.9" fill="rgb(27,0,0)"/>
<ellipse cx="1667.3" cy="347.6" rx="4.2" ry="4.2" transform="rotate(62 1667.3 347.6)" fill="rgb(122,2,1)"/>
<circle cx="1667.6" cy="348.6" r="2.4" fill="rgb(24,0,0)"/>
<ellipse cx="1628.6" cy="318" rx="3.3" ry="3.4" transform="rotate(27 1628.6 318)" fill="rgb(147,3,1)"/>
<circle cx="1627.4" cy="318.7" r="1.9" fill="rgb(56,0,0)"/>
<ellipse cx="1588.9" cy="311.5" rx="3.6" ry="3.3" transform="rotate(59 1588.9 311.5)" fill="rgb(132,2,1)"/>
<circle cx="1588.1" cy="311.9" r="1.8" fill="rgb(49,0,0)"/>
<ellipse cx="1622.6" cy="355.8" rx="4.2" ry="2.7" transform="rotate(66 1622.6 355.8)" fill="rgb(90,1,0)"/>
<circle cx="1622.9" cy="355.3" r="1.3" fill="rgb(15,0,0)"/>
<ellipse cx="1503.3" cy="281.2" rx="3.8" ry="3.9" transform="rotate(95 1503.3 281.2)" fill="rgb(122,2,1)"/>
<circle cx="1503.1" cy="282.2" r="2.2" fill="rgb(63,0,0)"/>
<ellipse cx="1660.3" cy="326.3" rx="3.3" ry="2.4" transform="rotate(110 1660.3 326.3)" fill="rgb(133,2,1)"/>
<circle cx="1660.5" cy="326.8" r="1.7" fill="rgb(51,0,0)"/>
<ellipse cx="1611.6" cy="350.1" rx="4.5" ry="3.6" transform="rotate(49 1611.6 350.1)" fill="rgb(98,1,0)"/>
<ellipse cx="1633.2" cy="275.7" rx="3.8" ry="3.6" transform="rotate(88 1633.2 275.7)" fill="rgb(154,3,2)"/>
<circle cx="1633.5" cy="276.5" r="1.5" fill="rgb(56,0,0)"/>
<ellipse cx="1628" cy="366.3" rx="4" ry="3" transform="rotate(23 1628 366.3)" fill="rgb(107,1,1)"/>
<circle cx="1627.4" cy="367" r="1.3" fill="rgb(47,0,0)"/>
<ellipse cx="1671" cy="257.9" rx="3.3" ry="2.8" transform="rotate(179 1671 257.9)" fill="rgb(97,1,0)"/>
<ellipse cx="1597.1" cy="254.3" rx="3.7" ry="3.5" transform="rotate(165 1597.1 254.3)" fill="rgb(113,1,1)"/>
<ellipse cx="1594.6" cy="246.4" rx="4.5" ry="2.8" transform="rotate(96 1594.6 246.4)" fill="rgb(149,3,2)"/>
<circle cx="1594.1" cy="246.4" r="1.4" fill="rgb(80,0,0)"/>
<ellipse cx="1668.9" cy="303.5" rx="4.5" ry="3.4" transform="rotate(122 1668.9 303.5)" fill="rgb(109,1,1)"/>
<circle cx="1668.6" cy="304.7" r="1.8" fill="rgb(31,0,0)"/>
<ellipse cx="1606.5" cy="342" rx="4.2" ry="3.3" transform="rotate(92 1606.5 342)" fill="rgb(156,3,2)"/>
<circle cx="1606.5" cy="342.2" r="1.3" fill="rgb(51,0,0)"/>
<ellipse cx="1507" cy="297.2" rx="3" ry="2.8" transform="rotate(144 1507 297.2)" fill="rgb(155,3,2)"/>
<circle cx="1508" cy="297.6" r="1.9" fill="rgb(45,0,0)"/>
<ellipse cx="1677.1" cy="399.8" rx="4.7" ry="3.8" transform="rotate(158 1677.1 399.8)" fill="rgb(140,3,1)"/>
<circle cx="1676.8" cy="399.4" r="2" fill="rgb(68,0,0)"/>
<ellipse cx="1596.5" cy="280.3" rx="3.9" ry="3.2" transform="rotate(39 1596.5 280.3)" fill="rgb(147,3,2)"/>
<circle cx="1596.8" cy="280.3" r="2" fill="rgb(68,0,0)"/>
<ellipse cx="1490.1" cy="355.2" rx="4.1" ry="2.9" transform="rotate(23 1490.1 355.2)" fill="rgb(119,2,1)"/>
<circle cx="1490.9" cy="356.4" r="1.9" fill="rgb(42,0,0)"/>
<ellipse cx="1650.7" cy="392" rx="4.1" ry="2.8" transform="rotate(90 1650.7 392)" fill="rgb(150,3,2)"/>
<circle cx="1651.5" cy="393" r="1.5" fill="rgb(40,0,0)"/>
<ellipse cx="1563.2" cy="323.2" rx="5.5" ry="3.7" transform="rotate(130 1563.2 323.2)" fill="rgb(155,3,2)"/>
<ellipse cx="1677.5" cy="325" rx="4.6" ry="3.3" transform="rotate(86 1677.5 325)" fill="rgb(157,3,2)"/>
<circle cx="1677.2" cy="324.4" r="2.5" fill="rgb(85,0,0)"/>
<ellipse cx="1500.5" cy="245" rx="4.1" ry="3.7" transform="rotate(74 1500.5 245)" fill="rgb(89,1,0)"/>
<circle cx="1499.4" cy="245.6" r="1.6" fill="rgb(33,0,0)"/>
<ellipse cx="1524.8" cy="348" rx="3.8" ry="3.3" transform="rotate(174 1524.8 348)" fill="rgb(152,3,2)"/>
<circle cx="1525.1" cy="347.9" r="2" fill="rgb(49,0,0)"/>
<ellipse cx="1666.3" cy="289.3" rx="4.1" ry="3.4" transform="rotate(145 1666.3 289.3)" fill="rgb(96,1,0)"/>
<circle cx="1665.4" cy="289.3" r="1.9" fill="rgb(28,0,0)"/>
<ellipse cx="1511.3" cy="384.3" rx="4.7" ry="2.9" transform="rotate(124 1511.3 384.3)" fill="rgb(137,2,1)"/>
<circle cx="1511.8" cy="385" r="1.6" fill="rgb(22,0,0)"/>
<ellipse cx="1518.9" cy="336.4" rx="4.5" ry="3.5" transform="rotate(35 1518.9 336.4)" fill="rgb(139,2,1)"/>
<circle cx="1518.5" cy="335.2" r="2.1" fill="rgb(41,0,0)"/>
<ellipse cx="1587.5" cy="329.6" rx="3.2" ry="3.2" transform="rotate(109 1587.5 329.6)" fill="rgb(113,1,1)"/>
<ellipse cx="1586.6" cy="339.9" rx="4.1" ry="3.2" transform="rotate(148 1586.6 339.9)" fill="rgb(92,1,0)"/>
<circle cx="1585.9" cy="341" r="2.1" fill="rgb(37,0,0)"/>
<ellipse cx="1638.6" cy="304.5" rx="3.3" ry="2.9" transform="rotate(124 1638.6 304.5)" fill="rgb(88,1,0)"/>
<circle cx="1639.7" cy="304" r="1.9" fill="rgb(36,0,0)"/>
<ellipse cx="1590.6" cy="290.9" rx="3.6" ry="3.2" transform="rotate(70 1590.6 290.9)" fill="rgb(131,2,1)"/>
<circle cx="1591.3" cy="291.2" r="1.4" fill="rgb(24,0,0)"/>
<ellipse cx="1669.5" cy="330.7" rx="4.7" ry="3.8" transform="rotate(1 1669.5 330.7)" fill="rgb(116,2,1)"/>
<circle cx="1669.5" cy="329.6" r="1.7" fill="rgb(35,0,0)"/>
<ellipse cx="1554.8" cy="384.8" rx="3.8" ry="3.2" transform="rotate(169 1554.8 384.8)" fill="rgb(132,2,1)"/>
<circle cx="1555" cy="385.5" r="1.5" fill="rgb(59,0,0)"/>
<ellipse cx="1627.1" cy="379.8" rx="3.4" ry="2.7" transform="rotate(52 1627.1 379.8)" fill="rgb(150,3,2)"/>
<circle cx="1626.3" cy="380.4" r="1.6" fill="rgb(60,0,0)"/>
<ellipse cx="1491.9" cy="395.9" rx="4.1" ry="3.5" transform="rotate(87 1491.9 395.9)" fill="rgb(138,2,1)"/>
<circle cx="1490.8" cy="395.4" r="1.6" fill="rgb(23,0,0)"/>
<ellipse cx="1542.2" cy="245.4" rx="4.8" ry="3.2" transform="rotate(103 1542.2 245.4)" fill="rgb(145,3,1)"/>
<circle cx="1542.5" cy="245.4" r="1.9" fill="rgb(47,0,0)"/>
<ellipse cx="1600.4" cy="316.3" rx="4.9" ry="4.1" transform="rotate(154 1600.4 316.3)" fill="rgb(133,2,1)"/>
<circle cx="1600.1" cy="316.7" r="2.5" fill="rgb(31,0,0)"/>
<ellipse cx="1621.7" cy="337.6" rx="3.2" ry="2.8" transform="rotate(159 1621.7 337.6)" fill="rgb(121,2,1)"/>
<circle cx="1621.1" cy="337" r="2.2" fill="rgb(41,0,0)"/>
<ellipse cx="1487.5" cy="336.6" rx="4.8" ry="2.9" transform="rotate(47 1487.5 336.6)" fill="rgb(91,1,0)"/>
<circle cx="1487.1" cy="335.6" r="1.8" fill="rgb(33,0,0)"/>
<ellipse cx="1506.8" cy="263.2" rx="3.7" ry="2.6" transform="rotate(152 1506.8 263.2)" fill="rgb(138,2,1)"/>
<circle cx="1506.5" cy="263.7" r="1.3" fill="rgb(75,0,0)"/>
<ellipse cx="1538.1" cy="345.6" rx="4.3" ry="3.9" transform="rotate(55 1538.1 345.6)" fill="rgb(150,3,2)"/>
<circle cx="1537.9" cy="344.8" r="1.5" fill="rgb(75,0,0)"/>
<ellipse cx="1493.4" cy="287.6" rx="3.3" ry="3.3" transform="rotate(93 1493.4 287.6)" fill="rgb(120,2,1)"/>
<ellipse cx="1546.1" cy="345.8" rx="4.2" ry="3.5" transform="rotate(17 1546.1 345.8)" fill="rgb(119,2,1)"/>
<circle cx="1545.9" cy="345.7" r="1.5" fill="rgb(49,0,0)"/>
<ellipse cx="1633.5" cy="330.9" rx="4.5" ry="4" transform="rotate(177 1633.5 330.9)" fill="rgb(145,3,1)"/>
<ellipse cx="1509.1" cy="243.3" rx="3" ry="2.9" transform="rotate(172 1509.1 243.3)" fill="rgb(113,1,1)"/>
<circle cx="1510.1" cy="242.4" r="1.3" fill="rgb(36,0,0)"/>
<ellipse cx="1651.2" cy="358.9" rx="4" ry="3.5" transform="rotate(51 1651.2 358.9)" fill="rgb(111,1,1)"/>
<circle cx="1651.2" cy="359.1" r="1.7" fill="rgb(34,0,0)"/>
<ellipse cx="1520.9" cy="277.1" rx="4.8" ry="3.1" transform="rotate(119 1520.9 277.1)" fill="rgb(119,2,1)"/>
<circle cx="1522" cy="276.2" r="1.9" fill="rgb(34,0,0)"/>
<ellipse cx="1601.7" cy="357.7" rx="4.2" ry="2.6" transform="rotate(69 1601.7 357.7)" fill="rgb(89,1,0)"/>
<circle cx="1602.1" cy="358.7" r="1.4" fill="rgb(16,0,0)"/>
<ellipse cx="1614.3" cy="395.8" rx="3.8" ry="3.9" transform="rotate(129 1614.3 395.8)" fill="rgb(96,1,0)"/>
<circle cx="1614.9" cy="397.3" r="2" fill="rgb(16,0,0)"/>
<ellipse cx="1542.7" cy="297.8" rx="3.7" ry="3.6" transform="rotate(5 1542.7 297.8)" fill="rgb(141,3,1)"/>
<circle cx="1543.1" cy="298.7" r="1.9" fill="rgb(35,0,0)"/>
<ellipse cx="1490.5" cy="242.3" rx="3.2" ry="3" transform="rotate(143 1490.5 242.3)" fill="rgb(138,2,1)"/>
<circle cx="1491.5" cy="242.7" r="2.1" fill="rgb(43,0,0)"/>
<ellipse cx="1531.7" cy="291.2" rx="3.9" ry="2.9" transform="rotate(25 1531.7 291.2)" fill="rgb(123,2,1)"/>
<ellipse cx="1478.5" cy="290.5" rx="3.5" ry="2.4" transform="rotate(62 1478.5 290.5)" fill="rgb(152,3,2)"/>
<circle cx="1477.8" cy="290" r="1.6" fill="rgb(50,0,0)"/>
<ellipse cx="1680.3" cy="344.7" rx="3.8" ry="2.3" transform="rotate(4 1680.3 344.7)" fill="rgb(130,2,1)"/>
<ellipse cx="1573.8" cy="252.7" rx="4.8" ry="2.7" transform="rotate(25 1573.8 252.7)" fill="rgb(92,1,0)"/>
<circle cx="1575" cy="253.4" r="2.1" fill="rgb(33,0,0)"/>
<ellipse cx="1682.7" cy="334.5" rx="3.8" ry="2.2" transform="rotate(155 1682.7 334.5)" fill="rgb(93,1,0)"/>
<circle cx="1683.4" cy="333.8" r="1.1" fill="rgb(23,0,0)"/>
<ellipse cx="1518" cy="246.8" rx="3.2" ry="3.1" transform="rotate(121 1518 246.8)" fill="rgb(125,2,1)"/>
<circle cx="1517.4" cy="246.1" r="1.4" fill="rgb(54,0,0)"/>
<ellipse cx="1672.4" cy="374.4" rx="3.8" ry="3.4" transform="rotate(54 1672.4 374.4)" fill="rgb(131,2,1)"/>
<circle cx="1672.5" cy="373.3" r="2.3" fill="rgb(41,0,0)"/>
<ellipse cx="1574.7" cy="356.8" rx="4.7" ry="3.8" transform="rotate(22 1574.7 356.8)" fill="rgb(147,3,2)"/>
<ellipse cx="1554.4" cy="321.7" rx="4.2" ry="3.1" transform="rotate(143 1554.4 321.7)" fill="rgb(109,1,1)"/>
<circle cx="1555.1" cy="322.2" r="1.6" fill="rgb(30,0,0)"/>
<ellipse cx="1517.5" cy="295.4" rx="3.7" ry="2.4" transform="rotate(13 1517.5 295.4)" fill="rgb(104,1,0)"/>
<circle cx="1518.4" cy="295.2" r="1.8" fill="rgb(25,0,0)"/>
<ellipse cx="1478.8" cy="308.1" rx="3.6" ry="3.3" transform="rotate(92 1478.8 308.1)" fill="rgb(151,3,2)"/>
<circle cx="1478.9" cy="309" r="1.9" fill="rgb(62,0,0)"/>
<ellipse cx="1502" cy="393.4" rx="4.8" ry="4" transform="rotate(98 1502 393.4)" fill="rgb(126,2,1)"/>
<circle cx="1501.6" cy="394.2" r="2.1" fill="rgb(30,0,0)"/>
</g></g>
<line x1="1655" y1="393.5" x2="1685.8" y2="393.5" stroke="#e6e6e6" stroke-width="1.1"/>
<text x="1670.4" y="392.6" font-size="3.6" style="fill:#e0e0e0;stroke:none" text-anchor="middle">100μm</text>
</g>
<text x="829.6" y="444.4" font-size="26" text-anchor="middle">MKN45</text>
<line x1="523" y1="451.3" x2="1149" y2="451.3" stroke="#000" stroke-width="2.7"/>
<text x="626" y="484" font-size="26" text-anchor="middle">shNC</text>
<text x="852.4" y="484" font-size="26" text-anchor="middle">sh1</text>
<text x="1070.2" y="484" font-size="26" text-anchor="middle">sh2</text>
<text x="504.6" y="572.7" font-size="26" text-anchor="middle" transform="rotate(-90 504.6 572.7)">DMSO</text>
<text x="504.6" y="723.4" font-size="26" text-anchor="middle" transform="rotate(-90 504.6 723.4)">Erastin</text>
<text x="477.8" y="898.6" font-size="26" text-anchor="middle" transform="rotate(-90 477.8 898.6)">Erastin+</text>
<text x="504.6" y="898.6" font-size="26" text-anchor="middle" transform="rotate(-90 504.6 898.6)">Liproxstatin-1</text>
<g>
<clipPath id="c20"><rect x="520" y="490.5" width="210.6" height="157.5"/></clipPath>
<rect x="520" y="490.5" width="210.6" height="157.5" fill="rgb(3,0,0)"/>
<g clip-path="url(#c20)">
<rect x="520" y="490.5" width="210.6" height="157.5" fill="#f00" filter="url(#nz)" opacity="0"/>
<g filter="url(#b2)">
<ellipse cx="693.2" cy="582.5" rx="2.3" ry="1.9" transform="rotate(148 693.2 582.5)" fill="rgb(78,0,0)"/>
<ellipse cx="709.7" cy="504" rx="2.3" ry="1.9" transform="rotate(176 709.7 504)" fill="rgb(114,2,1)"/>
<ellipse cx="548.3" cy="609.1" rx="2.6" ry="2.8" transform="rotate(54 548.3 609.1)" fill="rgb(106,1,1)"/>
<ellipse cx="627.7" cy="516.7" rx="2.3" ry="1.9" transform="rotate(111 627.7 516.7)" fill="rgb(109,1,1)"/>
<ellipse cx="693.5" cy="504.8" rx="3.1" ry="2.2" transform="rotate(134 693.5 504.8)" fill="rgb(112,1,1)"/>
<ellipse cx="640.7" cy="496" rx="2.2" ry="1.8" transform="rotate(51 640.7 496)" fill="rgb(103,1,0)"/>
<ellipse cx="560.1" cy="599.7" rx="2.5" ry="1.9" transform="rotate(6 560.1 599.7)" fill="rgb(92,1,0)"/>
<ellipse cx="693.9" cy="623.2" rx="2.2" ry="1.9" transform="rotate(165 693.9 623.2)" fill="rgb(108,1,1)"/>
<ellipse cx="668.6" cy="625.8" rx="2.6" ry="1.9" transform="rotate(127 668.6 625.8)" fill="rgb(107,1,1)"/>
<ellipse cx="592" cy="564.7" rx="1.9" ry="2.1" transform="rotate(174 592 564.7)" fill="rgb(90,1,0)"/>
<ellipse cx="568.3" cy="530.8" rx="3.3" ry="2.7" transform="rotate(0 568.3 530.8)" fill="rgb(95,1,0)"/>
<ellipse cx="595.8" cy="536.9" rx="2.5" ry="2" transform="rotate(4 595.8 536.9)" fill="rgb(78,0,0)"/>
<ellipse cx="521.2" cy="628" rx="2.3" ry="2.1" transform="rotate(114 521.2 628)" fill="rgb(79,0,0)"/>
<ellipse cx="675" cy="519.9" rx="2.7" ry="2.4" transform="rotate(12 675 519.9)" fill="rgb(83,1,0)"/>
<ellipse cx="645.7" cy="575.7" rx="2.3" ry="2.5" transform="rotate(45 645.7 575.7)" fill="rgb(79,0,0)"/>
<ellipse cx="657.2" cy="540.2" rx="2.2" ry="1.9" transform="rotate(155 657.2 540.2)" fill="rgb(93,1,0)"/>
<ellipse cx="660.5" cy="509" rx="3" ry="2.3" transform="rotate(28 660.5 509)" fill="rgb(104,1,1)"/>
<ellipse cx="631.5" cy="533.6" rx="2.8" ry="2.6" transform="rotate(169 631.5 533.6)" fill="rgb(83,1,0)"/>
<ellipse cx="574.2" cy="504" rx="2.1" ry="2.4" transform="rotate(174 574.2 504)" fill="rgb(84,1,0)"/>
<ellipse cx="620.9" cy="523" rx="3" ry="2.8" transform="rotate(56 620.9 523)" fill="rgb(103,1,0)"/>
<ellipse cx="691.2" cy="522.3" rx="2.8" ry="2.2" transform="rotate(35 691.2 522.3)" fill="rgb(111,1,1)"/>
<ellipse cx="695.7" cy="532.2" rx="2.6" ry="2.3" transform="rotate(151 695.7 532.2)" fill="rgb(109,1,1)"/>
<ellipse cx="614.5" cy="529.1" rx="2.4" ry="2.6" transform="rotate(42 614.5 529.1)" fill="rgb(95,1,0)"/>
<ellipse cx="572.6" cy="595.6" rx="2.4" ry="2.1" transform="rotate(19 572.6 595.6)" fill="rgb(75,0,0)"/>
<ellipse cx="686.9" cy="616.9" rx="2.4" ry="1.8" transform="rotate(163 686.9 616.9)" fill="rgb(92,1,0)"/>
<ellipse cx="668.2" cy="539.1" rx="2.9" ry="2.4" transform="rotate(55 668.2 539.1)" fill="rgb(84,1,0)"/>
<ellipse cx="573.3" cy="618.8" rx="2.2" ry="2.4" transform="rotate(36 573.3 618.8)" fill="rgb(91,1,0)"/>
<ellipse cx="570.5" cy="552.2" rx="2.4" ry="2.2" transform="rotate(26 570.5 552.2)" fill="rgb(103,1,0)"/>
<ellipse cx="641.6" cy="610" rx="3.2" ry="2.1" transform="rotate(25 641.6 610)" fill="rgb(113,1,1)"/>
<ellipse cx="677.9" cy="587.9" rx="2.4" ry="2.1" transform="rotate(46 677.9 587.9)" fill="rgb(97,1,0)"/>
<ellipse cx="678.1" cy="514.7" rx="2.1" ry="2.1" transform="rotate(176 678.1 514.7)" fill="rgb(93,1,0)"/>
<ellipse cx="564.7" cy="513" rx="2.7" ry="2" transform="rotate(5 564.7 513)" fill="rgb(110,1,1)"/>
<ellipse cx="632" cy="571.4" rx="2.7" ry="2.5" transform="rotate(173 632 571.4)" fill="rgb(84,1,0)"/>
<ellipse cx="537" cy="642.7" rx="2.4" ry="1.9" transform="rotate(117 537 642.7)" fill="rgb(83,1,0)"/>
<ellipse cx="582.2" cy="566.3" rx="2.5" ry="2.3" transform="rotate(75 582.2 566.3)" fill="rgb(75,0,0)"/>
<ellipse cx="692.7" cy="493.7" rx="2.5" ry="2.4" transform="rotate(32 692.7 493.7)" fill="rgb(77,0,0)"/>
<ellipse cx="588.3" cy="599.5" rx="2.5" ry="1.8" transform="rotate(134 588.3 599.5)" fill="rgb(113,1,1)"/>
<ellipse cx="663.5" cy="545.6" rx="2.1" ry="1.9" transform="rotate(8 663.5 545.6)" fill="rgb(112,1,1)"/>
<ellipse cx="569" cy="557.8" rx="2.6" ry="2.4" transform="rotate(19 569 557.8)" fill="rgb(80,0,0)"/>
<ellipse cx="606.2" cy="516.5" rx="2.5" ry="2.3" transform="rotate(57 606.2 516.5)" fill="rgb(108,1,1)"/>
<ellipse cx="686.2" cy="509.1" rx="2.2" ry="1.8" transform="rotate(113 686.2 509.1)" fill="rgb(92,1,0)"/>
<ellipse cx="567.1" cy="562.5" rx="3" ry="2.6" transform="rotate(156 567.1 562.5)" fill="rgb(97,1,0)"/>
<ellipse cx="703" cy="602" rx="3.2" ry="2.7" transform="rotate(153 703 602)" fill="rgb(87,1,0)"/>
<ellipse cx="644.7" cy="568.9" rx="3.4" ry="2.8" transform="rotate(60 644.7 568.9)" fill="rgb(74,0,0)"/>
<ellipse cx="679.2" cy="593.7" rx="2.7" ry="2" transform="rotate(9 679.2 593.7)" fill="rgb(106,1,1)"/>
<ellipse cx="687.8" cy="593.8" rx="2.5" ry="2.2" transform="rotate(18 687.8 593.8)" fill="rgb(86,1,0)"/>
<ellipse cx="621.2" cy="540.3" rx="2.3" ry="2" transform="rotate(165 621.2 540.3)" fill="rgb(99,1,0)"/>
<ellipse cx="700.3" cy="552.9" rx="2.2" ry="2" transform="rotate(37 700.3 552.9)" fill="rgb(100,1,0)"/>
<ellipse cx="623.2" cy="565" rx="2.9" ry="2.6" transform="rotate(74 623.2 565)" fill="rgb(90,1,0)"/>
<ellipse cx="576.4" cy="574.1" rx="2.1" ry="2" transform="rotate(123 576.4 574.1)" fill="rgb(95,1,0)"/>
<ellipse cx="657.1" cy="615.3" rx="3" ry="2.6" transform="rotate(101 657.1 615.3)" fill="rgb(95,1,0)"/>
<ellipse cx="573.4" cy="529.2" rx="2.1" ry="1.8" transform="rotate(141 573.4 529.2)" fill="rgb(90,1,0)"/>
<ellipse cx="573.6" cy="567.6" rx="2.7" ry="1.8" transform="rotate(19 573.6 567.6)" fill="rgb(76,0,0)"/>
<ellipse cx="681.7" cy="610.6" rx="2.4" ry="1.9" transform="rotate(140 681.7 610.6)" fill="rgb(93,1,0)"/>
<ellipse cx="643" cy="563.8" rx="2.6" ry="2.2" transform="rotate(158 643 563.8)" fill="rgb(93,1,0)"/>
<ellipse cx="574.1" cy="590.8" rx="2.3" ry="2.3" transform="rotate(58 574.1 590.8)" fill="rgb(111,1,1)"/>
<ellipse cx="619.5" cy="550.8" rx="2.7" ry="2.6" transform="rotate(161 619.5 550.8)" fill="rgb(76,0,0)"/>
<ellipse cx="691.3" cy="513.7" rx="3.4" ry="2.7" transform="rotate(79 691.3 513.7)" fill="rgb(111,1,1)"/>
<ellipse cx="614.9" cy="556.2" rx="2.6" ry="2.1" transform="rotate(35 614.9 556.2)" fill="rgb(100,1,0)"/>
<ellipse cx="589.8" cy="576.8" rx="2.7" ry="2.1" transform="rotate(134 589.8 576.8)" fill="rgb(100,1,0)"/>
<ellipse cx="591.1" cy="517.8" rx="2.5" ry="2.1" transform="rotate(175 591.1 517.8)" fill="rgb(76,0,0)"/>
<ellipse cx="584" cy="611.8" rx="2.8" ry="2.2" transform="rotate(156 584 611.8)" fill="rgb(88,1,0)"/>
<ellipse cx="637.1" cy="567.4" rx="2.7" ry="2.5" transform="rotate(175 637.1 567.4)" fill="rgb(100,1,0)"/>
<ellipse cx="683.3" cy="515.3" rx="2.6" ry="2" transform="rotate(85 683.3 515.3)" fill="rgb(101,1,0)"/>
<ellipse cx="532.2" cy="640.3" rx="2.6" ry="2.7" transform="rotate(163 532.2 640.3)" fill="rgb(94,1,0)"/>
<ellipse cx="674.1" cy="527.6" rx="2.7" ry="2.1" transform="rotate(102 674.1 527.6)" fill="rgb(77,0,0)"/>
<ellipse cx="670.4" cy="496.8" rx="2.8" ry="2.2" transform="rotate(173 670.4 496.8)" fill="rgb(113,1,1)"/>
<ellipse cx="578" cy="557.8" rx="2" ry="2.2" transform="rotate(99 578 557.8)" fill="rgb(98,1,0)"/>
<ellipse cx="613" cy="621.9" rx="2.5" ry="2.3" transform="rotate(102 613 621.9)" fill="rgb(91,1,0)"/>
<ellipse cx="679.1" cy="551.8" rx="3.1" ry="2.6" transform="rotate(154 679.1 551.8)" fill="rgb(112,1,1)"/>
<ellipse cx="682.5" cy="500.1" rx="2.3" ry="2.1" transform="rotate(147 682.5 500.1)" fill="rgb(97,1,0)"/>
<ellipse cx="623.3" cy="528.2" rx="2.3" ry="1.8" transform="rotate(50 623.3 528.2)" fill="rgb(83,1,0)"/>
<ellipse cx="535.3" cy="631.1" rx="2.1" ry="2.2" transform="rotate(99 535.3 631.1)" fill="rgb(93,1,0)"/>
<ellipse cx="611" cy="545.1" rx="2.9" ry="2.8" transform="rotate(164 611 545.1)" fill="rgb(86,1,0)"/>
<ellipse cx="592.3" cy="524" rx="2.7" ry="2" transform="rotate(157 592.3 524)" fill="rgb(100,1,0)"/>
</g></g>
<line x1="696.9" y1="640.1" x2="727.7" y2="640.1" stroke="#e6e6e6" stroke-width="1.1"/>
<text x="712.3" y="639.2" font-size="3.6" style="fill:#e0e0e0;stroke:none" text-anchor="middle">100μm</text>
</g>
<g>
<clipPath id="c21"><rect x="737.9" y="490.5" width="210.6" height="157.5"/></clipPath>
<rect x="737.9" y="490.5" width="210.6" height="157.5" fill="rgb(3,0,0)"/>
<g clip-path="url(#c21)">
<rect x="737.9" y="490.5" width="210.6" height="157.5" fill="#f00" filter="url(#nz)" opacity="0"/>
<circle cx="843.2" cy="553.5" r="126.4" fill="url(#hz)" opacity="0.1"/>
<g filter="url(#bl)">
<ellipse cx="804.5" cy="539.8" rx="2.7" ry="2.8" transform="rotate(114 804.5 539.8)" fill="rgb(255,10,6)"/>
<ellipse cx="796.9" cy="543.1" rx="3.1" ry="2.4" transform="rotate(142 796.9 543.1)" fill="rgb(127,2,1)"/>
<ellipse cx="838.6" cy="542.6" rx="3.4" ry="2.6" transform="rotate(90 838.6 542.6)" fill="rgb(178,4,2)"/>
<ellipse cx="858.8" cy="525.9" rx="2.8" ry="2.3" transform="rotate(66 858.8 525.9)" fill="rgb(114,2,1)"/>
<ellipse cx="804.5" cy="511.5" rx="3.2" ry="2.3" transform="rotate(142 804.5 511.5)" fill="rgb(102,1,0)"/>
<ellipse cx="778.5" cy="564.6" rx="2.8" ry="2.4" transform="rotate(7 778.5 564.6)" fill="rgb(191,5,3)"/>
<ellipse cx="841.1" cy="566.4" rx="3.6" ry="2.8" transform="rotate(157 841.1 566.4)" fill="rgb(153,3,2)"/>
<ellipse cx="848.7" cy="567.1" rx="3.2" ry="2.3" transform="rotate(59 848.7 567.1)" fill="rgb(127,2,1)"/>
<ellipse cx="929.1" cy="515.8" rx="3.1" ry="2.3" transform="rotate(171 929.1 515.8)" fill="rgb(204,6,3)"/>
<ellipse cx="944.8" cy="514.8" rx="2.9" ry="2.4" transform="rotate(147 944.8 514.8)" fill="rgb(229,8,4)"/>
<ellipse cx="936.7" cy="534.3" rx="2.7" ry="2.9" transform="rotate(81 936.7 534.3)" fill="rgb(153,3,2)"/>
<ellipse cx="929.1" cy="558.3" rx="3.1" ry="2.5" transform="rotate(87 929.1 558.3)" fill="rgb(191,5,3)"/>
<ellipse cx="942.2" cy="592.4" rx="2.7" ry="2.3" transform="rotate(155 942.2 592.4)" fill="rgb(191,5,3)"/>
<ellipse cx="868.2" cy="594.2" rx="2.8" ry="2.8" transform="rotate(37 868.2 594.2)" fill="rgb(178,4,2)"/>
<ellipse cx="823.5" cy="606.3" rx="3.6" ry="2.9" transform="rotate(135 823.5 606.3)" fill="rgb(204,6,3)"/>
<ellipse cx="827.2" cy="608.8" rx="3.4" ry="2.7" transform="rotate(131 827.2 608.8)" fill="rgb(153,3,2)"/>
<ellipse cx="775.4" cy="617.7" rx="2.7" ry="2.6" transform="rotate(148 775.4 617.7)" fill="rgb(153,3,2)"/>
<ellipse cx="858.8" cy="610.1" rx="2.8" ry="2.9" transform="rotate(159 858.8 610.1)" fill="rgb(127,2,1)"/>
<ellipse cx="867.7" cy="616.9" rx="3" ry="2.5" transform="rotate(81 867.7 616.9)" fill="rgb(178,4,2)"/>
<ellipse cx="857.6" cy="625.3" rx="3" ry="3" transform="rotate(69 857.6 625.3)" fill="rgb(216,7,4)"/>
<ellipse cx="861.4" cy="629" rx="2.6" ry="2.3" transform="rotate(129 861.4 629)" fill="rgb(204,6,3)"/>
<ellipse cx="856.3" cy="632.8" rx="3.6" ry="2.6" transform="rotate(88 856.3 632.8)" fill="rgb(204,6,3)"/>
<ellipse cx="935.9" cy="632.8" rx="3.1" ry="2.8" transform="rotate(39 935.9 632.8)" fill="rgb(204,6,3)"/>
<ellipse cx="941" cy="631.6" rx="3.2" ry="2.7" transform="rotate(112 941 631.6)" fill="rgb(178,4,2)"/>
</g></g>
<line x1="914.8" y1="640.1" x2="945.6" y2="640.1" stroke="#e6e6e6" stroke-width="1.1"/>
<text x="930.2" y="639.2" font-size="3.6" style="fill:#e0e0e0;stroke:none" text-anchor="middle">100μm</text>
</g>
<g>
<clipPath id="c22"><rect x="956" y="490.5" width="210.6" height="157.5"/></clipPath>
<rect x="956" y="490.5" width="210.6" height="157.5" fill="rgb(3,0,0)"/>
<g clip-path="url(#c22)">
<rect x="956" y="490.5" width="210.6" height="157.5" fill="#f00" filter="url(#nz)" opacity="0"/>
<g filter="url(#bl)">
<circle cx="1126.4" cy="546.2" r="2.3" fill="rgb(119,2,1)"/>
<circle cx="1039.5" cy="525.9" r="2.1" fill="rgb(114,2,1)"/>
<circle cx="1152.9" cy="530.8" r="2.3" fill="rgb(114,2,1)"/>
<circle cx="965.7" cy="619" r="2.3" fill="rgb(152,3,2)"/>
<circle cx="1071.4" cy="523.5" r="2" fill="rgb(133,2,1)"/>
<circle cx="1151.4" cy="504" r="2.1" fill="rgb(139,3,1)"/>
<circle cx="1166.6" cy="593.4" r="2.2" fill="rgb(135,2,1)"/>
<circle cx="1016.4" cy="608.7" r="2.6" fill="rgb(113,1,1)"/>
<circle cx="1153.4" cy="587.6" r="2.6" fill="rgb(167,4,2)"/>
<circle cx="1068" cy="495.6" r="2.4" fill="rgb(158,3,2)"/>
<circle cx="1071.4" cy="602.1" r="2.5" fill="rgb(138,2,1)"/>
<circle cx="972.8" cy="642.5" r="2" fill="rgb(119,2,1)"/>
<circle cx="1113.3" cy="515.5" r="2.4" fill="rgb(153,3,2)"/>
<circle cx="1010.3" cy="576.2" r="2.5" fill="rgb(172,4,2)"/>
<circle cx="1115.6" cy="551" r="2.1" fill="rgb(149,3,2)"/>
<circle cx="1008.6" cy="505.1" r="2.1" fill="rgb(165,4,2)"/>
<circle cx="1144.6" cy="517.5" r="2" fill="rgb(149,3,2)"/>
<circle cx="1125.7" cy="563.9" r="2.6" fill="rgb(127,2,1)"/>
<circle cx="1014.2" cy="531.5" r="2.7" fill="rgb(137,2,1)"/>
<circle cx="1132.6" cy="528.1" r="2.7" fill="rgb(131,2,1)"/>
<circle cx="1164.3" cy="588.3" r="2.6" fill="rgb(134,2,1)"/>
<circle cx="1065.3" cy="600.8" r="2.6" fill="rgb(168,4,2)"/>
<circle cx="967" cy="540.3" r="2.4" fill="rgb(157,3,2)"/>
<circle cx="1031.5" cy="508.4" r="2.5" fill="rgb(167,4,2)"/>
<circle cx="1150.3" cy="580.3" r="2.6" fill="rgb(150,3,2)"/>
<circle cx="1054.2" cy="549.6" r="2.5" fill="rgb(148,3,2)"/>
<circle cx="1133.4" cy="551.8" r="2.1" fill="rgb(113,1,1)"/>
<circle cx="1115.9" cy="580.4" r="2.6" fill="rgb(119,2,1)"/>
<circle cx="1164" cy="606.2" r="2.2" fill="rgb(124,2,1)"/>
<circle cx="1057.9" cy="555.2" r="2.1" fill="rgb(123,2,1)"/>
<circle cx="975.7" cy="527.4" r="2.3" fill="rgb(120,2,1)"/>
<circle cx="1061" cy="585.6" r="2.6" fill="rgb(149,3,2)"/>
<circle cx="1058.5" cy="495.2" r="2" fill="rgb(124,2,1)"/>
<circle cx="1123.7" cy="534" r="2.5" fill="rgb(171,4,2)"/>
<circle cx="1156.5" cy="597.8" r="2.2" fill="rgb(113,1,1)"/>
<circle cx="1036.3" cy="597.4" r="2.1" fill="rgb(147,3,1)"/>
<circle cx="1066.4" cy="627.2" r="2.2" fill="rgb(156,3,2)"/>
<circle cx="1132.9" cy="556" r="1.9" fill="rgb(172,4,2)"/>
<circle cx="1080.1" cy="576.5" r="2" fill="rgb(151,3,2)"/>
<circle cx="1099.4" cy="573.6" r="2.3" fill="rgb(165,4,2)"/>
<circle cx="1127.3" cy="520.5" r="2.2" fill="rgb(134,2,1)"/>
<circle cx="1039.5" cy="545.7" r="2.2" fill="rgb(168,4,2)"/>
<circle cx="1026.9" cy="522.7" r="2.4" fill="rgb(134,2,1)"/>
<circle cx="983.7" cy="573.5" r="2.2" fill="rgb(135,2,1)"/>
<circle cx="1158.6" cy="605.8" r="2" fill="rgb(170,4,2)"/>
<circle cx="1135.6" cy="590.9" r="2.6" fill="rgb(170,4,2)"/>
<circle cx="1018" cy="565.8" r="2.3" fill="rgb(115,2,1)"/>
<circle cx="1011.8" cy="586.4" r="2" fill="rgb(126,2,1)"/>
<circle cx="1066.6" cy="531.8" r="2.3" fill="rgb(131,2,1)"/>
<circle cx="1022.6" cy="506.7" r="2.7" fill="rgb(166,4,2)"/>
<circle cx="1145.8" cy="569.7" r="2.3" fill="rgb(131,2,1)"/>
<circle cx="1142" cy="512.9" r="2.2" fill="rgb(139,2,1)"/>
<circle cx="1156.2" cy="571.5" r="2.2" fill="rgb(118,2,1)"/>
<circle cx="1089.8" cy="536.7" r="2.6" fill="rgb(156,3,2)"/>
<circle cx="1100.8" cy="586.2" r="2.7" fill="rgb(130,2,1)"/>
<circle cx="1027.5" cy="550.5" r="2.2" fill="rgb(160,3,2)"/>
<circle cx="1064.1" cy="609.6" r="2.2" fill="rgb(166,4,2)"/>
<circle cx="1100.5" cy="617.8" r="2.5" fill="rgb(130,2,1)"/>
<circle cx="1134.3" cy="542.1" r="2.5" fill="rgb(139,2,1)"/>
<circle cx="988.6" cy="561.9" r="2.6" fill="rgb(126,2,1)"/>
<circle cx="1105.5" cy="545.5" r="2.1" fill="rgb(131,2,1)"/>
<circle cx="1075.3" cy="527.7" r="2" fill="rgb(120,2,1)"/>
<circle cx="955" cy="630.3" r="2.6" fill="rgb(145,3,1)"/>
<circle cx="1157.3" cy="584.2" r="2.5" fill="rgb(159,3,2)"/>
<circle cx="993.5" cy="569.6" r="2.4" fill="rgb(136,2,1)"/>
<circle cx="1012.6" cy="500.8" r="2.6" fill="rgb(131,2,1)"/>
<circle cx="1050.2" cy="532.9" r="2.6" fill="rgb(116,2,1)"/>
<circle cx="1136.9" cy="521.6" r="2.4" fill="rgb(171,4,2)"/>
<circle cx="977.4" cy="542.7" r="2.3" fill="rgb(134,2,1)"/>
<circle cx="1019" cy="578.8" r="2.3" fill="rgb(138,2,1)"/>
<circle cx="1167" cy="647.7" r="2" fill="rgb(138,2,1)"/>
<circle cx="1067.2" cy="546.7" r="2.1" fill="rgb(142,3,1)"/>
<circle cx="1072.2" cy="547.1" r="2.3" fill="rgb(147,3,1)"/>
<circle cx="1152.8" cy="594.1" r="2.5" fill="rgb(113,1,1)"/>
<circle cx="981.9" cy="501.5" r="2" fill="rgb(135,2,1)"/>
<circle cx="1119.1" cy="593.7" r="2" fill="rgb(158,3,2)"/>
<circle cx="1091.2" cy="592.5" r="2.5" fill="rgb(125,2,1)"/>
<circle cx="1153.7" cy="545.3" r="2.3" fill="rgb(129,2,1)"/>
<circle cx="1090.6" cy="517.6" r="2.2" fill="rgb(152,3,2)"/>
<circle cx="971.3" cy="626.3" r="2.3" fill="rgb(118,2,1)"/>
<circle cx="1029.3" cy="497.9" r="1.9" fill="rgb(148,3,2)"/>
<circle cx="1020.5" cy="516.7" r="2.6" fill="rgb(150,3,2)"/>
<circle cx="1106.6" cy="501.3" r="2.3" fill="rgb(144,3,1)"/>
<circle cx="1146.5" cy="507.6" r="2.3" fill="rgb(158,3,2)"/>
<circle cx="1145.1" cy="534.7" r="2.3" fill="rgb(138,2,1)"/>
<circle cx="990.6" cy="539.1" r="2.1" fill="rgb(136,2,1)"/>
<circle cx="1110.8" cy="592" r="2.3" fill="rgb(145,3,1)"/>
<circle cx="1161.8" cy="615.6" r="1.9" fill="rgb(136,2,1)"/>
<circle cx="1021.4" cy="603.6" r="2.6" fill="rgb(138,2,1)"/>
<circle cx="1094.8" cy="589.5" r="2.5" fill="rgb(151,3,2)"/>
<circle cx="1046.5" cy="548.8" r="2.7" fill="rgb(146,3,1)"/>
<circle cx="1130.5" cy="513.4" r="2" fill="rgb(147,3,1)"/>
<circle cx="1020.2" cy="552.3" r="2.7" fill="rgb(171,4,2)"/>
<circle cx="1137.9" cy="555.6" r="2.4" fill="rgb(135,2,1)"/>
<circle cx="1026.1" cy="501.6" r="2.4" fill="rgb(118,2,1)"/>
<circle cx="1093" cy="603.1" r="2.5" fill="rgb(160,3,2)"/>
<circle cx="1024.7" cy="562.9" r="2.2" fill="rgb(159,3,2)"/>
<circle cx="1109.5" cy="618.2" r="2.6" fill="rgb(166,4,2)"/>
<circle cx="1146.9" cy="542.9" r="2.6" fill="rgb(154,3,2)"/>
<circle cx="1069.9" cy="527.7" r="2.3" fill="rgb(145,3,1)"/>
<circle cx="1094.1" cy="612.1" r="2.3" fill="rgb(131,2,1)"/>
<circle cx="1010" cy="563.2" r="2.3" fill="rgb(117,2,1)"/>
<circle cx="1037.7" cy="564.3" r="2.3" fill="rgb(154,3,2)"/>
<circle cx="1015.7" cy="552" r="2.1" fill="rgb(165,4,2)"/>
<circle cx="979.5" cy="569" r="2.6" fill="rgb(169,4,2)"/>
<circle cx="1018.2" cy="584.7" r="2.4" fill="rgb(165,4,2)"/>
<circle cx="1153" cy="617.3" r="2" fill="rgb(122,2,1)"/>
<circle cx="1045.7" cy="564.3" r="2" fill="rgb(134,2,1)"/>
<circle cx="1166" cy="560.4" r="1.9" fill="rgb(134,2,1)"/>
<circle cx="1144.2" cy="621.1" r="2.6" fill="rgb(143,3,1)"/>
<circle cx="1145.8" cy="603.2" r="2" fill="rgb(145,3,1)"/>
<circle cx="1036.1" cy="552.1" r="2.4" fill="rgb(154,3,2)"/>
<circle cx="1054.1" cy="568.4" r="2" fill="rgb(128,2,1)"/>
<circle cx="959.3" cy="568.3" r="2.2" fill="rgb(144,3,1)"/>
<circle cx="1001.8" cy="585.1" r="2.6" fill="rgb(142,3,1)"/>
<circle cx="1163" cy="508.9" r="2.4" fill="rgb(145,3,1)"/>
<circle cx="971.6" cy="533.9" r="2.2" fill="rgb(118,2,1)"/>
<circle cx="986.4" cy="540.9" r="2.6" fill="rgb(166,4,2)"/>
<circle cx="1149.6" cy="514.2" r="2.5" fill="rgb(148,3,2)"/>
<circle cx="1101.6" cy="605.9" r="2.5" fill="rgb(125,2,1)"/>
<circle cx="1110.5" cy="643.3" r="1.9" fill="rgb(143,3,1)"/>
<circle cx="1118" cy="624.1" r="2.2" fill="rgb(121,2,1)"/>
<circle cx="1008.9" cy="535.5" r="2.1" fill="rgb(171,4,2)"/>
<circle cx="1060.5" cy="596.9" r="2.5" fill="rgb(115,2,1)"/>
<circle cx="1090" cy="613.7" r="2.1" fill="rgb(160,3,2)"/>
<circle cx="1148.6" cy="593.4" r="2.4" fill="rgb(127,2,1)"/>
<circle cx="1121.5" cy="552.6" r="2.4" fill="rgb(166,4,2)"/>
<circle cx="1126.4" cy="583.1" r="1.9" fill="rgb(169,4,2)"/>
<circle cx="1046.9" cy="568.5" r="2.1" fill="rgb(125,2,1)"/>
<circle cx="1100.5" cy="529.8" r="2.3" fill="rgb(141,3,1)"/>
<circle cx="1020.4" cy="541.2" r="2" fill="rgb(127,2,1)"/>
<circle cx="983" cy="545.1" r="2.5" fill="rgb(129,2,1)"/>
<circle cx="1020.3" cy="631.7" r="2" fill="rgb(140,3,1)"/>
<circle cx="1103.1" cy="591.9" r="2.3" fill="rgb(164,4,2)"/>
<circle cx="968.7" cy="629.8" r="2.4" fill="rgb(152,3,2)"/>
<circle cx="1017" cy="526.4" r="2.6" fill="rgb(149,3,2)"/>
<circle cx="1017.7" cy="496.5" r="2.4" fill="rgb(149,3,2)"/>
<circle cx="1024.4" cy="557.8" r="2.2" fill="rgb(159,3,2)"/>
<circle cx="1022.2" cy="523.7" r="2.3" fill="rgb(170,4,2)"/>
<circle cx="1007.5" cy="580.5" r="2.4" fill="rgb(168,4,2)"/>
<circle cx="1101.7" cy="540.9" r="2" fill="rgb(156,3,2)"/>
<circle cx="1075.4" cy="589.6" r="2.1" fill="rgb(144,3,1)"/>
<circle cx="984.5" cy="634.4" r="2.2" fill="rgb(114,2,1)"/>
<circle cx="1044" cy="522.8" r="2.5" fill="rgb(148,3,2)"/>
<circle cx="1097.8" cy="597.5" r="2.1" fill="rgb(148,3,2)"/>
<circle cx="1164.3" cy="533.7" r="2.6" fill="rgb(119,2,1)"/>
<circle cx="1161.8" cy="580.7" r="2.1" fill="rgb(163,4,2)"/>
<circle cx="977.3" cy="633.1" r="2.7" fill="rgb(165,4,2)"/>
<circle cx="1083.9" cy="602.6" r="2.2" fill="rgb(129,2,1)"/>
<circle cx="1150.5" cy="622.7" r="2" fill="rgb(119,2,1)"/>
<circle cx="1113.5" cy="556.9" r="2" fill="rgb(142,3,1)"/>
<circle cx="1160.5" cy="625.8" r="2.4" fill="rgb(112,1,1)"/>
<circle cx="959.5" cy="633.3" r="2.1" fill="rgb(161,3,2)"/>
<circle cx="1067.2" cy="554.4" r="2.5" fill="rgb(129,2,1)"/>
<circle cx="1106.3" cy="638.5" r="2.7" fill="rgb(125,2,1)"/>
<circle cx="988.4" cy="514.4" r="2.1" fill="rgb(136,2,1)"/>
<circle cx="1121.7" cy="560.7" r="2.3" fill="rgb(171,4,2)"/>
<circle cx="1020.2" cy="596.1" r="2.1" fill="rgb(165,4,2)"/>
<circle cx="1155.7" cy="554.1" r="2.4" fill="rgb(167,4,2)"/>
<circle cx="976.9" cy="612.1" r="2.6" fill="rgb(169,4,2)"/>
<circle cx="1051.7" cy="553.7" r="2.4" fill="rgb(151,3,2)"/>
<circle cx="1091" cy="625.6" r="2.3" fill="rgb(134,2,1)"/>
<circle cx="1099.6" cy="610.7" r="2.4" fill="rgb(121,2,1)"/>
<circle cx="1053.1" cy="527.4" r="2.1" fill="rgb(171,4,2)"/>
<circle cx="1085.8" cy="614.4" r="2.2" fill="rgb(140,3,1)"/>
<circle cx="1056.9" cy="544.7" r="2.4" fill="rgb(132,2,1)"/>
<circle cx="1165.1" cy="598.6" r="2.1" fill="rgb(156,3,2)"/>
<circle cx="1002.8" cy="577.7" r="2.2" fill="rgb(166,4,2)"/>
<circle cx="1142" cy="538.2" r="2.3" fill="rgb(133,2,1)"/>
<circle cx="1158.6" cy="558.5" r="2.2" fill="rgb(151,3,2)"/>
<circle cx="1018.4" cy="530.9" r="2" fill="rgb(167,4,2)"/>
<circle cx="1003.4" cy="515.1" r="2" fill="rgb(154,3,2)"/>
<circle cx="1020.1" cy="492.3" r="1.9" fill="rgb(148,3,2)"/>
<circle cx="1162" cy="594.2" r="2" fill="rgb(156,3,2)"/>
<circle cx="1005.3" cy="592.5" r="2.3" fill="rgb(171,4,2)"/>
<circle cx="1054.1" cy="597.5" r="2.1" fill="rgb(170,4,2)"/>
<circle cx="1040.5" cy="534.9" r="2.5" fill="rgb(138,2,1)"/>
<circle cx="1026.2" cy="537" r="2.5" fill="rgb(139,2,1)"/>
<circle cx="974.9" cy="548" r="2.2" fill="rgb(157,3,2)"/>
<circle cx="1163" cy="574" r="2.6" fill="rgb(137,2,1)"/>
<circle cx="1103.7" cy="579.1" r="2.5" fill="rgb(121,2,1)"/>
<circle cx="1029.8" cy="562" r="2.6" fill="rgb(170,4,2)"/>
<circle cx="1089.4" cy="572.5" r="2.7" fill="rgb(136,2,1)"/>
<circle cx="1121.3" cy="529.7" r="2.5" fill="rgb(154,3,2)"/>
<circle cx="1097.3" cy="602.1" r="2" fill="rgb(118,2,1)"/>
<circle cx="1042.9" cy="511.3" r="2.4" fill="rgb(172,4,2)"/>
<circle cx="1120.9" cy="629.3" r="2.5" fill="rgb(148,3,2)"/>
<circle cx="1031.9" cy="549.3" r="2.7" fill="rgb(124,2,1)"/>
<circle cx="996.8" cy="574.3" r="2.7" fill="rgb(119,2,1)"/>
<circle cx="1004.3" cy="523.8" r="2.6" fill="rgb(127,2,1)"/>
<circle cx="1031.9" cy="519.6" r="2.5" fill="rgb(137,2,1)"/>
<circle cx="1141.8" cy="589.7" r="2.7" fill="rgb(145,3,1)"/>
<circle cx="1118.7" cy="497.8" r="2.5" fill="rgb(121,2,1)"/>
<circle cx="1018.9" cy="504.1" r="2.6" fill="rgb(129,2,1)"/>
<circle cx="1078.3" cy="520.9" r="2.5" fill="rgb(127,2,1)"/>
<circle cx="1138.8" cy="532.4" r="2" fill="rgb(121,2,1)"/>
<circle cx="1143.6" cy="563" r="2.3" fill="rgb(113,1,1)"/>
<circle cx="1143.4" cy="613.5" r="2.1" fill="rgb(115,2,1)"/>
<circle cx="984.7" cy="524.9" r="2.1" fill="rgb(142,3,1)"/>
<circle cx="1028.2" cy="587" r="2" fill="rgb(153,3,2)"/>
<circle cx="1117.8" cy="522.6" r="2.1" fill="rgb(136,2,1)"/>
<circle cx="1061.6" cy="614.5" r="2.3" fill="rgb(149,3,2)"/>
<circle cx="1085.3" cy="581.8" r="2.3" fill="rgb(116,2,1)"/>
<circle cx="1044.4" cy="576.9" r="2.4" fill="rgb(143,3,1)"/>
<circle cx="1043.8" cy="544.4" r="2" fill="rgb(148,3,2)"/>
<circle cx="964.6" cy="637.3" r="1.9" fill="rgb(149,3,2)"/>
<circle cx="1128.6" cy="556.1" r="2.1" fill="rgb(152,3,2)"/>
<circle cx="959.8" cy="647.5" r="2" fill="rgb(150,3,2)"/>
<circle cx="998.3" cy="578.6" r="2.2" fill="rgb(112,1,1)"/>
<circle cx="1081" cy="612.5" r="2.3" fill="rgb(119,2,1)"/>
<circle cx="1050" cy="541.9" r="2.6" fill="rgb(131,2,1)"/>
<circle cx="1075.1" cy="551.9" r="2.1" fill="rgb(137,2,1)"/>
<circle cx="966.6" cy="546.5" r="2.4" fill="rgb(144,3,1)"/>
<circle cx="1148.3" cy="611.9" r="2.5" fill="rgb(151,3,2)"/>
<circle cx="980.8" cy="588.2" r="2.7" fill="rgb(150,3,2)"/>
<circle cx="1062.7" cy="581.7" r="2.2" fill="rgb(169,4,2)"/>
<circle cx="1061.1" cy="603.4" r="2.3" fill="rgb(130,2,1)"/>
<circle cx="1034.1" cy="567.2" r="1.9" fill="rgb(155,3,2)"/>
<circle cx="980.9" cy="537.6" r="2.4" fill="rgb(120,2,1)"/>
<circle cx="1111.4" cy="575.8" r="2.7" fill="rgb(121,2,1)"/>
<circle cx="1014" cy="642.8" r="2.4" fill="rgb(148,3,2)"/>
<circle cx="1007.6" cy="587.2" r="2.2" fill="rgb(135,2,1)"/>
<circle cx="997.8" cy="511.5" r="2.4" fill="rgb(144,3,1)"/>
<circle cx="1041.7" cy="583.1" r="2.2" fill="rgb(133,2,1)"/>
<circle cx="966.6" cy="600.5" r="2.3" fill="rgb(138,2,1)"/>
<circle cx="1067.6" cy="590.2" r="2.2" fill="rgb(166,4,2)"/>
<circle cx="1033.8" cy="531.8" r="2.4" fill="rgb(173,4,2)"/>
<circle cx="1024.5" cy="576.8" r="2.1" fill="rgb(160,3,2)"/>
<circle cx="1000.1" cy="644.1" r="2.4" fill="rgb(132,2,1)"/>
<circle cx="965.8" cy="531.2" r="2.3" fill="rgb(161,3,2)"/>
<circle cx="964.8" cy="631.9" r="2.3" fill="rgb(127,2,1)"/>
<circle cx="1060" cy="570.1" r="2.1" fill="rgb(161,4,2)"/>
<circle cx="1071" cy="620.3" r="2" fill="rgb(120,2,1)"/>
<circle cx="1064.1" cy="577.6" r="2.4" fill="rgb(150,3,2)"/>
<circle cx="1047.6" cy="529.5" r="2.6" fill="rgb(139,2,1)"/>
<circle cx="1157.3" cy="537.9" r="2.2" fill="rgb(171,4,2)"/>
<circle cx="1003.4" cy="553.6" r="2.1" fill="rgb(155,3,2)"/>
<circle cx="1020.5" cy="512.3" r="2" fill="rgb(137,2,1)"/>
<circle cx="1016.8" cy="520.5" r="2.3" fill="rgb(143,3,1)"/>
<circle cx="1159.1" cy="546.3" r="1.9" fill="rgb(163,4,2)"/>
<circle cx="1024.8" cy="510.9" r="2.7" fill="rgb(157,3,2)"/>
<circle cx="1085.4" cy="512.6" r="2.6" fill="rgb(168,4,2)"/>
<circle cx="1115.4" cy="591" r="2.7" fill="rgb(164,4,2)"/>
<circle cx="1168.3" cy="608.4" r="2.2" fill="rgb(118,2,1)"/>
<circle cx="1000.7" cy="561.6" r="2.2" fill="rgb(116,2,1)"/>
<circle cx="1071.5" cy="625.4" r="2.3" fill="rgb(168,4,2)"/>
<circle cx="1011.6" cy="508.9" r="2.6" fill="rgb(126,2,1)"/>
<circle cx="1143.1" cy="635.1" r="2.4" fill="rgb(129,2,1)"/>
<circle cx="1162.4" cy="611.3" r="2.5" fill="rgb(124,2,1)"/>
<circle cx="1114.9" cy="617.8" r="2" fill="rgb(146,3,1)"/>
<circle cx="1154" cy="567.6" r="2.7" fill="rgb(139,2,1)"/>
<circle cx="1163" cy="566.3" r="2.3" fill="rgb(164,4,2)"/>
<circle cx="970.7" cy="545.2" r="2.4" fill="rgb(156,3,2)"/>
<circle cx="989" cy="596.7" r="2.3" fill="rgb(135,2,1)"/>
<circle cx="976.8" cy="628.2" r="2.3" fill="rgb(144,3,1)"/>
<circle cx="1050.5" cy="587.7" r="2" fill="rgb(128,2,1)"/>
<circle cx="989.3" cy="644.5" r="2" fill="rgb(152,3,2)"/>
<circle cx="1080.2" cy="595.9" r="2.3" fill="rgb(148,3,2)"/>
<circle cx="1168.4" cy="603.3" r="2.2" fill="rgb(157,3,2)"/>
<circle cx="984.6" cy="549.7" r="2.5" fill="rgb(117,2,1)"/>
<circle cx="1069.2" cy="538" r="1.9" fill="rgb(163,4,2)"/>
<circle cx="1028.3" cy="580.9" r="2.1" fill="rgb(172,4,2)"/>
<circle cx="1153.2" cy="601.6" r="2.2" fill="rgb(129,2,1)"/>
<circle cx="1123.1" cy="590.5" r="1.9" fill="rgb(147,3,2)"/>
<circle cx="1053.5" cy="638.6" r="2.4" fill="rgb(115,2,1)"/>
<circle cx="1078.9" cy="606" r="2.5" fill="rgb(115,2,1)"/>
<circle cx="1091.2" cy="608" r="2.3" fill="rgb(168,4,2)"/>
<circle cx="1081" cy="628.9" r="1.9" fill="rgb(165,4,2)"/>
<circle cx="1008.9" cy="514.9" r="2.5" fill="rgb(131,2,1)"/>
<circle cx="986.5" cy="607.5" r="2.4" fill="rgb(122,2,1)"/>
<circle cx="1129.4" cy="627.6" r="2.5" fill="rgb(172,4,2)"/>
<circle cx="1050.5" cy="494.7" r="2.2" fill="rgb(113,1,1)"/>
<circle cx="1118.7" cy="606.3" r="1.9" fill="rgb(134,2,1)"/>
<circle cx="1059.6" cy="520.1" r="2.4" fill="rgb(173,4,2)"/>
<circle cx="1122.3" cy="500.8" r="2.6" fill="rgb(162,4,2)"/>
<circle cx="1015" cy="596" r="2.4" fill="rgb(157,3,2)"/>
<circle cx="975.8" cy="579.7" r="2.4" fill="rgb(120,2,1)"/>
<circle cx="1074.6" cy="594.5" r="2.5" fill="rgb(136,2,1)"/>
<circle cx="1048.6" cy="597.8" r="2" fill="rgb(171,4,2)"/>
<circle cx="1152.9" cy="627.6" r="2.5" fill="rgb(118,2,1)"/>
<circle cx="966.4" cy="588.8" r="2.3" fill="rgb(114,2,1)"/>
<circle cx="1142.4" cy="521.1" r="2.6" fill="rgb(132,2,1)"/>
<circle cx="1091.8" cy="586.1" r="2.3" fill="rgb(154,3,2)"/>
<circle cx="1060.1" cy="548.5" r="2.5" fill="rgb(115,2,1)"/>
<circle cx="1160.8" cy="513.4" r="2.4" fill="rgb(135,2,1)"/>
<circle cx="1060.1" cy="509.1" r="2.2" fill="rgb(165,4,2)"/>
<circle cx="1041.4" cy="569" r="2.4" fill="rgb(157,3,2)"/>
<circle cx="1145.1" cy="555" r="2.1" fill="rgb(136,2,1)"/>
<circle cx="961.9" cy="642.9" r="2.3" fill="rgb(143,3,1)"/>
<circle cx="1038.1" cy="616" r="2.3" fill="rgb(164,4,2)"/>
<circle cx="1151.1" cy="521.2" r="2.1" fill="rgb(120,2,1)"/>
<circle cx="1092.8" cy="544.8" r="2.3" fill="rgb(147,3,2)"/>
<circle cx="1030.1" cy="491.4" r="2.6" fill="rgb(130,2,1)"/>
<circle cx="1139.3" cy="584.9" r="2.7" fill="rgb(123,2,1)"/>
<circle cx="1058.5" cy="514.7" r="2.3" fill="rgb(132,2,1)"/>
<circle cx="1114.1" cy="609.9" r="2" fill="rgb(127,2,1)"/>
<circle cx="1113.7" cy="571.9" r="2.2" fill="rgb(125,2,1)"/>
<circle cx="1167.2" cy="623.2" r="2.1" fill="rgb(157,3,2)"/>
<circle cx="1108.7" cy="566.1" r="2.1" fill="rgb(167,4,2)"/>
<circle cx="1146" cy="641.3" r="2.2" fill="rgb(114,2,1)"/>
<circle cx="981.5" cy="627.3" r="2" fill="rgb(164,4,2)"/>
<circle cx="1059.1" cy="532.4" r="2.4" fill="rgb(168,4,2)"/>
<circle cx="1000.7" cy="599.3" r="2.2" fill="rgb(133,2,1)"/>
<circle cx="995.4" cy="585.7" r="2.2" fill="rgb(140,3,1)"/>
<circle cx="1123.5" cy="506.1" r="2.5" fill="rgb(170,4,2)"/>
<circle cx="1083.8" cy="588.7" r="2.5" fill="rgb(161,4,2)"/>
<circle cx="1164.8" cy="640.6" r="2.2" fill="rgb(140,3,1)"/>
<circle cx="1129.2" cy="538.6" r="1.9" fill="rgb(166,4,2)"/>
<circle cx="1095.9" cy="577.6" r="2.6" fill="rgb(156,3,2)"/>
<circle cx="1077.3" cy="618.1" r="2.2" fill="rgb(133,2,1)"/>
<circle cx="1070.8" cy="608.8" r="2.4" fill="rgb(133,2,1)"/>
<circle cx="1083.4" cy="524.9" r="2.3" fill="rgb(124,2,1)"/>
<circle cx="1130.5" cy="501.1" r="2.6" fill="rgb(168,4,2)"/>
<circle cx="1011.9" cy="522.9" r="2.5" fill="rgb(167,4,2)"/>
<circle cx="981.2" cy="640.1" r="2.6" fill="rgb(142,3,1)"/>
<circle cx="1142.4" cy="544.9" r="1.9" fill="rgb(154,3,2)"/>
<circle cx="977.1" cy="533.5" r="2.3" fill="rgb(134,2,1)"/>
<circle cx="1141.5" cy="596.2" r="2.1" fill="rgb(147,3,2)"/>
<circle cx="1056.6" cy="537.6" r="2.6" fill="rgb(132,2,1)"/>
<circle cx="1113.1" cy="585.8" r="2.4" fill="rgb(139,3,1)"/>
<circle cx="1035" cy="582.7" r="2.6" fill="rgb(143,3,1)"/>
<circle cx="1040.8" cy="498.4" r="2.7" fill="rgb(116,2,1)"/>
<circle cx="1068.7" cy="510.2" r="2.7" fill="rgb(132,2,1)"/>
<circle cx="1063.3" cy="527.4" r="2.5" fill="rgb(139,2,1)"/>
<circle cx="1031.7" cy="574.6" r="2.1" fill="rgb(166,4,2)"/>
<circle cx="995.5" cy="609.1" r="2.4" fill="rgb(122,2,1)"/>
<circle cx="1102.4" cy="627.7" r="2.4" fill="rgb(144,3,1)"/>
<circle cx="1030.8" cy="526.4" r="2.7" fill="rgb(143,3,1)"/>
<circle cx="1028.7" cy="533" r="2.4" fill="rgb(153,3,2)"/>
<circle cx="1045.5" cy="540.1" r="1.9" fill="rgb(140,3,1)"/>
</g></g>
<line x1="1132.9" y1="640.1" x2="1163.7" y2="640.1" stroke="#e6e6e6" stroke-width="1.1"/>
<text x="1148.3" y="639.2" font-size="3.6" style="fill:#e0e0e0;stroke:none" text-anchor="middle">100μm</text>
</g>
<g>
<clipPath id="c23"><rect x="520" y="654.8" width="210.6" height="158"/></clipPath>
<rect x="520" y="654.8" width="210.6" height="158" fill="rgb(3,0,0)"/>
<g clip-path="url(#c23)">
<rect x="520" y="654.8" width="210.6" height="158" fill="#f00" filter="url(#nz)" opacity="0.1"/>
<g filter="url(#b2)">
<circle cx="702.4" cy="675.2" r="1.9" fill="rgb(98,1,0)"/>
<circle cx="551.2" cy="731.4" r="2.4" fill="rgb(94,1,0)"/>
<circle cx="566.3" cy="759.5" r="2.3" fill="rgb(121,2,1)"/>
<circle cx="538.1" cy="767" r="2.6" fill="rgb(105,1,1)"/>
<circle cx="560.2" cy="711.6" r="1.8" fill="rgb(105,1,1)"/>
<circle cx="684.9" cy="747.9" r="2.3" fill="rgb(121,2,1)"/>
<circle cx="708.1" cy="786.9" r="2.5" fill="rgb(89,1,0)"/>
<circle cx="550.4" cy="670.4" r="2.1" fill="rgb(120,2,1)"/>
<circle cx="617.2" cy="738.7" r="2" fill="rgb(123,2,1)"/>
<circle cx="553.8" cy="722.1" r="2.6" fill="rgb(101,1,0)"/>
<circle cx="577.1" cy="670.9" r="2.3" fill="rgb(88,1,0)"/>
<circle cx="540.8" cy="661" r="2.3" fill="rgb(130,2,1)"/>
<circle cx="696.6" cy="778.9" r="2.4" fill="rgb(101,1,0)"/>
<circle cx="562.8" cy="699.1" r="2.5" fill="rgb(86,1,0)"/>
<circle cx="691.5" cy="754.5" r="2.3" fill="rgb(89,1,0)"/>
<circle cx="617.8" cy="779.3" r="2.1" fill="rgb(98,1,0)"/>
<circle cx="700.5" cy="786.5" r="1.9" fill="rgb(126,2,1)"/>
<circle cx="652.1" cy="735.9" r="2.4" fill="rgb(111,1,1)"/>
<circle cx="549.3" cy="793.2" r="1.9" fill="rgb(109,1,1)"/>
<circle cx="597" cy="730.9" r="2" fill="rgb(111,1,1)"/>
<circle cx="694.1" cy="684.3" r="2.3" fill="rgb(130,2,1)"/>
<circle cx="618.1" cy="685.9" r="2" fill="rgb(98,1,0)"/>
<circle cx="700.1" cy="684.3" r="1.9" fill="rgb(129,2,1)"/>
<circle cx="612.4" cy="724.4" r="2.4" fill="rgb(102,1,0)"/>
<circle cx="580.7" cy="718.8" r="2.1" fill="rgb(124,2,1)"/>
<circle cx="640.9" cy="703.2" r="2.3" fill="rgb(113,1,1)"/>
<circle cx="548.2" cy="692" r="2.1" fill="rgb(113,1,1)"/>
<circle cx="649.6" cy="752.5" r="1.8" fill="rgb(94,1,0)"/>
<circle cx="651" cy="781.8" r="2.5" fill="rgb(129,2,1)"/>
<circle cx="652.9" cy="707.3" r="2.2" fill="rgb(116,2,1)"/>
<circle cx="615.6" cy="807.9" r="2.1" fill="rgb(102,1,0)"/>
<circle cx="638.4" cy="740.4" r="2.3" fill="rgb(122,2,1)"/>
<circle cx="665.9" cy="791.6" r="2.5" fill="rgb(97,1,0)"/>
<circle cx="625.1" cy="757" r="2.2" fill="rgb(106,1,1)"/>
<circle cx="631.7" cy="740" r="2.4" fill="rgb(126,2,1)"/>
<circle cx="667.3" cy="730.7" r="2.6" fill="rgb(117,2,1)"/>
<circle cx="538" cy="723.8" r="2.3" fill="rgb(91,1,0)"/>
<circle cx="670.1" cy="774.6" r="1.8" fill="rgb(87,1,0)"/>
<circle cx="567.4" cy="698.9" r="2.3" fill="rgb(112,1,1)"/>
<circle cx="566" cy="689.1" r="1.8" fill="rgb(127,2,1)"/>
<circle cx="693.4" cy="689" r="2.4" fill="rgb(118,2,1)"/>
<circle cx="575" cy="753.8" r="2" fill="rgb(100,1,0)"/>
<circle cx="582.6" cy="683.2" r="2.2" fill="rgb(101,1,0)"/>
<circle cx="599.5" cy="749.4" r="2.2" fill="rgb(116,2,1)"/>
<circle cx="631.9" cy="725.5" r="2.3" fill="rgb(101,1,0)"/>
<circle cx="668.2" cy="722.3" r="2.6" fill="rgb(98,1,0)"/>
<circle cx="725.3" cy="795.2" r="2.2" fill="rgb(103,1,0)"/>
<circle cx="592.1" cy="697.7" r="1.8" fill="rgb(102,1,0)"/>
<circle cx="675.5" cy="717.3" r="2.3" fill="rgb(126,2,1)"/>
<circle cx="605.6" cy="691.8" r="2.1" fill="rgb(93,1,0)"/>
<circle cx="712" cy="727.6" r="2.3" fill="rgb(88,1,0)"/>
<circle cx="646.3" cy="727.1" r="2.2" fill="rgb(91,1,0)"/>
<circle cx="555.2" cy="704" r="2.4" fill="rgb(121,2,1)"/>
<circle cx="581" cy="730.5" r="2.4" fill="rgb(102,1,0)"/>
<circle cx="698.5" cy="754.3" r="2.4" fill="rgb(110,1,1)"/>
<circle cx="550.2" cy="763.9" r="2" fill="rgb(119,2,1)"/>
<circle cx="587.2" cy="758.4" r="2" fill="rgb(130,2,1)"/>
<circle cx="538.7" cy="792.1" r="2.5" fill="rgb(86,1,0)"/>
<circle cx="532" cy="793.9" r="2.4" fill="rgb(107,1,1)"/>
<circle cx="531.2" cy="781.4" r="1.8" fill="rgb(108,1,1)"/>
<circle cx="579.2" cy="741.2" r="2.3" fill="rgb(87,1,0)"/>
<circle cx="587.1" cy="736.5" r="1.9" fill="rgb(121,2,1)"/>
<circle cx="563.9" cy="666.4" r="2" fill="rgb(126,2,1)"/>
<circle cx="541.2" cy="721.2" r="2.1" fill="rgb(116,2,1)"/>
<circle cx="662.6" cy="796.7" r="2.1" fill="rgb(87,1,0)"/>
<circle cx="693.1" cy="667.1" r="2.3" fill="rgb(99,1,0)"/>
<circle cx="696.9" cy="716.6" r="2.2" fill="rgb(118,2,1)"/>
<circle cx="681.5" cy="737.8" r="2.2" fill="rgb(94,1,0)"/>
<circle cx="526.5" cy="778.8" r="1.9" fill="rgb(124,2,1)"/>
<circle cx="649.6" cy="729.7" r="2.5" fill="rgb(101,1,0)"/>
<circle cx="619.7" cy="677.8" r="2.3" fill="rgb(130,2,1)"/>
<circle cx="552.3" cy="664" r="1.9" fill="rgb(109,1,1)"/>
<circle cx="568.4" cy="754.5" r="2.4" fill="rgb(116,2,1)"/>
<circle cx="592" cy="808" r="2.3" fill="rgb(122,2,1)"/>
<circle cx="634" cy="691.1" r="2.1" fill="rgb(96,1,0)"/>
<circle cx="715.6" cy="709.9" r="2.1" fill="rgb(100,1,0)"/>
<circle cx="687.5" cy="768.5" r="2.2" fill="rgb(91,1,0)"/>
<circle cx="671.7" cy="788.4" r="2.5" fill="rgb(116,2,1)"/>
<circle cx="686" cy="657.9" r="2.4" fill="rgb(116,2,1)"/>
<circle cx="658.7" cy="740.4" r="2.4" fill="rgb(106,1,1)"/>
<circle cx="657.1" cy="733.8" r="2" fill="rgb(96,1,0)"/>
<circle cx="518.1" cy="790.1" r="1.9" fill="rgb(131,2,1)"/>
<circle cx="712.6" cy="806.4" r="2.3" fill="rgb(115,2,1)"/>
<circle cx="643" cy="787" r="2.3" fill="rgb(106,1,1)"/>
<circle cx="639.2" cy="760" r="2.2" fill="rgb(88,1,0)"/>
<circle cx="576" cy="745.5" r="2.4" fill="rgb(106,1,1)"/>
<circle cx="633.6" cy="706.5" r="1.9" fill="rgb(129,2,1)"/>
<circle cx="703.3" cy="771.1" r="2.2" fill="rgb(86,1,0)"/>
<circle cx="640.9" cy="769.9" r="2" fill="rgb(101,1,0)"/>
<circle cx="584.4" cy="733.5" r="2.2" fill="rgb(86,1,0)"/>
<circle cx="657.2" cy="752" r="2.1" fill="rgb(116,2,1)"/>
<circle cx="576.5" cy="759" r="2.3" fill="rgb(101,1,0)"/>
<circle cx="592.2" cy="701.9" r="2.4" fill="rgb(92,1,0)"/>
<circle cx="538.3" cy="810.3" r="1.8" fill="rgb(87,1,0)"/>
<circle cx="527.2" cy="798.4" r="1.9" fill="rgb(124,2,1)"/>
<circle cx="654.8" cy="712.7" r="2.1" fill="rgb(128,2,1)"/>
<circle cx="587.5" cy="685.8" r="2.4" fill="rgb(123,2,1)"/>
<circle cx="576.3" cy="769.6" r="2.6" fill="rgb(116,2,1)"/>
<circle cx="684.5" cy="708.2" r="2.3" fill="rgb(123,2,1)"/>
<circle cx="652.2" cy="701.4" r="2.3" fill="rgb(106,1,1)"/>
<circle cx="713.1" cy="672.6" r="2.3" fill="rgb(90,1,0)"/>
<circle cx="647.6" cy="756" r="2.4" fill="rgb(89,1,0)"/>
<circle cx="689.4" cy="665.2" r="2.6" fill="rgb(117,2,1)"/>
<circle cx="685" cy="690.6" r="2.6" fill="rgb(115,2,1)"/>
<circle cx="555.7" cy="745.4" r="2.1" fill="rgb(109,1,1)"/>
<circle cx="622.2" cy="710.2" r="2.2" fill="rgb(90,1,0)"/>
<circle cx="583.6" cy="710.1" r="2.5" fill="rgb(94,1,0)"/>
<circle cx="642.9" cy="725.1" r="2" fill="rgb(101,1,0)"/>
<circle cx="574.1" cy="722.1" r="2.4" fill="rgb(105,1,1)"/>
<circle cx="652" cy="764.3" r="2" fill="rgb(113,1,1)"/>
<circle cx="662.3" cy="743.5" r="2.1" fill="rgb(94,1,0)"/>
<circle cx="709.2" cy="694.9" r="2.4" fill="rgb(107,1,1)"/>
<circle cx="523.5" cy="810.4" r="2.4" fill="rgb(87,1,0)"/>
<circle cx="643.8" cy="756.9" r="2.6" fill="rgb(94,1,0)"/>
<circle cx="544.4" cy="723.6" r="2.2" fill="rgb(94,1,0)"/>
<circle cx="592.8" cy="689.7" r="2.1" fill="rgb(122,2,1)"/>
<circle cx="688.1" cy="775.2" r="2.2" fill="rgb(131,2,1)"/>
<circle cx="709.8" cy="771.9" r="1.9" fill="rgb(126,2,1)"/>
<circle cx="528" cy="811.7" r="2.5" fill="rgb(101,1,0)"/>
<circle cx="607.3" cy="704.3" r="2.5" fill="rgb(98,1,0)"/>
<circle cx="558.1" cy="728.3" r="2.4" fill="rgb(101,1,0)"/>
<circle cx="548" cy="784.3" r="2.2" fill="rgb(115,2,1)"/>
<circle cx="684.7" cy="715.5" r="2.5" fill="rgb(101,1,0)"/>
<circle cx="680.8" cy="716.6" r="1.9" fill="rgb(99,1,0)"/>
<circle cx="728.5" cy="747.6" r="2.4" fill="rgb(101,1,0)"/>
<circle cx="613.3" cy="778.4" r="2.2" fill="rgb(116,2,1)"/>
<circle cx="654.4" cy="798" r="2.1" fill="rgb(127,2,1)"/>
<circle cx="563.3" cy="716" r="2.1" fill="rgb(108,1,1)"/>
<circle cx="605.6" cy="806.9" r="2.5" fill="rgb(88,1,0)"/>
<circle cx="684.6" cy="797.3" r="2.1" fill="rgb(117,2,1)"/>
<circle cx="557.2" cy="685.2" r="2.3" fill="rgb(106,1,1)"/>
<circle cx="640" cy="730.5" r="2.2" fill="rgb(128,2,1)"/>
<circle cx="725.5" cy="801.3" r="2.5" fill="rgb(98,1,0)"/>
<circle cx="533.7" cy="801.2" r="2.2" fill="rgb(86,1,0)"/>
<circle cx="657.1" cy="744.2" r="1.9" fill="rgb(102,1,0)"/>
<circle cx="699.4" cy="738.3" r="2.1" fill="rgb(118,2,1)"/>
<circle cx="564.5" cy="727.1" r="1.9" fill="rgb(107,1,1)"/>
<circle cx="660.3" cy="655.9" r="2.5" fill="rgb(91,1,0)"/>
<circle cx="688.9" cy="788.7" r="2" fill="rgb(102,1,0)"/>
<circle cx="568.8" cy="676.9" r="2.3" fill="rgb(129,2,1)"/>
<circle cx="684.1" cy="672.9" r="2" fill="rgb(107,1,1)"/>
<circle cx="595.9" cy="675.7" r="2.3" fill="rgb(124,2,1)"/>
<circle cx="618.6" cy="767" r="2.5" fill="rgb(127,2,1)"/>
<circle cx="627.9" cy="690.2" r="1.9" fill="rgb(101,1,0)"/>
<circle cx="576.1" cy="716.1" r="1.8" fill="rgb(87,1,0)"/>
<circle cx="689.7" cy="797.2" r="2.1" fill="rgb(106,1,1)"/>
<circle cx="689.9" cy="682.6" r="2.3" fill="rgb(129,2,1)"/>
<circle cx="655.2" cy="689.8" r="1.9" fill="rgb(131,2,1)"/>
<circle cx="629.9" cy="765.5" r="2.4" fill="rgb(92,1,0)"/>
<circle cx="690.7" cy="715.8" r="2.3" fill="rgb(91,1,0)"/>
<circle cx="560.4" cy="739.6" r="1.9" fill="rgb(116,2,1)"/>
<circle cx="639.3" cy="750.2" r="1.9" fill="rgb(116,2,1)"/>
<circle cx="657" cy="782.1" r="2.1" fill="rgb(117,2,1)"/>
<circle cx="619.4" cy="706.3" r="2.1" fill="rgb(114,2,1)"/>
<circle cx="582.9" cy="745.7" r="1.9" fill="rgb(126,2,1)"/>
<circle cx="706.6" cy="671.5" r="2.4" fill="rgb(103,1,0)"/>
<circle cx="599.5" cy="738.7" r="2.3" fill="rgb(90,1,0)"/>
<circle cx="657.5" cy="700.6" r="2.3" fill="rgb(97,1,0)"/>
<circle cx="535.7" cy="666.7" r="2.6" fill="rgb(91,1,0)"/>
<circle cx="570.6" cy="689.4" r="1.8" fill="rgb(127,2,1)"/>
<circle cx="635.8" cy="783.9" r="2.3" fill="rgb(114,2,1)"/>
<circle cx="659.9" cy="788.8" r="1.9" fill="rgb(106,1,1)"/>
<circle cx="658.4" cy="801.9" r="2.4" fill="rgb(89,1,0)"/>
<circle cx="575.3" cy="732.6" r="2.4" fill="rgb(113,1,1)"/>
<circle cx="545.9" cy="763.8" r="1.9" fill="rgb(110,1,1)"/>
<circle cx="674.9" cy="668.8" r="2.1" fill="rgb(123,2,1)"/>
<circle cx="710.7" cy="790.9" r="2.3" fill="rgb(124,2,1)"/>
<circle cx="597.5" cy="768.9" r="2.4" fill="rgb(109,1,1)"/>
<circle cx="528.4" cy="790.2" r="2" fill="rgb(132,2,1)"/>
<circle cx="573.6" cy="684.7" r="2.1" fill="rgb(115,2,1)"/>
<circle cx="536.2" cy="778.5" r="2.5" fill="rgb(94,1,0)"/>
<circle cx="577.5" cy="692.2" r="1.8" fill="rgb(122,2,1)"/>
<circle cx="654.4" cy="748.2" r="2.4" fill="rgb(93,1,0)"/>
<circle cx="531.4" cy="807.2" r="2" fill="rgb(114,2,1)"/>
<circle cx="569.5" cy="789.2" r="2.3" fill="rgb(125,2,1)"/>
<circle cx="541.1" cy="783.2" r="2.2" fill="rgb(94,1,0)"/>
<circle cx="708.5" cy="684.8" r="2.4" fill="rgb(105,1,1)"/>
<circle cx="542.3" cy="745.2" r="2" fill="rgb(92,1,0)"/>
<circle cx="588.1" cy="678.4" r="2" fill="rgb(91,1,0)"/>
<circle cx="585.3" cy="772.2" r="1.9" fill="rgb(110,1,1)"/>
<circle cx="548" cy="685.9" r="1.9" fill="rgb(94,1,0)"/>
<circle cx="638.8" cy="715.4" r="2.4" fill="rgb(94,1,0)"/>
<circle cx="530.3" cy="711.6" r="2.4" fill="rgb(87,1,0)"/>
<circle cx="566.8" cy="750.3" r="2" fill="rgb(93,1,0)"/>
<circle cx="571.3" cy="693.2" r="2.2" fill="rgb(108,1,1)"/>
<circle cx="651.1" cy="814.6" r="2.4" fill="rgb(106,1,1)"/>
<circle cx="619.6" cy="744" r="2.5" fill="rgb(88,1,0)"/>
<circle cx="562.2" cy="781.7" r="2.3" fill="rgb(88,1,0)"/>
<circle cx="717.5" cy="752.9" r="2.1" fill="rgb(128,2,1)"/>
<circle cx="523.3" cy="701.7" r="2" fill="rgb(89,1,0)"/>
<circle cx="617.7" cy="700" r="2.6" fill="rgb(86,1,0)"/>
<circle cx="700.3" cy="697" r="2.3" fill="rgb(93,1,0)"/>
<circle cx="585.3" cy="794.7" r="2.3" fill="rgb(124,2,1)"/>
<circle cx="635.4" cy="767.6" r="1.9" fill="rgb(128,2,1)"/>
<circle cx="626.1" cy="740" r="2.3" fill="rgb(91,1,0)"/>
<circle cx="669.1" cy="737.8" r="2" fill="rgb(104,1,1)"/>
<circle cx="583.6" cy="722.9" r="2.4" fill="rgb(126,2,1)"/>
<circle cx="542.8" cy="800.6" r="1.9" fill="rgb(126,2,1)"/>
<circle cx="589.5" cy="772.8" r="2.3" fill="rgb(87,1,0)"/>
<circle cx="715.2" cy="784.1" r="2.2" fill="rgb(99,1,0)"/>
<circle cx="658.4" cy="806.1" r="2.3" fill="rgb(122,2,1)"/>
<circle cx="695.1" cy="790.9" r="1.9" fill="rgb(89,1,0)"/>
<circle cx="538" cy="704.6" r="1.8" fill="rgb(111,1,1)"/>
<circle cx="628.9" cy="728" r="2.4" fill="rgb(98,1,0)"/>
<circle cx="647.1" cy="778.8" r="2.4" fill="rgb(126,2,1)"/>
<circle cx="549.5" cy="696.8" r="2.2" fill="rgb(90,1,0)"/>
<circle cx="711.8" cy="655.9" r="1.8" fill="rgb(91,1,0)"/>
<circle cx="543.6" cy="704.4" r="2.4" fill="rgb(124,2,1)"/>
<circle cx="569.9" cy="673.2" r="1.8" fill="rgb(115,2,1)"/>
<circle cx="654" cy="697" r="2.5" fill="rgb(99,1,0)"/>
<circle cx="704.8" cy="792.6" r="2.6" fill="rgb(122,2,1)"/>
<circle cx="547.1" cy="757.8" r="2" fill="rgb(94,1,0)"/>
<circle cx="606.7" cy="771.2" r="2.5" fill="rgb(99,1,0)"/>
<circle cx="588.8" cy="691.9" r="1.8" fill="rgb(86,1,0)"/>
<circle cx="571.1" cy="782.5" r="2.3" fill="rgb(117,2,1)"/>
<circle cx="569.7" cy="655.6" r="1.9" fill="rgb(128,2,1)"/>
<circle cx="660.5" cy="756.4" r="2.1" fill="rgb(97,1,0)"/>
<circle cx="661.7" cy="736" r="2" fill="rgb(116,2,1)"/>
<circle cx="681.2" cy="791.5" r="2.4" fill="rgb(125,2,1)"/>
<circle cx="536" cy="805.7" r="1.9" fill="rgb(115,2,1)"/>
<circle cx="567.2" cy="721.7" r="2.1" fill="rgb(90,1,0)"/>
<circle cx="623.4" cy="762.9" r="2.3" fill="rgb(94,1,0)"/>
<circle cx="583.1" cy="750.2" r="1.9" fill="rgb(131,2,1)"/>
<circle cx="520.9" cy="717.2" r="1.8" fill="rgb(108,1,1)"/>
<circle cx="701.7" cy="801.8" r="2.1" fill="rgb(94,1,0)"/>
<circle cx="598.9" cy="753.7" r="2.6" fill="rgb(89,1,0)"/>
<circle cx="527" cy="686.5" r="1.8" fill="rgb(101,1,0)"/>
<circle cx="571.4" cy="778.6" r="2.3" fill="rgb(112,1,1)"/>
<circle cx="630.6" cy="735.9" r="2.4" fill="rgb(112,1,1)"/>
<circle cx="556.1" cy="772.9" r="2.2" fill="rgb(131,2,1)"/>
<circle cx="557.4" cy="734.7" r="1.9" fill="rgb(107,1,1)"/>
<circle cx="667.3" cy="781.6" r="2.1" fill="rgb(131,2,1)"/>
<circle cx="525.5" cy="723.5" r="2.2" fill="rgb(109,1,1)"/>
<circle cx="635.9" cy="732.3" r="2.4" fill="rgb(132,2,1)"/>
<circle cx="693.7" cy="773" r="2.3" fill="rgb(87,1,0)"/>
<circle cx="676.4" cy="728.9" r="1.9" fill="rgb(92,1,0)"/>
<circle cx="569.4" cy="807.3" r="1.8" fill="rgb(87,1,0)"/>
<circle cx="530.9" cy="689.5" r="2.6" fill="rgb(105,1,1)"/>
<circle cx="562.6" cy="677.1" r="2.4" fill="rgb(98,1,0)"/>
<circle cx="644.7" cy="732.6" r="2" fill="rgb(131,2,1)"/>
<circle cx="679" cy="734.6" r="1.9" fill="rgb(126,2,1)"/>
<circle cx="585.2" cy="713.7" r="1.8" fill="rgb(108,1,1)"/>
<circle cx="658.9" cy="812.7" r="2.2" fill="rgb(112,1,1)"/>
<circle cx="611.6" cy="736.5" r="2.3" fill="rgb(92,1,0)"/>
<circle cx="726.2" cy="789.4" r="2.5" fill="rgb(95,1,0)"/>
<circle cx="531" cy="724.7" r="2" fill="rgb(88,1,0)"/>
<circle cx="695.7" cy="664.2" r="2" fill="rgb(113,1,1)"/>
<circle cx="681.8" cy="768.3" r="2.2" fill="rgb(130,2,1)"/>
<circle cx="552.6" cy="679.6" r="2.5" fill="rgb(102,1,0)"/>
<circle cx="578.4" cy="680.4" r="2" fill="rgb(109,1,1)"/>
<circle cx="610.5" cy="769.7" r="2" fill="rgb(102,1,0)"/>
<circle cx="587.3" cy="698.9" r="2.3" fill="rgb(96,1,0)"/>
<circle cx="722.4" cy="708.7" r="2.6" fill="rgb(127,2,1)"/>
<circle cx="711.8" cy="677.2" r="2.3" fill="rgb(119,2,1)"/>
<circle cx="685.4" cy="783.8" r="2.6" fill="rgb(108,1,1)"/>
<circle cx="619.8" cy="757.4" r="2.1" fill="rgb(116,2,1)"/>
<circle cx="637.8" cy="664.2" r="2.4" fill="rgb(106,1,1)"/>
<circle cx="566" cy="663.2" r="2" fill="rgb(132,2,1)"/>
<circle cx="549.3" cy="778.5" r="2.4" fill="rgb(117,2,1)"/>
<circle cx="535" cy="787.2" r="1.9" fill="rgb(105,1,1)"/>
<circle cx="725.2" cy="679.1" r="2.3" fill="rgb(126,2,1)"/>
<circle cx="680.3" cy="693.7" r="2" fill="rgb(90,1,0)"/>
<circle cx="677.1" cy="782" r="2.4" fill="rgb(126,2,1)"/>
<circle cx="714" cy="690.6" r="2.2" fill="rgb(119,2,1)"/>
<circle cx="569.4" cy="667.3" r="2.1" fill="rgb(100,1,0)"/>
<circle cx="659.6" cy="748.6" r="1.9" fill="rgb(90,1,0)"/>
<circle cx="554.6" cy="788.6" r="2.4" fill="rgb(124,2,1)"/>
<circle cx="572.5" cy="736.1" r="2.3" fill="rgb(111,1,1)"/>
<circle cx="653.5" cy="770.6" r="2.2" fill="rgb(123,2,1)"/>
<circle cx="574.7" cy="740.8" r="1.9" fill="rgb(96,1,0)"/>
<circle cx="648.4" cy="737.5" r="1.9" fill="rgb(131,2,1)"/>
<circle cx="598.6" cy="726.2" r="2.2" fill="rgb(118,2,1)"/>
<circle cx="680.1" cy="764.6" r="2" fill="rgb(123,2,1)"/>
<circle cx="568.9" cy="763.8" r="2.4" fill="rgb(104,1,1)"/>
<circle cx="567.2" cy="683.1" r="2.6" fill="rgb(131,2,1)"/>
<circle cx="562" cy="748.1" r="2.4" fill="rgb(102,1,0)"/>
<circle cx="638.4" cy="725.4" r="2.6" fill="rgb(131,2,1)"/>
<circle cx="597" cy="666.8" r="2.3" fill="rgb(102,1,0)"/>
<circle cx="663.9" cy="804.1" r="2.3" fill="rgb(100,1,0)"/>
<circle cx="588.4" cy="743.8" r="1.9" fill="rgb(100,1,0)"/>
<circle cx="645.2" cy="769.4" r="2.1" fill="rgb(108,1,1)"/>
<circle cx="573.7" cy="763.4" r="2.2" fill="rgb(129,2,1)"/>
<circle cx="686.2" cy="686.1" r="2.3" fill="rgb(107,1,1)"/>
<circle cx="541" cy="709.7" r="2.2" fill="rgb(123,2,1)"/>
<circle cx="623.1" cy="732.1" r="2.3" fill="rgb(105,1,1)"/>
<circle cx="640.2" cy="736.8" r="2.1" fill="rgb(120,2,1)"/>
<circle cx="699.5" cy="704.6" r="2.3" fill="rgb(102,1,0)"/>
<circle cx="614.2" cy="718" r="1.9" fill="rgb(93,1,0)"/>
<circle cx="690.1" cy="808.3" r="1.8" fill="rgb(119,2,1)"/>
<circle cx="606.9" cy="746.3" r="2.5" fill="rgb(112,1,1)"/>
<circle cx="625" cy="720.3" r="1.8" fill="rgb(102,1,0)"/>
<circle cx="614.9" cy="751.7" r="2" fill="rgb(90,1,0)"/>
<circle cx="648.4" cy="787.4" r="2.3" fill="rgb(125,2,1)"/>
<circle cx="536.2" cy="753.1" r="2.5" fill="rgb(123,2,1)"/>
<circle cx="662.6" cy="722.7" r="2" fill="rgb(120,2,1)"/>
<circle cx="589.1" cy="671" r="2" fill="rgb(102,1,0)"/>
<circle cx="571" cy="769" r="2.4" fill="rgb(87,1,0)"/>
<circle cx="549.2" cy="714.1" r="2.3" fill="rgb(100,1,0)"/>
<circle cx="595.2" cy="775.4" r="2.2" fill="rgb(96,1,0)"/>
<circle cx="532.5" cy="811.3" r="2" fill="rgb(130,2,1)"/>
</g></g>
<line x1="696.9" y1="804.9" x2="727.7" y2="804.9" stroke="#e6e6e6" stroke-width="1.1"/>
<text x="712.3" y="804" font-size="3.6" style="fill:#e0e0e0;stroke:none" text-anchor="middle">100μm</text>
</g>
<g>
<clipPath id="c24"><rect x="737.9" y="654.8" width="210.6" height="158"/></clipPath>
<rect x="737.9" y="654.8" width="210.6" height="158" fill="rgb(3,0,0)"/>
<g clip-path="url(#c24)">
<rect x="737.9" y="654.8" width="210.6" height="158" fill="#f00" filter="url(#nz)" opacity="0"/>
<circle cx="832.7" cy="725.9" r="105.3" fill="url(#hz)" opacity="0.2"/>
<g filter="url(#bl)">
<circle cx="903.8" cy="672" r="3" fill="rgb(255,10,6)"/>
<circle cx="908.1" cy="675.8" r="3" fill="rgb(255,10,6)"/>
<circle cx="850.5" cy="685.4" r="3" fill="rgb(255,10,6)"/>
<circle cx="856.3" cy="687.2" r="3" fill="rgb(255,10,6)"/>
<circle cx="863.9" cy="686.7" r="3" fill="rgb(255,10,6)"/>
<circle cx="816.4" cy="688.4" r="3" fill="rgb(255,10,6)"/>
<circle cx="824.7" cy="694.8" r="3" fill="rgb(255,10,6)"/>
<circle cx="804.5" cy="693.5" r="3" fill="rgb(255,10,6)"/>
<circle cx="809.6" cy="694.2" r="3" fill="rgb(255,10,6)"/>
<circle cx="802" cy="699.8" r="3" fill="rgb(255,10,6)"/>
<circle cx="775.4" cy="698" r="3" fill="rgb(255,10,6)"/>
<circle cx="778" cy="707.4" r="3" fill="rgb(255,10,6)"/>
<circle cx="770.4" cy="711.2" r="3" fill="rgb(255,10,6)"/>
<circle cx="772.9" cy="713.7" r="3" fill="rgb(255,10,6)"/>
<circle cx="767.3" cy="721.3" r="3" fill="rgb(255,10,6)"/>
<circle cx="822.2" cy="711.9" r="3" fill="rgb(255,10,6)"/>
<circle cx="828.5" cy="710.7" r="3" fill="rgb(255,10,6)"/>
<circle cx="872" cy="721.3" r="3" fill="rgb(255,10,6)"/>
<circle cx="867.7" cy="725.1" r="3" fill="rgb(255,10,6)"/>
<circle cx="871.5" cy="729.6" r="3" fill="rgb(255,10,6)"/>
<circle cx="880.3" cy="736.5" r="3" fill="rgb(255,10,6)"/>
<circle cx="886.6" cy="740.2" r="3" fill="rgb(255,10,6)"/>
<circle cx="893.5" cy="742" r="3" fill="rgb(255,10,6)"/>
<circle cx="908.1" cy="732.7" r="3" fill="rgb(255,10,6)"/>
<circle cx="914.4" cy="733.9" r="3" fill="rgb(255,10,6)"/>
<circle cx="919.5" cy="727.6" r="3" fill="rgb(255,10,6)"/>
<circle cx="923.3" cy="723.8" r="3" fill="rgb(255,10,6)"/>
<circle cx="927.6" cy="716.2" r="3" fill="rgb(255,10,6)"/>
<circle cx="929.6" cy="722.6" r="3" fill="rgb(255,10,6)"/>
<circle cx="934.6" cy="726.3" r="3" fill="rgb(255,10,6)"/>
<circle cx="932.1" cy="733.9" r="3" fill="rgb(255,10,6)"/>
<circle cx="928.3" cy="735.2" r="3" fill="rgb(255,10,6)"/>
<circle cx="915.2" cy="742.8" r="3" fill="rgb(255,10,6)"/>
<circle cx="913.2" cy="745.3" r="3" fill="rgb(255,10,6)"/>
<circle cx="817.1" cy="753.6" r="3" fill="rgb(255,10,6)"/>
<circle cx="780.5" cy="766.8" r="3" fill="rgb(255,10,6)"/>
<circle cx="775.4" cy="783.7" r="3" fill="rgb(255,10,6)"/>
<circle cx="789.8" cy="781.9" r="3" fill="rgb(255,10,6)"/>
<circle cx="835.6" cy="787.5" r="3" fill="rgb(255,10,6)"/>
<circle cx="767.9" cy="795.8" r="3" fill="rgb(76,0,0)"/>
<circle cx="786.8" cy="730.1" r="3" fill="rgb(76,0,0)"/>
<circle cx="909.4" cy="751.6" r="3" fill="rgb(76,0,0)"/>
<circle cx="752.7" cy="763" r="3" fill="rgb(76,0,0)"/>
<circle cx="831" cy="669.5" r="3" fill="rgb(76,0,0)"/>
<circle cx="861.4" cy="677.1" r="3" fill="rgb(76,0,0)"/>
<circle cx="740.1" cy="679.6" r="3" fill="rgb(76,0,0)"/>
<circle cx="941" cy="722.6" r="3" fill="rgb(76,0,0)"/>
</g></g>
<line x1="914.8" y1="804.9" x2="945.6" y2="804.9" stroke="#e6e6e6" stroke-width="1.1"/>
<text x="930.2" y="804" font-size="3.6" style="fill:#e0e0e0;stroke:none" text-anchor="middle">100μm</text>
</g>
<g>
<clipPath id="c25"><rect x="956" y="654.8" width="210.6" height="158"/></clipPath>
<rect x="956" y="654.8" width="210.6" height="158" fill="rgb(3,0,0)"/>
<g clip-path="url(#c25)">
<rect x="956" y="654.8" width="210.6" height="158" fill="#f00" filter="url(#nz)" opacity="0"/>
<g filter="url(#bl)">
<circle cx="981.1" cy="659" r="2.9" fill="rgb(233,8,5)"/>
<circle cx="1037.8" cy="799.4" r="2.9" fill="rgb(229,8,4)"/>
<circle cx="1078.5" cy="711.9" r="2.9" fill="rgb(241,8,5)"/>
<circle cx="1145" cy="748.6" r="3" fill="rgb(245,9,5)"/>
<circle cx="993.6" cy="780.2" r="2.8" fill="rgb(248,9,5)"/>
<circle cx="1013" cy="801.3" r="3.2" fill="rgb(235,8,5)"/>
<circle cx="1032.9" cy="690" r="2.9" fill="rgb(240,8,5)"/>
<circle cx="1049.6" cy="704.4" r="3.3" fill="rgb(240,8,5)"/>
<circle cx="1017.6" cy="812.2" r="2.7" fill="rgb(245,9,5)"/>
<circle cx="960.3" cy="737.2" r="3.3" fill="rgb(229,8,4)"/>
<circle cx="980.4" cy="789.7" r="2.8" fill="rgb(243,9,5)"/>
<circle cx="1124" cy="707" r="3.3" fill="rgb(244,9,5)"/>
<circle cx="964.4" cy="793.9" r="2.8" fill="rgb(219,7,4)"/>
<circle cx="1035.2" cy="657.3" r="2.8" fill="rgb(235,8,5)"/>
<circle cx="1134.5" cy="733.1" r="2.9" fill="rgb(230,8,4)"/>
<circle cx="1021.8" cy="687.9" r="3" fill="rgb(223,7,4)"/>
<circle cx="970.5" cy="784.4" r="2.7" fill="rgb(230,8,4)"/>
<circle cx="1120.1" cy="780.4" r="2.7" fill="rgb(230,8,4)"/>
<circle cx="1062.5" cy="677.6" r="3.3" fill="rgb(243,9,5)"/>
<circle cx="1113.9" cy="760.2" r="2.8" fill="rgb(241,8,5)"/>
<circle cx="1060.8" cy="683.9" r="3.1" fill="rgb(233,8,5)"/>
<circle cx="1126.9" cy="748.2" r="2.7" fill="rgb(239,8,5)"/>
<circle cx="1130.4" cy="694.2" r="3.2" fill="rgb(221,7,4)"/>
<circle cx="1042.1" cy="807.5" r="3" fill="rgb(240,8,5)"/>
<circle cx="1044.3" cy="716.2" r="3" fill="rgb(242,9,5)"/>
<circle cx="1081" cy="764.6" r="2.9" fill="rgb(236,8,5)"/>
<circle cx="1016.2" cy="763.6" r="3" fill="rgb(244,9,5)"/>
<circle cx="1085.2" cy="691.2" r="3.1" fill="rgb(235,8,5)"/>
<circle cx="1132.6" cy="810.9" r="2.9" fill="rgb(222,7,4)"/>
<circle cx="1086.5" cy="705.4" r="3.3" fill="rgb(233,8,5)"/>
<circle cx="1097.2" cy="733" r="2.7" fill="rgb(226,7,4)"/>
<circle cx="976" cy="749.4" r="3" fill="rgb(228,8,4)"/>
<circle cx="1150.3" cy="770.7" r="3.3" fill="rgb(242,9,5)"/>
<circle cx="1031.6" cy="703.9" r="3" fill="rgb(228,7,4)"/>
<circle cx="1085.2" cy="734.4" r="2.8" fill="rgb(243,9,5)"/>
<circle cx="982" cy="754" r="3" fill="rgb(247,9,5)"/>
<circle cx="983.5" cy="746.9" r="2.7" fill="rgb(233,8,5)"/>
<circle cx="1095.2" cy="677.7" r="3" fill="rgb(239,8,5)"/>
<circle cx="1041.9" cy="790.5" r="3.2" fill="rgb(224,7,4)"/>
<circle cx="996.8" cy="666.2" r="2.9" fill="rgb(236,8,5)"/>
<circle cx="1099.8" cy="669.6" r="3.3" fill="rgb(237,8,5)"/>
<circle cx="1105" cy="774.8" r="2.8" fill="rgb(226,7,4)"/>
<circle cx="1073.5" cy="700.4" r="3.2" fill="rgb(222,7,4)"/>
<circle cx="1155.5" cy="730.8" r="3.3" fill="rgb(228,8,4)"/>
<circle cx="967.6" cy="732.1" r="3" fill="rgb(236,8,5)"/>
<circle cx="1122.8" cy="788.1" r="2.8" fill="rgb(229,8,4)"/>
<circle cx="1163.6" cy="703.4" r="2.8" fill="rgb(246,9,5)"/>
<circle cx="1020" cy="712.7" r="3.4" fill="rgb(242,9,5)"/>
<circle cx="1118.9" cy="727.5" r="3.1" fill="rgb(244,9,5)"/>
<circle cx="1085.6" cy="683.1" r="2.8" fill="rgb(243,9,5)"/>
<circle cx="1114.5" cy="696.9" r="3.3" fill="rgb(237,8,5)"/>
<circle cx="1012.4" cy="705.3" r="3.1" fill="rgb(221,7,4)"/>
<circle cx="1068.3" cy="715.4" r="3.3" fill="rgb(244,9,5)"/>
<circle cx="1014.5" cy="775.1" r="2.9" fill="rgb(230,8,4)"/>
<circle cx="1070.6" cy="696.1" r="3.2" fill="rgb(233,8,5)"/>
<circle cx="1057.6" cy="698.1" r="3.3" fill="rgb(245,9,5)"/>
<circle cx="976.7" cy="668.2" r="2.8" fill="rgb(246,9,5)"/>
<circle cx="1139.7" cy="732.7" r="2.9" fill="rgb(247,9,5)"/>
<circle cx="1063.4" cy="709.9" r="2.9" fill="rgb(235,8,5)"/>
<circle cx="1019.1" cy="705.3" r="3.1" fill="rgb(226,7,4)"/>
<circle cx="1091.1" cy="754" r="2.9" fill="rgb(231,8,4)"/>
<circle cx="989.8" cy="661.7" r="3" fill="rgb(226,7,4)"/>
<circle cx="993" cy="743.9" r="2.8" fill="rgb(221,7,4)"/>
<circle cx="1056.5" cy="751.6" r="3.1" fill="rgb(247,9,5)"/>
<circle cx="1118.6" cy="690" r="3.4" fill="rgb(242,9,5)"/>
<circle cx="996.6" cy="791.8" r="3" fill="rgb(226,7,4)"/>
<circle cx="993.5" cy="680.4" r="3.1" fill="rgb(222,7,4)"/>
<circle cx="991.2" cy="769.9" r="3" fill="rgb(248,9,5)"/>
<circle cx="1052.6" cy="741.6" r="3.1" fill="rgb(248,9,5)"/>
<circle cx="1007.4" cy="745.1" r="2.8" fill="rgb(244,9,5)"/>
<circle cx="1108.2" cy="677.4" r="3" fill="rgb(234,8,5)"/>
<circle cx="971.7" cy="761.2" r="2.8" fill="rgb(247,9,5)"/>
<circle cx="1167.8" cy="784.4" r="3.2" fill="rgb(248,9,5)"/>
<circle cx="1037.7" cy="760.6" r="3.3" fill="rgb(232,8,4)"/>
<circle cx="966.2" cy="658.2" r="2.9" fill="rgb(221,7,4)"/>
<circle cx="968.8" cy="766.1" r="2.8" fill="rgb(221,7,4)"/>
<circle cx="1123.5" cy="696.5" r="3.3" fill="rgb(239,8,5)"/>
<circle cx="999.6" cy="748.6" r="3.1" fill="rgb(226,7,4)"/>
<circle cx="975.4" cy="777.6" r="3.3" fill="rgb(231,8,4)"/>
<circle cx="1099.8" cy="704.6" r="3.2" fill="rgb(242,9,5)"/>
<circle cx="1117.6" cy="811.3" r="2.9" fill="rgb(237,8,5)"/>
<circle cx="1085.8" cy="748.2" r="3.1" fill="rgb(227,7,4)"/>
<circle cx="988.4" cy="790.8" r="3.2" fill="rgb(231,8,4)"/>
<circle cx="1073.3" cy="709.5" r="3" fill="rgb(242,9,5)"/>
<circle cx="965.1" cy="779.2" r="2.7" fill="rgb(241,8,5)"/>
<circle cx="985.2" cy="723.6" r="2.9" fill="rgb(236,8,5)"/>
<circle cx="1083.9" cy="698.8" r="3.2" fill="rgb(222,7,4)"/>
<circle cx="981" cy="671.7" r="3" fill="rgb(234,8,5)"/>
<circle cx="1121.7" cy="753" r="3.1" fill="rgb(247,9,5)"/>
<circle cx="1055.8" cy="721.2" r="2.9" fill="rgb(220,7,4)"/>
<circle cx="1046.5" cy="760.6" r="3.2" fill="rgb(230,8,4)"/>
<circle cx="990.9" cy="759.4" r="2.9" fill="rgb(229,8,4)"/>
<circle cx="991.2" cy="809" r="3.2" fill="rgb(222,7,4)"/>
<circle cx="1071.6" cy="722.1" r="2.8" fill="rgb(221,7,4)"/>
<circle cx="1001.5" cy="788.2" r="3.1" fill="rgb(228,8,4)"/>
<circle cx="986.1" cy="780.2" r="3" fill="rgb(231,8,4)"/>
<circle cx="971.3" cy="801.2" r="3.3" fill="rgb(234,8,5)"/>
<circle cx="1032.2" cy="799.9" r="3.3" fill="rgb(230,8,4)"/>
<circle cx="1142" cy="788.4" r="3.2" fill="rgb(248,9,5)"/>
<circle cx="1142" cy="775.3" r="3.2" fill="rgb(236,8,5)"/>
<circle cx="985.5" cy="785.7" r="3.2" fill="rgb(247,9,5)"/>
<circle cx="1106.1" cy="795.3" r="3.3" fill="rgb(237,8,5)"/>
<circle cx="1066.5" cy="801.7" r="3.2" fill="rgb(241,8,5)"/>
<circle cx="1104.2" cy="701.6" r="3.3" fill="rgb(227,7,4)"/>
<circle cx="1082.1" cy="785.3" r="3.3" fill="rgb(246,9,5)"/>
<circle cx="1098.3" cy="804.4" r="3.3" fill="rgb(236,8,5)"/>
<circle cx="995.8" cy="801" r="2.7" fill="rgb(235,8,5)"/>
<circle cx="1035.7" cy="682.2" r="2.8" fill="rgb(244,9,5)"/>
<circle cx="977.5" cy="741.3" r="3" fill="rgb(227,7,4)"/>
<circle cx="1076.2" cy="664.7" r="3.2" fill="rgb(234,8,5)"/>
<circle cx="1051.5" cy="773.4" r="2.8" fill="rgb(222,7,4)"/>
<circle cx="970.7" cy="726.5" r="3.1" fill="rgb(223,7,4)"/>
<circle cx="1132.4" cy="705.8" r="3.4" fill="rgb(248,9,5)"/>
<circle cx="1069.6" cy="773.5" r="3.3" fill="rgb(239,8,5)"/>
<circle cx="1126" cy="681.1" r="3.2" fill="rgb(241,8,5)"/>
<circle cx="1060.2" cy="724.9" r="3.3" fill="rgb(230,8,4)"/>
<circle cx="1153" cy="755.1" r="3.1" fill="rgb(232,8,4)"/>
<circle cx="962.9" cy="718" r="3.1" fill="rgb(246,9,5)"/>
<circle cx="1066.5" cy="701.6" r="3.3" fill="rgb(236,8,5)"/>
<circle cx="1055.5" cy="666" r="3.2" fill="rgb(232,8,4)"/>
<circle cx="1055.9" cy="797.8" r="3.1" fill="rgb(227,7,4)"/>
<circle cx="960.2" cy="771.8" r="3" fill="rgb(231,8,4)"/>
<circle cx="1078.6" cy="724.7" r="3.1" fill="rgb(239,8,5)"/>
<circle cx="989.4" cy="737.9" r="2.7" fill="rgb(233,8,5)"/>
<circle cx="1024.3" cy="719.7" r="3.2" fill="rgb(225,7,4)"/>
<circle cx="983.9" cy="693" r="3" fill="rgb(221,7,4)"/>
<circle cx="1118.5" cy="762.5" r="3" fill="rgb(220,7,4)"/>
<circle cx="1058.1" cy="777.7" r="2.8" fill="rgb(229,8,4)"/>
<circle cx="1004.8" cy="692.8" r="2.7" fill="rgb(232,8,4)"/>
<circle cx="1063.6" cy="751.7" r="2.9" fill="rgb(222,7,4)"/>
<circle cx="1051.8" cy="730.7" r="2.9" fill="rgb(230,8,4)"/>
<circle cx="1048.3" cy="766.5" r="3.1" fill="rgb(246,9,5)"/>
<circle cx="1046.4" cy="667.9" r="2.9" fill="rgb(220,7,4)"/>
<circle cx="1156.1" cy="721.8" r="3.2" fill="rgb(240,8,5)"/>
<circle cx="1109.9" cy="693.5" r="3.2" fill="rgb(224,7,4)"/>
<circle cx="1089.3" cy="711.3" r="2.9" fill="rgb(248,9,5)"/>
<circle cx="1110" cy="806.8" r="3.1" fill="rgb(237,8,5)"/>
<circle cx="1160.1" cy="762.3" r="2.9" fill="rgb(231,8,4)"/>
<circle cx="1022.7" cy="799.2" r="3" fill="rgb(247,9,5)"/>
<circle cx="1129.1" cy="738.8" r="3.1" fill="rgb(234,8,5)"/>
<circle cx="1006.9" cy="789.6" r="3.4" fill="rgb(222,7,4)"/>
<circle cx="983.3" cy="732.7" r="2.7" fill="rgb(249,9,5)"/>
<circle cx="1117.3" cy="716.6" r="2.9" fill="rgb(226,7,4)"/>
<circle cx="1124" cy="804.6" r="2.9" fill="rgb(241,8,5)"/>
<circle cx="976.5" cy="706.5" r="3.2" fill="rgb(239,8,5)"/>
<circle cx="1032.5" cy="757.8" r="3.2" fill="rgb(232,8,4)"/>
<circle cx="1126.8" cy="775.8" r="2.7" fill="rgb(232,8,4)"/>
<circle cx="1153.8" cy="708.8" r="2.9" fill="rgb(222,7,4)"/>
<circle cx="1136.6" cy="757.9" r="2.7" fill="rgb(234,8,5)"/>
<circle cx="1016.4" cy="745.3" r="3.4" fill="rgb(248,9,5)"/>
<circle cx="1136.6" cy="784.5" r="3.4" fill="rgb(246,9,5)"/>
<circle cx="960" cy="786.9" r="3" fill="rgb(228,8,4)"/>
<circle cx="1056.7" cy="689.6" r="3.3" fill="rgb(234,8,5)"/>
<circle cx="1062.9" cy="775.4" r="3.2" fill="rgb(219,7,4)"/>
<circle cx="999.2" cy="812.8" r="3" fill="rgb(225,7,4)"/>
<circle cx="980.9" cy="795.7" r="3.2" fill="rgb(248,9,5)"/>
<circle cx="1157.7" cy="797.7" r="2.7" fill="rgb(238,8,5)"/>
<circle cx="1042.1" cy="698.4" r="2.7" fill="rgb(235,8,5)"/>
<circle cx="965.6" cy="713.1" r="2.8" fill="rgb(230,8,4)"/>
<circle cx="967.2" cy="663.6" r="3" fill="rgb(236,8,5)"/>
<circle cx="989.2" cy="690.7" r="2.7" fill="rgb(227,7,4)"/>
<circle cx="1108.4" cy="752.7" r="3.4" fill="rgb(228,8,4)"/>
<circle cx="1155.5" cy="810.5" r="3.1" fill="rgb(230,8,4)"/>
<circle cx="1073.5" cy="680" r="2.7" fill="rgb(239,8,5)"/>
<circle cx="1028.9" cy="713.5" r="2.8" fill="rgb(229,8,4)"/>
<circle cx="1004.5" cy="752.2" r="3" fill="rgb(221,7,4)"/>
<circle cx="963.5" cy="702.8" r="3.2" fill="rgb(223,7,4)"/>
<circle cx="1136.3" cy="800.2" r="3.2" fill="rgb(236,8,5)"/>
<circle cx="1057.3" cy="709.1" r="3.2" fill="rgb(230,8,4)"/>
<circle cx="1164.5" cy="777.4" r="3.2" fill="rgb(245,9,5)"/>
<circle cx="1117.9" cy="748.4" r="3.4" fill="rgb(225,7,4)"/>
<circle cx="1026" cy="708.3" r="2.9" fill="rgb(243,9,5)"/>
<circle cx="970.4" cy="737.4" r="3.1" fill="rgb(225,7,4)"/>
<circle cx="1051.4" cy="752.9" r="3.2" fill="rgb(238,8,5)"/>
<circle cx="1136.8" cy="791" r="2.9" fill="rgb(230,8,4)"/>
<circle cx="1140.9" cy="707.3" r="2.9" fill="rgb(241,8,5)"/>
<circle cx="1110.5" cy="746" r="3.2" fill="rgb(222,7,4)"/>
<circle cx="974.8" cy="658.1" r="2.8" fill="rgb(222,7,4)"/>
<circle cx="1143.5" cy="765.7" r="3.3" fill="rgb(234,8,5)"/>
<circle cx="1011.7" cy="711.5" r="3.3" fill="rgb(246,9,5)"/>
<circle cx="1086.9" cy="663.7" r="3.2" fill="rgb(221,7,4)"/>
<circle cx="974.7" cy="677.2" r="3.3" fill="rgb(223,7,4)"/>
<circle cx="990.3" cy="700.4" r="2.8" fill="rgb(230,8,4)"/>
<circle cx="978.5" cy="763.2" r="3.3" fill="rgb(222,7,4)"/>
<circle cx="1091.9" cy="718.6" r="2.7" fill="rgb(242,9,5)"/>
<circle cx="956.7" cy="803.5" r="2.8" fill="rgb(233,8,5)"/>
<circle cx="1114.2" cy="734.3" r="3.4" fill="rgb(241,8,5)"/>
<circle cx="970.3" cy="706.2" r="2.8" fill="rgb(245,9,5)"/>
<circle cx="1023.5" cy="773.8" r="3.2" fill="rgb(221,7,4)"/>
<circle cx="1103.4" cy="720.3" r="3.1" fill="rgb(244,9,5)"/>
<circle cx="1031.4" cy="743" r="3.4" fill="rgb(243,9,5)"/>
<circle cx="1036.4" cy="790.9" r="3.2" fill="rgb(247,9,5)"/>
<circle cx="1000.2" cy="781.3" r="3.1" fill="rgb(222,7,4)"/>
<circle cx="1043.5" cy="751.4" r="3" fill="rgb(235,8,5)"/>
<circle cx="1095.4" cy="779.6" r="3" fill="rgb(246,9,5)"/>
<circle cx="1163.8" cy="728.9" r="3.1" fill="rgb(235,8,5)"/>
<circle cx="968.9" cy="807.4" r="3.1" fill="rgb(243,9,5)"/>
<circle cx="1111.8" cy="687.3" r="3.2" fill="rgb(229,8,4)"/>
<circle cx="1097.5" cy="691.5" r="3.3" fill="rgb(223,7,4)"/>
<circle cx="1135.9" cy="709.8" r="3.1" fill="rgb(247,9,5)"/>
<circle cx="1118.6" cy="707.8" r="2.9" fill="rgb(227,7,4)"/>
<circle cx="1146.8" cy="684.9" r="3.1" fill="rgb(234,8,5)"/>
<circle cx="1026.8" cy="794.2" r="2.7" fill="rgb(243,9,5)"/>
<circle cx="1165.7" cy="666" r="2.8" fill="rgb(238,8,5)"/>
<circle cx="991.8" cy="796.2" r="3.1" fill="rgb(220,7,4)"/>
<circle cx="1060.9" cy="765.3" r="2.9" fill="rgb(227,7,4)"/>
<circle cx="1091.5" cy="690.6" r="3.1" fill="rgb(224,7,4)"/>
<circle cx="1017.2" cy="729" r="3.3" fill="rgb(245,9,5)"/>
<circle cx="1035.3" cy="768.6" r="3.2" fill="rgb(245,9,5)"/>
<circle cx="1159.8" cy="769.7" r="3" fill="rgb(227,7,4)"/>
<circle cx="1024.2" cy="670.2" r="3.1" fill="rgb(231,8,4)"/>
<circle cx="1143.1" cy="794.7" r="3" fill="rgb(243,9,5)"/>
<circle cx="1104.5" cy="746.8" r="2.7" fill="rgb(229,8,4)"/>
<circle cx="1136.4" cy="684.4" r="3.3" fill="rgb(239,8,5)"/>
<circle cx="1021" cy="790" r="2.7" fill="rgb(231,8,4)"/>
<circle cx="1000.2" cy="711.5" r="2.8" fill="rgb(244,9,5)"/>
<circle cx="989.4" cy="749" r="3.2" fill="rgb(246,9,5)"/>
<circle cx="1092.9" cy="706.3" r="3.2" fill="rgb(241,8,5)"/>
<circle cx="1131.5" cy="802.8" r="3.1" fill="rgb(243,9,5)"/>
<circle cx="992.1" cy="726.9" r="3.2" fill="rgb(246,9,5)"/>
<circle cx="1042.6" cy="705.7" r="3.1" fill="rgb(238,8,5)"/>
<circle cx="1064" cy="667.4" r="2.9" fill="rgb(224,7,4)"/>
<circle cx="1101.2" cy="713.6" r="2.9" fill="rgb(249,9,5)"/>
<circle cx="1030.7" cy="660.2" r="2.8" fill="rgb(232,8,5)"/>
<circle cx="1127.3" cy="785.2" r="2.8" fill="rgb(229,8,4)"/>
<circle cx="1114.2" cy="723.7" r="2.9" fill="rgb(224,7,4)"/>
<circle cx="1059.5" cy="704" r="2.7" fill="rgb(229,8,4)"/>
<circle cx="1023.8" cy="727.6" r="3" fill="rgb(232,8,4)"/>
<circle cx="974" cy="718.7" r="3" fill="rgb(248,9,5)"/>
<circle cx="983.6" cy="801.9" r="3.3" fill="rgb(244,9,5)"/>
<circle cx="1035.2" cy="713.3" r="3.4" fill="rgb(224,7,4)"/>
<circle cx="1052.3" cy="802.4" r="2.9" fill="rgb(240,8,5)"/>
<circle cx="1002.5" cy="805" r="3.2" fill="rgb(244,9,5)"/>
<circle cx="1127.5" cy="798.8" r="3.1" fill="rgb(226,7,4)"/>
<circle cx="1067.8" cy="759.9" r="3" fill="rgb(229,8,4)"/>
<circle cx="1108.4" cy="723.9" r="3.1" fill="rgb(232,8,4)"/>
<circle cx="1054.9" cy="765.1" r="3" fill="rgb(239,8,5)"/>
<circle cx="1061.2" cy="659.2" r="3" fill="rgb(243,9,5)"/>
<circle cx="1000.5" cy="764.9" r="3.2" fill="rgb(241,8,5)"/>
<circle cx="1123.1" cy="735.5" r="3" fill="rgb(229,8,4)"/>
<circle cx="994" cy="813.8" r="3.2" fill="rgb(248,9,5)"/>
<circle cx="986.4" cy="675.8" r="2.8" fill="rgb(224,7,4)"/>
<circle cx="1062.7" cy="758.1" r="2.9" fill="rgb(222,7,4)"/>
<circle cx="1058.7" cy="742.2" r="3" fill="rgb(227,7,4)"/>
<circle cx="1106.2" cy="689.6" r="3.3" fill="rgb(247,9,5)"/>
<circle cx="1012.4" cy="794.8" r="2.8" fill="rgb(229,8,4)"/>
<circle cx="1044.3" cy="779.4" r="3" fill="rgb(234,8,5)"/>
<circle cx="1072.9" cy="741.4" r="2.7" fill="rgb(227,7,4)"/>
<circle cx="957.8" cy="765.2" r="2.9" fill="rgb(220,7,4)"/>
<circle cx="1085.3" cy="789.6" r="3" fill="rgb(232,8,4)"/>
<circle cx="1047" cy="796" r="2.8" fill="rgb(227,7,4)"/>
<circle cx="1079.1" cy="731.4" r="2.7" fill="rgb(236,8,5)"/>
<circle cx="985.5" cy="668.2" r="2.7" fill="rgb(247,9,5)"/>
<circle cx="1138.4" cy="690.6" r="2.8" fill="rgb(232,8,4)"/>
<circle cx="1097.6" cy="699.8" r="3.2" fill="rgb(246,9,5)"/>
<circle cx="1114.9" cy="802.9" r="3.2" fill="rgb(235,8,5)"/>
<circle cx="1121.9" cy="773.3" r="2.7" fill="rgb(249,9,5)"/>
<circle cx="1143.4" cy="738.8" r="3.3" fill="rgb(220,7,4)"/>
<circle cx="1133.2" cy="772.4" r="3.1" fill="rgb(233,8,5)"/>
<circle cx="1006.9" cy="703.5" r="2.9" fill="rgb(243,9,5)"/>
<circle cx="1022.7" cy="733.3" r="3.3" fill="rgb(243,9,5)"/>
<circle cx="1167.1" cy="748.8" r="2.7" fill="rgb(226,7,4)"/>
<circle cx="993.8" cy="719.4" r="3.4" fill="rgb(240,8,5)"/>
<circle cx="1008" cy="660.8" r="3" fill="rgb(234,8,5)"/>
<circle cx="1109.3" cy="714.1" r="3.3" fill="rgb(232,8,4)"/>
<circle cx="973.6" cy="731.3" r="2.8" fill="rgb(233,8,5)"/>
<circle cx="1135.9" cy="696.7" r="3.2" fill="rgb(247,9,5)"/>
<circle cx="1150.8" cy="802.4" r="3.2" fill="rgb(229,8,4)"/>
<circle cx="1088.1" cy="672.1" r="3.2" fill="rgb(238,8,5)"/>
<circle cx="1151.4" cy="735.6" r="2.9" fill="rgb(246,9,5)"/>
<circle cx="1089.9" cy="766.8" r="3.3" fill="rgb(223,7,4)"/>
<circle cx="1076.4" cy="694.8" r="3" fill="rgb(238,8,5)"/>
<circle cx="1158.1" cy="738.2" r="3.1" fill="rgb(241,8,5)"/>
<circle cx="1143.9" cy="756.7" r="2.9" fill="rgb(242,9,5)"/>
<circle cx="1075.8" cy="685.9" r="3.1" fill="rgb(221,7,4)"/>
<circle cx="1133.9" cy="725.6" r="2.7" fill="rgb(246,9,5)"/>
<circle cx="957.5" cy="661.3" r="2.8" fill="rgb(239,8,5)"/>
<circle cx="954.1" cy="778.3" r="2.7" fill="rgb(226,7,4)"/>
<circle cx="1128.1" cy="731.3" r="3" fill="rgb(230,8,4)"/>
<circle cx="1131.3" cy="716.9" r="3.1" fill="rgb(231,8,4)"/>
<circle cx="1085.3" cy="715.6" r="2.9" fill="rgb(233,8,5)"/>
<circle cx="965.1" cy="697.7" r="3" fill="rgb(249,9,5)"/>
<circle cx="1122.9" cy="714" r="3.2" fill="rgb(240,8,5)"/>
<circle cx="956.6" cy="808.8" r="2.9" fill="rgb(229,8,4)"/>
<circle cx="955.9" cy="758.5" r="3.2" fill="rgb(223,7,4)"/>
<circle cx="961.9" cy="724.9" r="3.4" fill="rgb(248,9,5)"/>
<circle cx="1007.8" cy="800.1" r="3.4" fill="rgb(247,9,5)"/>
<circle cx="1077.9" cy="654.7" r="3" fill="rgb(228,8,4)"/>
<circle cx="1102.1" cy="695.8" r="2.8" fill="rgb(237,8,5)"/>
<circle cx="1004.8" cy="737.8" r="2.9" fill="rgb(238,8,5)"/>
</g></g>
<line x1="1132.9" y1="804.9" x2="1163.7" y2="804.9" stroke="#e6e6e6" stroke-width="1.1"/>
<text x="1148.3" y="804" font-size="3.6" style="fill:#e0e0e0;stroke:none" text-anchor="middle">100μm</text>
</g>
<g>
<clipPath id="c26"><rect x="520" y="819.5" width="210.6" height="157.3"/></clipPath>
<rect x="520" y="819.5" width="210.6" height="157.3" fill="rgb(3,0,0)"/>
<g clip-path="url(#c26)">
<rect x="520" y="819.5" width="210.6" height="157.3" fill="#f00" filter="url(#nz)" opacity="0.1"/>
<rect x="520" y="819.5" width="210.6" height="157.3" fill="url(#th)" opacity="0"/>
<circle cx="625.3" cy="851" r="147.4" fill="url(#hz)" opacity="0.1"/>
<g filter="url(#b2)">
<ellipse cx="585.6" cy="876.9" rx="2.8" ry="2.3" transform="rotate(117 585.6 876.9)" fill="rgb(78,0,0)"/>
<ellipse cx="683.5" cy="939.7" rx="2.5" ry="2.3" transform="rotate(43 683.5 939.7)" fill="rgb(82,1,0)"/>
<ellipse cx="663.9" cy="898.6" rx="2.3" ry="1.8" transform="rotate(89 663.9 898.6)" fill="rgb(62,0,0)"/>
<ellipse cx="619.1" cy="916.8" rx="2.4" ry="1.7" transform="rotate(38 619.1 916.8)" fill="rgb(81,1,0)"/>
<ellipse cx="647.4" cy="929.5" rx="3.3" ry="2.2" transform="rotate(111 647.4 929.5)" fill="rgb(58,0,0)"/>
<ellipse cx="609.6" cy="921.5" rx="3.2" ry="2.8" transform="rotate(177 609.6 921.5)" fill="rgb(70,0,0)"/>
<ellipse cx="724" cy="865.7" rx="2" ry="2.1" transform="rotate(37 724 865.7)" fill="rgb(68,0,0)"/>
<ellipse cx="583.9" cy="867" rx="2" ry="1.9" transform="rotate(35 583.9 867)" fill="rgb(56,0,0)"/>
<ellipse cx="630.3" cy="834.1" rx="3" ry="2.3" transform="rotate(46 630.3 834.1)" fill="rgb(78,0,0)"/>
<ellipse cx="649" cy="935.8" rx="3.2" ry="3" transform="rotate(104 649 935.8)" fill="rgb(62,0,0)"/>
<ellipse cx="590.2" cy="871.2" rx="2.5" ry="2.6" transform="rotate(10 590.2 871.2)" fill="rgb(56,0,0)"/>
<ellipse cx="578.1" cy="870.9" rx="2.2" ry="2" transform="rotate(41 578.1 870.9)" fill="rgb(72,0,0)"/>
<ellipse cx="685.1" cy="967.7" rx="2.7" ry="2.2" transform="rotate(5 685.1 967.7)" fill="rgb(62,0,0)"/>
<ellipse cx="553.4" cy="843.5" rx="2.9" ry="2.3" transform="rotate(2 553.4 843.5)" fill="rgb(77,0,0)"/>
<ellipse cx="593.8" cy="881.5" rx="2.7" ry="2.4" transform="rotate(163 593.8 881.5)" fill="rgb(57,0,0)"/>
<ellipse cx="615.3" cy="911.6" rx="3.8" ry="3" transform="rotate(12 615.3 911.6)" fill="rgb(77,0,0)"/>
<ellipse cx="548.9" cy="846" rx="2.8" ry="2.4" transform="rotate(124 548.9 846)" fill="rgb(73,0,0)"/>
<ellipse cx="609.1" cy="913" rx="2.7" ry="2.1" transform="rotate(34 609.1 913)" fill="rgb(66,0,0)"/>
<ellipse cx="610.5" cy="865.5" rx="2.5" ry="2" transform="rotate(146 610.5 865.5)" fill="rgb(82,1,0)"/>
<ellipse cx="590" cy="863.3" rx="2.9" ry="2.3" transform="rotate(124 590 863.3)" fill="rgb(65,0,0)"/>
<ellipse cx="723.4" cy="888.7" rx="2.9" ry="2.3" transform="rotate(63 723.4 888.7)" fill="rgb(70,0,0)"/>
<ellipse cx="568.3" cy="854" rx="2" ry="2.2" transform="rotate(84 568.3 854)" fill="rgb(69,0,0)"/>
</g></g>
<line x1="696.9" y1="968.9" x2="727.7" y2="968.9" stroke="#e6e6e6" stroke-width="1.1"/>
<text x="712.3" y="968" font-size="3.6" style="fill:#e0e0e0;stroke:none" text-anchor="middle">100μm</text>
</g>
<g>
<clipPath id="c27"><rect x="737.9" y="819.5" width="210.6" height="157.3"/></clipPath>
<rect x="737.9" y="819.5" width="210.6" height="157.3" fill="rgb(3,0,0)"/>
<g clip-path="url(#c27)">
<rect x="737.9" y="819.5" width="210.6" height="157.3" fill="#f00" filter="url(#nz)" opacity="0.1"/>
<rect x="737.9" y="819.5" width="210.6" height="157.3" fill="url(#th)" opacity="0"/>
<circle cx="843.2" cy="866.7" r="147.4" fill="url(#hz)" opacity="0.1"/>
<circle cx="784.2" cy="851" r="16.8" fill="url(#hz)" opacity="0.3"/>
<g filter="url(#b2)">
<ellipse cx="901.4" cy="951.4" rx="2.5" ry="2.7" transform="rotate(146 901.4 951.4)" fill="rgb(111,1,1)"/>
<ellipse cx="869.6" cy="940.1" rx="2.7" ry="2.5" transform="rotate(96 869.6 940.1)" fill="rgb(79,0,0)"/>
<ellipse cx="811.5" cy="861.6" rx="2.7" ry="2.2" transform="rotate(131 811.5 861.6)" fill="rgb(87,1,0)"/>
<ellipse cx="774.3" cy="941.3" rx="2.4" ry="1.9" transform="rotate(75 774.3 941.3)" fill="rgb(98,1,0)"/>
<ellipse cx="870.4" cy="932.9" rx="2.6" ry="2.8" transform="rotate(174 870.4 932.9)" fill="rgb(94,1,0)"/>
<ellipse cx="760.7" cy="836.9" rx="2.8" ry="2.8" transform="rotate(33 760.7 836.9)" fill="rgb(109,1,1)"/>
<ellipse cx="874.2" cy="886.2" rx="3.1" ry="2.9" transform="rotate(34 874.2 886.2)" fill="rgb(79,0,0)"/>
<ellipse cx="884.1" cy="880" rx="3" ry="2.6" transform="rotate(14 884.1 880)" fill="rgb(113,1,1)"/>
<ellipse cx="806.5" cy="861.2" rx="3.5" ry="2.9" transform="rotate(48 806.5 861.2)" fill="rgb(81,1,0)"/>
<ellipse cx="834.1" cy="883.5" rx="3.4" ry="2.7" transform="rotate(87 834.1 883.5)" fill="rgb(111,1,1)"/>
<ellipse cx="881.4" cy="866.5" rx="3.2" ry="2" transform="rotate(50 881.4 866.5)" fill="rgb(101,1,0)"/>
<ellipse cx="884.2" cy="888.6" rx="3" ry="2.7" transform="rotate(150 884.2 888.6)" fill="rgb(99,1,0)"/>
<ellipse cx="754" cy="840.2" rx="2.7" ry="2.5" transform="rotate(39 754 840.2)" fill="rgb(91,1,0)"/>
<ellipse cx="754.6" cy="846.4" rx="2.6" ry="2.1" transform="rotate(78 754.6 846.4)" fill="rgb(86,1,0)"/>
<ellipse cx="832.8" cy="889.3" rx="3.1" ry="2" transform="rotate(91 832.8 889.3)" fill="rgb(101,1,0)"/>
<ellipse cx="777.3" cy="950.1" rx="2.3" ry="2.2" transform="rotate(124 777.3 950.1)" fill="rgb(105,1,1)"/>
<ellipse cx="873.1" cy="880.1" rx="3.3" ry="2.4" transform="rotate(30 873.1 880.1)" fill="rgb(94,1,0)"/>
<ellipse cx="926.5" cy="952.3" rx="2.9" ry="2.7" transform="rotate(98 926.5 952.3)" fill="rgb(94,1,0)"/>
<ellipse cx="921.5" cy="866.6" rx="2.9" ry="2.7" transform="rotate(121 921.5 866.6)" fill="rgb(102,1,0)"/>
<ellipse cx="830.9" cy="897.9" rx="3" ry="2.4" transform="rotate(44 830.9 897.9)" fill="rgb(109,1,1)"/>
<ellipse cx="852.9" cy="925.4" rx="3" ry="2.7" transform="rotate(105 852.9 925.4)" fill="rgb(112,1,1)"/>
<ellipse cx="747.1" cy="841.1" rx="3.2" ry="2.8" transform="rotate(47 747.1 841.1)" fill="rgb(96,1,0)"/>
<ellipse cx="880" cy="872.7" rx="3.1" ry="2.9" transform="rotate(165 880 872.7)" fill="rgb(105,1,1)"/>
<ellipse cx="841.8" cy="901" rx="2.8" ry="2.4" transform="rotate(37 841.8 901)" fill="rgb(91,1,0)"/>
<ellipse cx="750.3" cy="833" rx="2.9" ry="1.8" transform="rotate(145 750.3 833)" fill="rgb(80,1,0)"/>
<ellipse cx="866.8" cy="872.1" rx="2.6" ry="2.5" transform="rotate(173 866.8 872.1)" fill="rgb(94,1,0)"/>
<ellipse cx="877" cy="854.1" rx="2.6" ry="1.9" transform="rotate(62 877 854.1)" fill="rgb(91,1,0)"/>
<ellipse cx="847.5" cy="909.9" rx="2.9" ry="2.7" transform="rotate(0 847.5 909.9)" fill="rgb(92,1,0)"/>
<ellipse cx="830.6" cy="908" rx="2.6" ry="2.7" transform="rotate(129 830.6 908)" fill="rgb(90,1,0)"/>
<ellipse cx="838.5" cy="868.4" rx="2.5" ry="2.4" transform="rotate(136 838.5 868.4)" fill="rgb(97,1,0)"/>
<ellipse cx="838.1" cy="891.7" rx="2.3" ry="2.1" transform="rotate(131 838.1 891.7)" fill="rgb(101,1,0)"/>
<ellipse cx="840.7" cy="877.3" rx="3" ry="2.2" transform="rotate(144 840.7 877.3)" fill="rgb(79,0,0)"/>
<ellipse cx="921.4" cy="851.3" rx="2.6" ry="2.1" transform="rotate(127 921.4 851.3)" fill="rgb(101,1,0)"/>
<ellipse cx="926.6" cy="868.6" rx="3.3" ry="3" transform="rotate(156 926.6 868.6)" fill="rgb(74,0,0)"/>
<ellipse cx="845.6" cy="921.5" rx="3.2" ry="2.2" transform="rotate(61 845.6 921.5)" fill="rgb(100,1,0)"/>
<ellipse cx="867.9" cy="854.7" rx="2" ry="1.8" transform="rotate(119 867.9 854.7)" fill="rgb(84,1,0)"/>
<ellipse cx="752.9" cy="851.9" rx="2.5" ry="2" transform="rotate(29 752.9 851.9)" fill="rgb(82,1,0)"/>
<ellipse cx="779" cy="938" rx="2.4" ry="1.8" transform="rotate(40 779 938)" fill="rgb(110,1,1)"/>
<ellipse cx="765.4" cy="937.8" rx="2.8" ry="2.1" transform="rotate(52 765.4 937.8)" fill="rgb(112,1,1)"/>
<ellipse cx="874.5" cy="859.5" rx="3.1" ry="2.5" transform="rotate(72 874.5 859.5)" fill="rgb(89,1,0)"/>
</g></g>
<line x1="914.8" y1="968.9" x2="945.6" y2="968.9" stroke="#e6e6e6" stroke-width="1.1"/>
<text x="930.2" y="968" font-size="3.6" style="fill:#e0e0e0;stroke:none" text-anchor="middle">100μm</text>
</g>
<g>
<clipPath id="c28"><rect x="956" y="819.5" width="210.6" height="157.3"/></clipPath>
<rect x="956" y="819.5" width="210.6" height="157.3" fill="rgb(3,0,0)"/>
<g clip-path="url(#c28)">
<rect x="956" y="819.5" width="210.6" height="157.3" fill="#f00" filter="url(#nz)" opacity="0.1"/>
<rect x="956" y="819.5" width="210.6" height="157.3" fill="url(#th)" opacity="0"/>
<circle cx="1061.3" cy="890.3" r="126.4" fill="url(#hz)" opacity="0.1"/>
<circle cx="1044.5" cy="882.4" r="25.3" fill="url(#hz)" opacity="0.2"/>
<circle cx="1044.5" cy="953.2" r="25.3" fill="url(#hz)" opacity="0.2"/>
<circle cx="987.6" cy="839.9" r="16.8" fill="url(#hz)" opacity="0.2"/>
<g filter="url(#b2)">
<ellipse cx="1038" cy="874.8" rx="2.1" ry="2.1" transform="rotate(4 1038 874.8)" fill="rgb(91,1,0)"/>
<ellipse cx="1038.1" cy="958.1" rx="2" ry="2.2" transform="rotate(102 1038.1 958.1)" fill="rgb(66,0,0)"/>
<ellipse cx="1130" cy="896.2" rx="2.4" ry="2.3" transform="rotate(39 1130 896.2)" fill="rgb(71,0,0)"/>
<ellipse cx="1006.5" cy="834.4" rx="2.6" ry="2.1" transform="rotate(6 1006.5 834.4)" fill="rgb(77,0,0)"/>
<ellipse cx="1050" cy="952.7" rx="2.6" ry="2.9" transform="rotate(73 1050 952.7)" fill="rgb(87,1,0)"/>
<ellipse cx="1077.8" cy="884" rx="2.2" ry="2.1" transform="rotate(122 1077.8 884)" fill="rgb(84,1,0)"/>
<ellipse cx="1118.4" cy="919.1" rx="2.9" ry="2.8" transform="rotate(82 1118.4 919.1)" fill="rgb(80,1,0)"/>
<ellipse cx="1088.1" cy="895.8" rx="2.6" ry="2.1" transform="rotate(109 1088.1 895.8)" fill="rgb(84,1,0)"/>
<ellipse cx="1049.4" cy="965" rx="2.8" ry="2.6" transform="rotate(151 1049.4 965)" fill="rgb(71,0,0)"/>
<ellipse cx="1116.8" cy="946.4" rx="3.3" ry="2.5" transform="rotate(155 1116.8 946.4)" fill="rgb(88,1,0)"/>
<ellipse cx="989.4" cy="843.4" rx="2.8" ry="2.3" transform="rotate(176 989.4 843.4)" fill="rgb(82,1,0)"/>
<ellipse cx="1039.5" cy="867.1" rx="2.2" ry="2" transform="rotate(31 1039.5 867.1)" fill="rgb(67,0,0)"/>
<ellipse cx="997.6" cy="963.2" rx="2.8" ry="2" transform="rotate(122 997.6 963.2)" fill="rgb(68,0,0)"/>
<ellipse cx="988.1" cy="833.6" rx="2.9" ry="2.7" transform="rotate(139 988.1 833.6)" fill="rgb(72,0,0)"/>
<ellipse cx="1122.3" cy="875.2" rx="3.2" ry="2.4" transform="rotate(42 1122.3 875.2)" fill="rgb(68,0,0)"/>
<ellipse cx="1030.4" cy="962.6" rx="2.5" ry="2.4" transform="rotate(98 1030.4 962.6)" fill="rgb(81,1,0)"/>
<ellipse cx="1122" cy="899.1" rx="2" ry="2.1" transform="rotate(43 1122 899.1)" fill="rgb(79,0,0)"/>
<ellipse cx="1031.1" cy="888.1" rx="2.7" ry="2.1" transform="rotate(169 1031.1 888.1)" fill="rgb(64,0,0)"/>
<ellipse cx="1117.6" cy="877.1" rx="2.6" ry="2.2" transform="rotate(23 1117.6 877.1)" fill="rgb(82,1,0)"/>
<ellipse cx="1163.4" cy="877" rx="1.8" ry="2" transform="rotate(169 1163.4 877)" fill="rgb(78,0,0)"/>
<ellipse cx="1046.4" cy="884.8" rx="2.5" ry="2.5" transform="rotate(46 1046.4 884.8)" fill="rgb(85,1,0)"/>
<ellipse cx="985.4" cy="847.2" rx="3.5" ry="2.7" transform="rotate(107 985.4 847.2)" fill="rgb(60,0,0)"/>
<ellipse cx="1045" cy="871" rx="2.2" ry="2.3" transform="rotate(69 1045 871)" fill="rgb(62,0,0)"/>
<ellipse cx="1056" cy="836.5" rx="2.3" ry="2" transform="rotate(107 1056 836.5)" fill="rgb(81,1,0)"/>
<ellipse cx="1071.2" cy="834.2" rx="2.4" ry="2" transform="rotate(113 1071.2 834.2)" fill="rgb(62,0,0)"/>
<ellipse cx="1041.4" cy="941.2" rx="2.1" ry="1.8" transform="rotate(106 1041.4 941.2)" fill="rgb(65,0,0)"/>
<ellipse cx="1033.1" cy="945.3" rx="2.5" ry="2.6" transform="rotate(111 1033.1 945.3)" fill="rgb(73,0,0)"/>
<ellipse cx="1141.5" cy="876.4" rx="3.1" ry="2" transform="rotate(2 1141.5 876.4)" fill="rgb(73,0,0)"/>
<ellipse cx="1035.3" cy="963.1" rx="3" ry="2.1" transform="rotate(27 1035.3 963.1)" fill="rgb(83,1,0)"/>
<ellipse cx="1020.1" cy="949.7" rx="3.1" ry="2.1" transform="rotate(85 1020.1 949.7)" fill="rgb(62,0,0)"/>
<ellipse cx="1044.5" cy="861.8" rx="3" ry="2.5" transform="rotate(65 1044.5 861.8)" fill="rgb(65,0,0)"/>
<ellipse cx="1049.3" cy="879.8" rx="2.7" ry="2.3" transform="rotate(24 1049.3 879.8)" fill="rgb(66,0,0)"/>
<ellipse cx="1062.5" cy="962.4" rx="2.8" ry="2.5" transform="rotate(135 1062.5 962.4)" fill="rgb(80,0,0)"/>
<ellipse cx="1122" cy="958.5" rx="2.7" ry="2.2" transform="rotate(13 1122 958.5)" fill="rgb(67,0,0)"/>
<ellipse cx="1083.6" cy="899.2" rx="2.2" ry="2.5" transform="rotate(84 1083.6 899.2)" fill="rgb(81,1,0)"/>
<ellipse cx="1041.3" cy="882.5" rx="2.5" ry="2" transform="rotate(105 1041.3 882.5)" fill="rgb(70,0,0)"/>
<ellipse cx="1043.9" cy="893.1" rx="2.9" ry="2.1" transform="rotate(62 1043.9 893.1)" fill="rgb(69,0,0)"/>
<ellipse cx="1081" cy="871" rx="2.1" ry="1.9" transform="rotate(118 1081 871)" fill="rgb(68,0,0)"/>
<ellipse cx="1038.3" cy="948.4" rx="2.5" ry="2.6" transform="rotate(16 1038.3 948.4)" fill="rgb(78,0,0)"/>
<ellipse cx="1081" cy="913.3" rx="3.2" ry="2.3" transform="rotate(38 1081 913.3)" fill="rgb(88,1,0)"/>
<ellipse cx="1038.9" cy="969.5" rx="2.6" ry="2.2" transform="rotate(43 1038.9 969.5)" fill="rgb(86,1,0)"/>
<ellipse cx="1075.7" cy="868.1" rx="3" ry="2.5" transform="rotate(20 1075.7 868.1)" fill="rgb(78,0,0)"/>
<ellipse cx="1023" cy="839.1" rx="2.1" ry="2" transform="rotate(126 1023 839.1)" fill="rgb(77,0,0)"/>
<ellipse cx="1033.7" cy="930.4" rx="2.9" ry="2.4" transform="rotate(169 1033.7 930.4)" fill="rgb(68,0,0)"/>
<ellipse cx="1047.7" cy="957.2" rx="3.1" ry="2.4" transform="rotate(114 1047.7 957.2)" fill="rgb(82,1,0)"/>
<ellipse cx="1050.2" cy="870.5" rx="2.4" ry="2" transform="rotate(159 1050.2 870.5)" fill="rgb(67,0,0)"/>
<ellipse cx="1125.3" cy="904.1" rx="1.9" ry="2" transform="rotate(12 1125.3 904.1)" fill="rgb(82,1,0)"/>
<ellipse cx="1090.2" cy="823.6" rx="2.9" ry="2.5" transform="rotate(9 1090.2 823.6)" fill="rgb(68,0,0)"/>
<ellipse cx="1055.1" cy="887.6" rx="2" ry="1.7" transform="rotate(48 1055.1 887.6)" fill="rgb(78,0,0)"/>
<ellipse cx="1062.4" cy="875.5" rx="2.5" ry="1.9" transform="rotate(152 1062.4 875.5)" fill="rgb(63,0,0)"/>
<ellipse cx="1084.2" cy="931.1" rx="2.1" ry="1.7" transform="rotate(108 1084.2 931.1)" fill="rgb(62,0,0)"/>
<ellipse cx="1087.2" cy="820.9" rx="2.4" ry="1.7" transform="rotate(145 1087.2 820.9)" fill="rgb(60,0,0)"/>
<ellipse cx="1043.1" cy="954.2" rx="2.5" ry="2.7" transform="rotate(161 1043.1 954.2)" fill="rgb(80,1,0)"/>
<ellipse cx="1040.4" cy="902.5" rx="2.8" ry="2.2" transform="rotate(15 1040.4 902.5)" fill="rgb(91,1,0)"/>
<ellipse cx="1123.8" cy="923.2" rx="2.7" ry="2.5" transform="rotate(8 1123.8 923.2)" fill="rgb(70,0,0)"/>
<ellipse cx="1027.6" cy="943.2" rx="2.7" ry="1.9" transform="rotate(23 1027.6 943.2)" fill="rgb(91,1,0)"/>
<ellipse cx="983" cy="833.1" rx="2.4" ry="2.5" transform="rotate(64 983 833.1)" fill="rgb(74,0,0)"/>
<ellipse cx="978.5" cy="921.9" rx="2" ry="2" transform="rotate(135 978.5 921.9)" fill="rgb(78,0,0)"/>
<ellipse cx="1091.5" cy="881.7" rx="2.5" ry="2.4" transform="rotate(136 1091.5 881.7)" fill="rgb(61,0,0)"/>
<ellipse cx="1020" cy="821.9" rx="2.7" ry="2.3" transform="rotate(95 1020 821.9)" fill="rgb(71,0,0)"/>
<ellipse cx="1057.5" cy="840.4" rx="2.7" ry="2.2" transform="rotate(65 1057.5 840.4)" fill="rgb(81,1,0)"/>
<ellipse cx="1056.1" cy="965.3" rx="2.2" ry="2.4" transform="rotate(25 1056.1 965.3)" fill="rgb(67,0,0)"/>
<ellipse cx="1133.3" cy="873.2" rx="1.8" ry="1.9" transform="rotate(120 1133.3 873.2)" fill="rgb(62,0,0)"/>
<ellipse cx="1116.3" cy="872.5" rx="1.9" ry="1.9" transform="rotate(140 1116.3 872.5)" fill="rgb(65,0,0)"/>
<ellipse cx="1052.9" cy="828.1" rx="2.6" ry="2.4" transform="rotate(3 1052.9 828.1)" fill="rgb(63,0,0)"/>
<ellipse cx="1018.6" cy="874.2" rx="2.5" ry="2.4" transform="rotate(178 1018.6 874.2)" fill="rgb(69,0,0)"/>
<ellipse cx="1159.8" cy="918.9" rx="2.3" ry="1.9" transform="rotate(146 1159.8 918.9)" fill="rgb(71,0,0)"/>
<ellipse cx="1100.5" cy="914" rx="2.2" ry="1.8" transform="rotate(136 1100.5 914)" fill="rgb(68,0,0)"/>
<ellipse cx="1123.1" cy="884.5" rx="2.7" ry="2.2" transform="rotate(79 1123.1 884.5)" fill="rgb(71,0,0)"/>
<ellipse cx="978.5" cy="843.5" rx="2.9" ry="2.7" transform="rotate(19 978.5 843.5)" fill="rgb(61,0,0)"/>
<ellipse cx="1139.3" cy="888.6" rx="2.4" ry="2" transform="rotate(45 1139.3 888.6)" fill="rgb(67,0,0)"/>
<ellipse cx="1031.8" cy="966.7" rx="2.1" ry="1.9" transform="rotate(43 1031.8 966.7)" fill="rgb(69,0,0)"/>
<ellipse cx="1054.1" cy="880.1" rx="2.8" ry="2.3" transform="rotate(67 1054.1 880.1)" fill="rgb(68,0,0)"/>
<ellipse cx="1043.4" cy="959.8" rx="2.7" ry="2.7" transform="rotate(22 1043.4 959.8)" fill="rgb(90,1,0)"/>
<ellipse cx="982.3" cy="901.9" rx="2.4" ry="2" transform="rotate(114 982.3 901.9)" fill="rgb(81,1,0)"/>
<ellipse cx="1122.6" cy="889.2" rx="1.8" ry="2" transform="rotate(56 1122.6 889.2)" fill="rgb(62,0,0)"/>
<ellipse cx="1066.4" cy="885.6" rx="2.2" ry="2.3" transform="rotate(76 1066.4 885.6)" fill="rgb(72,0,0)"/>
<ellipse cx="1048.1" cy="874.7" rx="2.6" ry="2.2" transform="rotate(172 1048.1 874.7)" fill="rgb(76,0,0)"/>
<ellipse cx="1054.2" cy="859.8" rx="2.8" ry="2.1" transform="rotate(7 1054.2 859.8)" fill="rgb(84,1,0)"/>
<ellipse cx="1090.3" cy="918.7" rx="3.3" ry="2.4" transform="rotate(16 1090.3 918.7)" fill="rgb(75,0,0)"/>
<ellipse cx="1114.9" cy="894.2" rx="3.3" ry="2.2" transform="rotate(179 1114.9 894.2)" fill="rgb(91,1,0)"/>
<ellipse cx="1076.5" cy="890.4" rx="2.4" ry="2.1" transform="rotate(40 1076.5 890.4)" fill="rgb(69,0,0)"/>
<ellipse cx="1046.4" cy="945.7" rx="2.2" ry="2" transform="rotate(91 1046.4 945.7)" fill="rgb(85,1,0)"/>
<ellipse cx="1021.6" cy="916" rx="1.9" ry="2.1" transform="rotate(3 1021.6 916)" fill="rgb(79,0,0)"/>
<ellipse cx="1103.4" cy="920.4" rx="2.1" ry="2" transform="rotate(119 1103.4 920.4)" fill="rgb(84,1,0)"/>
<ellipse cx="1164.4" cy="828.8" rx="2.8" ry="2.3" transform="rotate(163 1164.4 828.8)" fill="rgb(72,0,0)"/>
<ellipse cx="1035.9" cy="880.1" rx="3" ry="2.7" transform="rotate(114 1035.9 880.1)" fill="rgb(71,0,0)"/>
<ellipse cx="1021.6" cy="935.7" rx="2.4" ry="2.1" transform="rotate(44 1021.6 935.7)" fill="rgb(84,1,0)"/>
<ellipse cx="1090.9" cy="905.9" rx="2" ry="2" transform="rotate(54 1090.9 905.9)" fill="rgb(74,0,0)"/>
<ellipse cx="1073.6" cy="902.8" rx="2" ry="2.2" transform="rotate(25 1073.6 902.8)" fill="rgb(64,0,0)"/>
<ellipse cx="1151.4" cy="868.5" rx="1.9" ry="1.8" transform="rotate(142 1151.4 868.5)" fill="rgb(61,0,0)"/>
<ellipse cx="1052.7" cy="956.7" rx="2.2" ry="1.9" transform="rotate(112 1052.7 956.7)" fill="rgb(63,0,0)"/>
<ellipse cx="1038.8" cy="858.4" rx="2.6" ry="2.2" transform="rotate(31 1038.8 858.4)" fill="rgb(86,1,0)"/>
<ellipse cx="1081.7" cy="925" rx="2.1" ry="2.2" transform="rotate(111 1081.7 925)" fill="rgb(63,0,0)"/>
<ellipse cx="1061.9" cy="840.7" rx="3.4" ry="2.5" transform="rotate(83 1061.9 840.7)" fill="rgb(62,0,0)"/>
<ellipse cx="1145.8" cy="865.3" rx="2.3" ry="2" transform="rotate(98 1145.8 865.3)" fill="rgb(77,0,0)"/>
<ellipse cx="1048.2" cy="866.3" rx="2.9" ry="2.3" transform="rotate(122 1048.2 866.3)" fill="rgb(76,0,0)"/>
<ellipse cx="1045.7" cy="940.1" rx="3.3" ry="2.4" transform="rotate(68 1045.7 940.1)" fill="rgb(60,0,0)"/>
<ellipse cx="995.4" cy="838.8" rx="2.8" ry="2" transform="rotate(173 995.4 838.8)" fill="rgb(78,0,0)"/>
<ellipse cx="1092.1" cy="849.5" rx="2.3" ry="2.1" transform="rotate(12 1092.1 849.5)" fill="rgb(68,0,0)"/>
<ellipse cx="1043" cy="929.6" rx="3.5" ry="2.3" transform="rotate(149 1043 929.6)" fill="rgb(66,0,0)"/>
<ellipse cx="1044.4" cy="904.6" rx="2.6" ry="2" transform="rotate(150 1044.4 904.6)" fill="rgb(77,0,0)"/>
<ellipse cx="1015.6" cy="948.5" rx="2.4" ry="2" transform="rotate(45 1015.6 948.5)" fill="rgb(91,1,0)"/>
<ellipse cx="1063.8" cy="825.4" rx="3.2" ry="2.2" transform="rotate(119 1063.8 825.4)" fill="rgb(62,0,0)"/>
<ellipse cx="1139.2" cy="971.5" rx="2.4" ry="2.6" transform="rotate(105 1139.2 971.5)" fill="rgb(88,1,0)"/>
<ellipse cx="1060.5" cy="883.1" rx="3.3" ry="2.9" transform="rotate(155 1060.5 883.1)" fill="rgb(70,0,0)"/>
<ellipse cx="1053.1" cy="974.4" rx="3.5" ry="2.9" transform="rotate(170 1053.1 974.4)" fill="rgb(61,0,0)"/>
<ellipse cx="1029.7" cy="956.1" rx="2.4" ry="1.9" transform="rotate(114 1029.7 956.1)" fill="rgb(64,0,0)"/>
<ellipse cx="1078.7" cy="909.2" rx="2.9" ry="2.6" transform="rotate(82 1078.7 909.2)" fill="rgb(81,1,0)"/>
<ellipse cx="1037.5" cy="926.5" rx="2.3" ry="1.9" transform="rotate(30 1037.5 926.5)" fill="rgb(82,1,0)"/>
<ellipse cx="1040.6" cy="921.7" rx="2.8" ry="2.4" transform="rotate(83 1040.6 921.7)" fill="rgb(81,1,0)"/>
<ellipse cx="1088.2" cy="961.9" rx="2.6" ry="2.6" transform="rotate(20 1088.2 961.9)" fill="rgb(62,0,0)"/>
<ellipse cx="1125.2" cy="894.3" rx="2.5" ry="2.8" transform="rotate(71 1125.2 894.3)" fill="rgb(85,1,0)"/>
<ellipse cx="1135.2" cy="904.2" rx="2.4" ry="1.8" transform="rotate(57 1135.2 904.2)" fill="rgb(91,1,0)"/>
<ellipse cx="992.4" cy="833.5" rx="2.3" ry="2" transform="rotate(145 992.4 833.5)" fill="rgb(71,0,0)"/>
<ellipse cx="1086.1" cy="825.6" rx="2.6" ry="1.9" transform="rotate(69 1086.1 825.6)" fill="rgb(85,1,0)"/>
<ellipse cx="1059.8" cy="945.6" rx="3.4" ry="2.5" transform="rotate(41 1059.8 945.6)" fill="rgb(63,0,0)"/>
<ellipse cx="1058.3" cy="832.1" rx="3.2" ry="2.6" transform="rotate(120 1058.3 832.1)" fill="rgb(66,0,0)"/>
<ellipse cx="1135.3" cy="899.3" rx="3.1" ry="2.4" transform="rotate(23 1135.3 899.3)" fill="rgb(75,0,0)"/>
<ellipse cx="1077.9" cy="902.8" rx="2.4" ry="2" transform="rotate(105 1077.9 902.8)" fill="rgb(82,1,0)"/>
<ellipse cx="1063.4" cy="941.7" rx="2.6" ry="1.8" transform="rotate(74 1063.4 941.7)" fill="rgb(84,1,0)"/>
<ellipse cx="1058.2" cy="958.6" rx="2.1" ry="1.9" transform="rotate(77 1058.2 958.6)" fill="rgb(89,1,0)"/>
<ellipse cx="1071.9" cy="897.4" rx="2.4" ry="2.2" transform="rotate(10 1071.9 897.4)" fill="rgb(60,0,0)"/>
<ellipse cx="1051.5" cy="942.3" rx="1.9" ry="1.6" transform="rotate(61 1051.5 942.3)" fill="rgb(72,0,0)"/>
<ellipse cx="1033.1" cy="884.3" rx="2.4" ry="2.6" transform="rotate(4 1033.1 884.3)" fill="rgb(67,0,0)"/>
<ellipse cx="1067" cy="829.6" rx="2.1" ry="2.2" transform="rotate(171 1067 829.6)" fill="rgb(84,1,0)"/>
<ellipse cx="1053.9" cy="948.3" rx="3.1" ry="2.7" transform="rotate(64 1053.9 948.3)" fill="rgb(89,1,0)"/>
<ellipse cx="1040.9" cy="831.2" rx="2.5" ry="2.3" transform="rotate(73 1040.9 831.2)" fill="rgb(82,1,0)"/>
<ellipse cx="1069.1" cy="920.7" rx="3" ry="2.2" transform="rotate(145 1069.1 920.7)" fill="rgb(88,1,0)"/>
<ellipse cx="1033.3" cy="950.3" rx="3.2" ry="2.3" transform="rotate(57 1033.3 950.3)" fill="rgb(79,0,0)"/>
</g></g>
<line x1="1132.9" y1="968.9" x2="1163.7" y2="968.9" stroke="#e6e6e6" stroke-width="1.1"/>
<text x="1148.3" y="968" font-size="3.6" style="fill:#e0e0e0;stroke:none" text-anchor="middle">100μm</text>
</g>
</svg></body></html>
